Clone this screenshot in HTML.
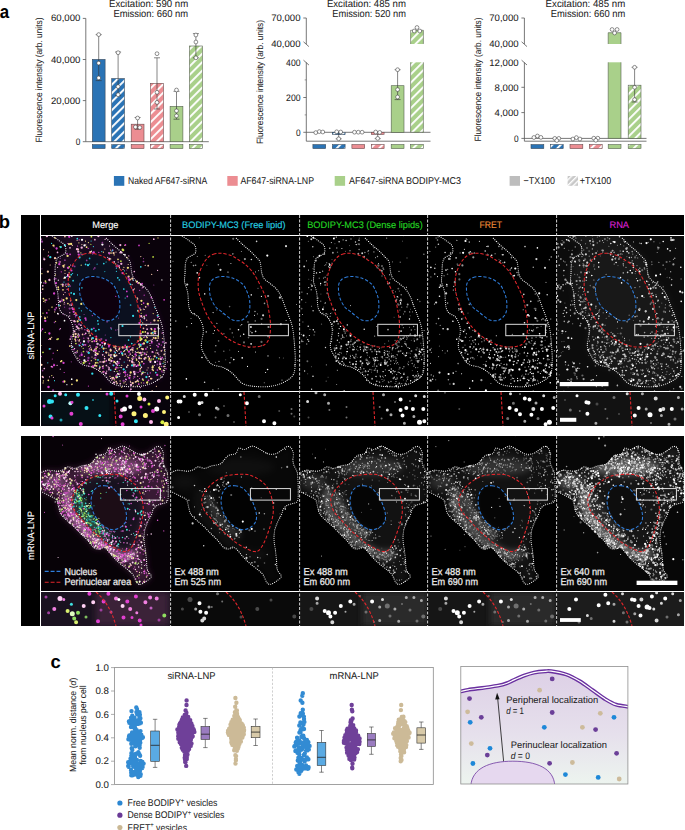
<!DOCTYPE html>
<html><head><meta charset="utf-8"><style>
html,body{margin:0;padding:0;background:#fff;}
body{width:685px;height:830px;overflow:hidden;}
svg{display:block;font-family:"Liberation Sans", sans-serif;text-rendering:geometricPrecision;}
</style></head><body>
<svg width="685" height="830" viewBox="0 0 685 830">
<defs>
<pattern id="hb" patternUnits="userSpaceOnUse" width="6" height="6" patternTransform="rotate(45)"><rect width="6" height="6" fill="#2a73b5"/><rect x="0" width="1.9" height="6" fill="#fff"/></pattern>
<pattern id="hp" patternUnits="userSpaceOnUse" width="6" height="6" patternTransform="rotate(45)"><rect width="6" height="6" fill="#ec8d92"/><rect x="0" width="1.9" height="6" fill="#fff"/></pattern>
<pattern id="hg" patternUnits="userSpaceOnUse" width="6" height="6" patternTransform="rotate(45)"><rect width="6" height="6" fill="#a9d08a"/><rect x="0" width="1.9" height="6" fill="#fff"/></pattern>
<pattern id="hk" patternUnits="userSpaceOnUse" width="4" height="4" patternTransform="rotate(45)"><rect width="4" height="4" fill="#c8c8c8"/><rect x="0" width="1.4" height="4" fill="#fff"/></pattern>
<filter id="bl1" x="-10%" y="-10%" width="120%" height="120%"><feGaussianBlur stdDeviation="0.35"/></filter>
<filter id="bl2" x="-10%" y="-10%" width="120%" height="120%"><feGaussianBlur stdDeviation="0.8"/></filter>
<filter id="bl5" x="-10%" y="-10%" width="120%" height="120%"><feGaussianBlur stdDeviation="0.55"/></filter>
<filter id="bl3" x="-10%" y="-10%" width="120%" height="120%"><feGaussianBlur stdDeviation="3"/></filter>
<linearGradient id="cellg" x1="0" y1="0" x2="0" y2="1"><stop offset="0" stop-color="#ddd0e6"/><stop offset="0.55" stop-color="#e6e0ec"/><stop offset="1" stop-color="#edf5ef"/></linearGradient>
</defs>
<text x="-0.30" y="18.00" font-size="18.4" fill="#000" font-weight="bold" textLength="9.40" lengthAdjust="spacingAndGlyphs">a</text>
<text x="109.00" y="6.70" font-size="10.12" fill="#222" stroke="#222" stroke-width="0.05" textLength="79.20" lengthAdjust="spacingAndGlyphs">Excitation: 590 nm</text>
<text x="113.40" y="17.30" font-size="10.12" fill="#222" stroke="#222" stroke-width="0.05" textLength="74.80" lengthAdjust="spacingAndGlyphs">Emission: 660 nm</text>
<text x="42.40" y="80.00" font-size="9.13" fill="#222" stroke="#222" stroke-width="0.05" text-anchor="middle" textLength="124.80" lengthAdjust="spacingAndGlyphs" transform="rotate(-90 42.40 80.00)">Fluorescence intensity (arb. units)</text>
<path d="M85.8 18.4V141.7H208.8" stroke="#555" stroke-width="0.8" fill="none"/>
<path d="M82.8 141.70H85.8" stroke="#555" stroke-width="0.8"/>
<text x="75.70" y="144.70" font-size="9.46" fill="#222" stroke="#222" stroke-width="0.05" textLength="4.60" lengthAdjust="spacingAndGlyphs">0</text>
<path d="M82.8 100.60H85.8" stroke="#555" stroke-width="0.8"/>
<text x="51.00" y="103.60" font-size="9.46" fill="#222" stroke="#222" stroke-width="0.05" textLength="29.30" lengthAdjust="spacingAndGlyphs">20,000</text>
<path d="M82.8 59.50H85.8" stroke="#555" stroke-width="0.8"/>
<text x="51.00" y="62.50" font-size="9.46" fill="#222" stroke="#222" stroke-width="0.05" textLength="29.30" lengthAdjust="spacingAndGlyphs">40,000</text>
<path d="M82.8 18.40H85.8" stroke="#555" stroke-width="0.8"/>
<text x="51.00" y="21.40" font-size="9.46" fill="#222" stroke="#222" stroke-width="0.05" textLength="29.30" lengthAdjust="spacingAndGlyphs">60,000</text>
<rect x="92.30" y="59.40" width="12.80" height="82.30" fill="#2a73b5" stroke="#3a4a5a" stroke-width="0.6"/>
<rect x="92.30" y="144.60" width="12.80" height="4.00" fill="#2a73b5" stroke="#3a4a5a" stroke-width="0.6"/>
<rect x="111.70" y="78.60" width="12.80" height="63.10" fill="url(#hb)" stroke="#3a4a5a" stroke-width="0.6"/>
<rect x="111.70" y="144.60" width="12.80" height="4.00" fill="url(#hb)" stroke="#3a4a5a" stroke-width="0.6"/>
<rect x="131.20" y="124.20" width="12.80" height="17.50" fill="#ec8d92" stroke="#6a4a4c" stroke-width="0.6"/>
<rect x="131.20" y="144.60" width="12.80" height="4.00" fill="#ec8d92" stroke="#6a4a4c" stroke-width="0.6"/>
<rect x="150.60" y="83.30" width="12.80" height="58.40" fill="url(#hp)" stroke="#6a4a4c" stroke-width="0.6"/>
<rect x="150.60" y="144.60" width="12.80" height="4.00" fill="url(#hp)" stroke="#6a4a4c" stroke-width="0.6"/>
<rect x="170.10" y="106.40" width="12.80" height="35.30" fill="#a9d08a" stroke="#55604e" stroke-width="0.6"/>
<rect x="170.10" y="144.60" width="12.80" height="4.00" fill="#a9d08a" stroke="#55604e" stroke-width="0.6"/>
<rect x="189.50" y="46.00" width="12.80" height="95.70" fill="url(#hg)" stroke="#55604e" stroke-width="0.6"/>
<rect x="189.50" y="144.60" width="12.80" height="4.00" fill="url(#hg)" stroke="#55604e" stroke-width="0.6"/>
<path d="M98.70 34.60V80.60M95.70 34.60h6M95.70 80.60h6" stroke="#333" stroke-width="0.6" fill="none"/>
<circle cx="98.70" cy="34.60" r="1.9" fill="#fff" stroke="#444" stroke-width="0.6"/>
<circle cx="98.70" cy="63.10" r="1.9" fill="#fff" stroke="#444" stroke-width="0.6"/>
<circle cx="98.70" cy="77.90" r="1.9" fill="#fff" stroke="#444" stroke-width="0.6"/>
<path d="M118.10 52.00V95.70M115.10 52.00h6M115.10 95.70h6" stroke="#333" stroke-width="0.6" fill="none"/>
<circle cx="118.10" cy="52.70" r="1.9" fill="#fff" stroke="#444" stroke-width="0.6"/>
<circle cx="118.10" cy="86.60" r="1.9" fill="#fff" stroke="#444" stroke-width="0.6"/>
<circle cx="118.10" cy="94.70" r="1.9" fill="#fff" stroke="#444" stroke-width="0.6"/>
<path d="M137.60 117.50V129.30M134.60 117.50h6M134.60 129.30h6" stroke="#333" stroke-width="0.6" fill="none"/>
<circle cx="137.60" cy="118.00" r="1.9" fill="#fff" stroke="#444" stroke-width="0.6"/>
<circle cx="135.40" cy="127.00" r="1.9" fill="#fff" stroke="#444" stroke-width="0.6"/>
<circle cx="139.80" cy="127.50" r="1.9" fill="#fff" stroke="#444" stroke-width="0.6"/>
<path d="M157.00 57.80V109.00M154.00 57.80h6M154.00 109.00h6" stroke="#333" stroke-width="0.6" fill="none"/>
<circle cx="157.00" cy="53.70" r="1.9" fill="#fff" stroke="#444" stroke-width="0.6"/>
<circle cx="157.00" cy="92.30" r="1.9" fill="#fff" stroke="#444" stroke-width="0.6"/>
<circle cx="157.00" cy="102.40" r="1.9" fill="#fff" stroke="#444" stroke-width="0.6"/>
<path d="M176.50 91.30V119.20M173.50 91.30h6M173.50 119.20h6" stroke="#333" stroke-width="0.6" fill="none"/>
<circle cx="176.50" cy="90.00" r="1.9" fill="#fff" stroke="#444" stroke-width="0.6"/>
<circle cx="176.50" cy="110.80" r="1.9" fill="#fff" stroke="#444" stroke-width="0.6"/>
<circle cx="176.50" cy="115.80" r="1.9" fill="#fff" stroke="#444" stroke-width="0.6"/>
<path d="M195.90 33.60V57.80M192.90 33.60h6M192.90 57.80h6" stroke="#333" stroke-width="0.6" fill="none"/>
<circle cx="195.90" cy="35.00" r="1.9" fill="#fff" stroke="#444" stroke-width="0.6"/>
<circle cx="195.90" cy="42.00" r="1.9" fill="#fff" stroke="#444" stroke-width="0.6"/>
<circle cx="195.90" cy="57.80" r="1.9" fill="#fff" stroke="#444" stroke-width="0.6"/>
<text x="326.90" y="6.70" font-size="10.12" fill="#222" stroke="#222" stroke-width="0.05" textLength="79.00" lengthAdjust="spacingAndGlyphs">Excitation: 485 nm</text>
<text x="332.30" y="17.30" font-size="10.12" fill="#222" stroke="#222" stroke-width="0.05" textLength="73.60" lengthAdjust="spacingAndGlyphs">Emission: 520 nm</text>
<text x="263.30" y="82.00" font-size="9.13" fill="#222" stroke="#222" stroke-width="0.05" text-anchor="middle" textLength="124.00" lengthAdjust="spacingAndGlyphs" transform="rotate(-90 263.30 82.00)">Fluorescence intensity (arb. units)</text>
<path d="M306.3 18V44M303.5 41.8L308.90000000000003 46.6M306.3 62.4V141.2M303.5 60.2L308.90000000000003 65" stroke="#555" stroke-width="0.8" fill="none"/>
<path d="M303.3 18H306.3" stroke="#555" stroke-width="0.8"/>
<text x="271.20" y="21.30" font-size="9.46" fill="#222" stroke="#222" stroke-width="0.05" textLength="29.30" lengthAdjust="spacingAndGlyphs">70,000</text>
<text x="271.20" y="47.30" font-size="9.46" fill="#222" stroke="#222" stroke-width="0.05" textLength="29.30" lengthAdjust="spacingAndGlyphs">40,000</text>
<text x="286.10" y="65.50" font-size="9.46" fill="#222" stroke="#222" stroke-width="0.05" textLength="14.40" lengthAdjust="spacingAndGlyphs">400</text>
<path d="M303.3 97.50H306.3" stroke="#555" stroke-width="0.8"/>
<text x="286.10" y="100.80" font-size="9.46" fill="#222" stroke="#222" stroke-width="0.05" textLength="14.40" lengthAdjust="spacingAndGlyphs">200</text>
<path d="M303.3 132.30H306.3" stroke="#555" stroke-width="0.8"/>
<text x="295.90" y="135.60" font-size="9.46" fill="#222" stroke="#222" stroke-width="0.05" textLength="4.60" lengthAdjust="spacingAndGlyphs">0</text>
<path d="M304.7 79.90H306.3" stroke="#555" stroke-width="0.6"/>
<path d="M304.7 114.90H306.3" stroke="#555" stroke-width="0.6"/>
<path d="M306.3 132.3H430.5M306.3 141.2H430.5" stroke="#555" stroke-width="0.8" fill="none"/>
<rect x="312.90" y="144.60" width="12.80" height="4.00" fill="#2a73b5" stroke="#3a4a5a" stroke-width="0.6"/>
<rect x="332.30" y="144.60" width="12.80" height="4.00" fill="url(#hb)" stroke="#3a4a5a" stroke-width="0.6"/>
<rect x="351.90" y="144.60" width="12.80" height="4.00" fill="#ec8d92" stroke="#6a4a4c" stroke-width="0.6"/>
<rect x="371.30" y="144.60" width="12.80" height="4.00" fill="url(#hp)" stroke="#6a4a4c" stroke-width="0.6"/>
<rect x="391.20" y="144.60" width="12.80" height="4.00" fill="#a9d08a" stroke="#55604e" stroke-width="0.6"/>
<rect x="410.60" y="144.60" width="12.80" height="4.00" fill="url(#hg)" stroke="#55604e" stroke-width="0.6"/>
<rect x="410.60" y="30.30" width="12.80" height="13.70" fill="url(#hg)"/>
<path d="M410.60 44.00V30.30H423.40V44.00" fill="none" stroke="#55604e" stroke-width="0.6"/>
<rect x="391.20" y="85.70" width="12.80" height="46.60" fill="#a9d08a" stroke="#55604e" stroke-width="0.6"/>
<rect x="410.60" y="62.30" width="12.80" height="70.00" fill="url(#hg)"/>
<path d="M410.60 62.30V132.30H423.40V62.30" fill="none" stroke="#55604e" stroke-width="0.6"/>
<rect x="332.30" y="132.30" width="12.80" height="2.30" fill="url(#hb)" stroke="#3a4a5a" stroke-width="0.6"/>
<rect x="371.30" y="132.30" width="12.80" height="2.10" fill="url(#hp)" stroke="#6a4a4c" stroke-width="0.6"/>
<path d="M397.60 69.70V99.60M394.60 69.70h6M394.60 99.60h6" stroke="#333" stroke-width="0.6" fill="none"/>
<path d="M338.70 132.30V138.80M335.70 132.30h6M335.70 138.80h6" stroke="#333" stroke-width="0.6" fill="none"/>
<path d="M377.70 132.30V138.60M374.70 132.30h6M374.70 138.60h6" stroke="#333" stroke-width="0.6" fill="none"/>
<circle cx="315.80" cy="132.60" r="1.9" fill="#fff" stroke="#444" stroke-width="0.6"/>
<circle cx="319.30" cy="131.60" r="1.9" fill="#fff" stroke="#444" stroke-width="0.6"/>
<circle cx="322.80" cy="132.00" r="1.9" fill="#fff" stroke="#444" stroke-width="0.6"/>
<circle cx="336.70" cy="131.80" r="1.9" fill="#fff" stroke="#444" stroke-width="0.6"/>
<circle cx="340.70" cy="132.00" r="1.9" fill="#fff" stroke="#444" stroke-width="0.6"/>
<circle cx="338.70" cy="138.80" r="1.9" fill="#fff" stroke="#444" stroke-width="0.6"/>
<circle cx="354.50" cy="132.20" r="1.9" fill="#fff" stroke="#444" stroke-width="0.6"/>
<circle cx="358.30" cy="132.20" r="1.9" fill="#fff" stroke="#444" stroke-width="0.6"/>
<circle cx="362.10" cy="132.20" r="1.9" fill="#fff" stroke="#444" stroke-width="0.6"/>
<circle cx="375.70" cy="132.00" r="1.9" fill="#fff" stroke="#444" stroke-width="0.6"/>
<circle cx="379.70" cy="132.40" r="1.9" fill="#fff" stroke="#444" stroke-width="0.6"/>
<circle cx="377.70" cy="138.40" r="1.9" fill="#fff" stroke="#444" stroke-width="0.6"/>
<circle cx="397.60" cy="69.70" r="1.9" fill="#fff" stroke="#444" stroke-width="0.6"/>
<circle cx="397.60" cy="89.60" r="1.9" fill="#fff" stroke="#444" stroke-width="0.6"/>
<circle cx="397.60" cy="97.00" r="1.9" fill="#fff" stroke="#444" stroke-width="0.6"/>
<circle cx="417.00" cy="27.50" r="1.9" fill="#fff" stroke="#444" stroke-width="0.6"/>
<circle cx="414.20" cy="31.00" r="1.9" fill="#fff" stroke="#444" stroke-width="0.6"/>
<circle cx="419.80" cy="31.00" r="1.9" fill="#fff" stroke="#444" stroke-width="0.6"/>
<text x="545.60" y="6.70" font-size="10.12" fill="#222" stroke="#222" stroke-width="0.05" textLength="79.60" lengthAdjust="spacingAndGlyphs">Excitation: 485 nm</text>
<text x="550.80" y="17.30" font-size="10.12" fill="#222" stroke="#222" stroke-width="0.05" textLength="74.40" lengthAdjust="spacingAndGlyphs">Emission: 660 nm</text>
<text x="480.50" y="79.50" font-size="9.13" fill="#222" stroke="#222" stroke-width="0.05" text-anchor="middle" textLength="124.00" lengthAdjust="spacingAndGlyphs" transform="rotate(-90 480.50 79.50)">Fluorescence intensity (arb. units)</text>
<path d="M524.4 18V44M521.6 41.8L527.0 46.6M524.4 62.4V141.2M521.6 60.2L527.0 65" stroke="#555" stroke-width="0.8" fill="none"/>
<path d="M521.4 18H524.4" stroke="#555" stroke-width="0.8"/>
<text x="489.30" y="21.30" font-size="9.46" fill="#222" stroke="#222" stroke-width="0.05" textLength="29.30" lengthAdjust="spacingAndGlyphs">70,000</text>
<text x="489.30" y="47.30" font-size="9.46" fill="#222" stroke="#222" stroke-width="0.05" textLength="29.30" lengthAdjust="spacingAndGlyphs">40,000</text>
<text x="489.30" y="65.90" font-size="9.46" fill="#222" stroke="#222" stroke-width="0.05" textLength="29.30" lengthAdjust="spacingAndGlyphs">12,000</text>
<path d="M521.4 87.30H524.4" stroke="#555" stroke-width="0.8"/>
<text x="494.60" y="90.60" font-size="9.46" fill="#222" stroke="#222" stroke-width="0.05" textLength="24.00" lengthAdjust="spacingAndGlyphs">8,000</text>
<path d="M521.4 112.60H524.4" stroke="#555" stroke-width="0.8"/>
<text x="494.60" y="115.90" font-size="9.46" fill="#222" stroke="#222" stroke-width="0.05" textLength="24.00" lengthAdjust="spacingAndGlyphs">4,000</text>
<path d="M521.4 138.40H524.4" stroke="#555" stroke-width="0.8"/>
<text x="514.00" y="141.70" font-size="9.46" fill="#222" stroke="#222" stroke-width="0.05" textLength="4.60" lengthAdjust="spacingAndGlyphs">0</text>
<path d="M524.4 138.4H646.5M524.4 141.2H646.5" stroke="#555" stroke-width="0.8" fill="none"/>
<rect x="531.00" y="144.60" width="12.80" height="4.00" fill="#2a73b5" stroke="#3a4a5a" stroke-width="0.6"/>
<rect x="550.40" y="144.60" width="12.80" height="4.00" fill="url(#hb)" stroke="#3a4a5a" stroke-width="0.6"/>
<rect x="570.00" y="144.60" width="12.80" height="4.00" fill="#ec8d92" stroke="#6a4a4c" stroke-width="0.6"/>
<rect x="589.40" y="144.60" width="12.80" height="4.00" fill="url(#hp)" stroke="#6a4a4c" stroke-width="0.6"/>
<rect x="608.20" y="144.60" width="12.80" height="4.00" fill="#a9d08a" stroke="#55604e" stroke-width="0.6"/>
<rect x="628.20" y="144.60" width="12.80" height="4.00" fill="url(#hg)" stroke="#55604e" stroke-width="0.6"/>
<rect x="608.20" y="32.70" width="12.80" height="11.30" fill="#a9d08a"/>
<path d="M608.20 44.00V32.70H621.00V44.00" fill="none" stroke="#55604e" stroke-width="0.6"/>
<rect x="608.20" y="62.30" width="12.80" height="76.10" fill="#a9d08a"/>
<path d="M608.20 62.30V138.40H621.00V62.30" fill="none" stroke="#55604e" stroke-width="0.6"/>
<rect x="628.20" y="85.20" width="12.80" height="53.20" fill="url(#hg)" stroke="#55604e" stroke-width="0.6"/>
<path d="M634.60 67.30V102.00M631.60 67.30h6M631.60 102.00h6" stroke="#333" stroke-width="0.6" fill="none"/>
<circle cx="533.90" cy="137.50" r="1.9" fill="#fff" stroke="#444" stroke-width="0.6"/>
<circle cx="537.40" cy="136.00" r="1.9" fill="#fff" stroke="#444" stroke-width="0.6"/>
<circle cx="540.90" cy="137.40" r="1.9" fill="#fff" stroke="#444" stroke-width="0.6"/>
<circle cx="554.80" cy="138.40" r="1.9" fill="#fff" stroke="#444" stroke-width="0.6"/>
<circle cx="558.80" cy="138.40" r="1.9" fill="#fff" stroke="#444" stroke-width="0.6"/>
<circle cx="556.80" cy="140.50" r="1.9" fill="#fff" stroke="#444" stroke-width="0.6"/>
<circle cx="572.90" cy="139.00" r="1.9" fill="#fff" stroke="#444" stroke-width="0.6"/>
<circle cx="576.40" cy="137.60" r="1.9" fill="#fff" stroke="#444" stroke-width="0.6"/>
<circle cx="579.90" cy="139.00" r="1.9" fill="#fff" stroke="#444" stroke-width="0.6"/>
<circle cx="593.80" cy="138.20" r="1.9" fill="#fff" stroke="#444" stroke-width="0.6"/>
<circle cx="597.80" cy="138.20" r="1.9" fill="#fff" stroke="#444" stroke-width="0.6"/>
<circle cx="595.80" cy="140.30" r="1.9" fill="#fff" stroke="#444" stroke-width="0.6"/>
<circle cx="612.10" cy="29.50" r="1.9" fill="#fff" stroke="#444" stroke-width="0.6"/>
<circle cx="617.10" cy="29.50" r="1.9" fill="#fff" stroke="#444" stroke-width="0.6"/>
<circle cx="614.60" cy="33.00" r="1.9" fill="#fff" stroke="#444" stroke-width="0.6"/>
<circle cx="634.60" cy="67.30" r="1.9" fill="#fff" stroke="#444" stroke-width="0.6"/>
<circle cx="634.60" cy="87.30" r="1.9" fill="#fff" stroke="#444" stroke-width="0.6"/>
<circle cx="634.60" cy="99.60" r="1.9" fill="#fff" stroke="#444" stroke-width="0.6"/>
<rect x="113.9" y="176" width="10.4" height="9.8" fill="#2a73b5"/>
<text x="128.00" y="183.90" font-size="9.9" fill="#222" stroke="#222" stroke-width="0.05" textLength="79.20" lengthAdjust="spacingAndGlyphs">Naked AF647-siRNA</text>
<rect x="227.3" y="176" width="10.4" height="9.8" fill="#ec8d92"/>
<text x="240.40" y="183.90" font-size="9.9" fill="#222" stroke="#222" stroke-width="0.05" textLength="73.60" lengthAdjust="spacingAndGlyphs">AF647-siRNA-LNP</text>
<rect x="334.7" y="176" width="10.4" height="9.8" fill="#a9d08a"/>
<text x="349.00" y="183.90" font-size="9.9" fill="#222" stroke="#222" stroke-width="0.05" textLength="112.00" lengthAdjust="spacingAndGlyphs">AF647-siRNA BODIPY-MC3</text>
<rect x="509.6" y="176" width="10.4" height="9.8" fill="#bdbdbd"/>
<text x="523.60" y="183.90" font-size="9.9" fill="#222" stroke="#222" stroke-width="0.05" textLength="31.40" lengthAdjust="spacingAndGlyphs">−TX100</text>
<rect x="567.6" y="176" width="10.4" height="9.8" fill="url(#hk)"/>
<text x="579.80" y="183.90" font-size="9.9" fill="#222" stroke="#222" stroke-width="0.05" textLength="31.50" lengthAdjust="spacingAndGlyphs">+TX100</text>
<text x="-1.30" y="227.80" font-size="18.4" fill="#000" font-weight="bold">b</text>
<rect x="21" y="215" width="663" height="211" fill="#000"/>
<rect x="21" y="436" width="663" height="190" fill="#000"/>
<defs>
<path id="s1o" d="M10.6 0.0C12.1 1.0 16.9 4.0 19.3 5.8C21.7 7.6 23.9 8.7 25.0 10.6C26.1 12.5 26.1 15.8 25.6 17.4C25.1 19.0 23.6 19.4 22.2 20.3C20.8 21.2 18.5 21.7 17.4 23.1C16.3 24.6 15.8 26.4 15.4 29.0C15.0 31.6 15.2 35.7 15.0 38.6C14.8 41.5 14.3 44.2 14.5 46.3C14.7 48.4 15.3 49.2 15.9 51.1C16.4 53.0 17.4 55.5 17.8 57.9C18.2 60.3 18.1 63.0 18.3 65.6C18.6 68.2 18.7 71.2 19.3 73.3C19.9 75.4 20.7 76.6 22.2 78.1C23.7 79.5 26.8 80.0 28.5 82.0C30.2 84.0 31.7 87.3 32.5 90.0C33.3 92.7 33.4 94.4 33.2 97.9C33.0 101.4 31.0 107.4 31.3 111.2C31.6 115.0 33.4 117.6 35.1 120.6C36.8 123.6 38.7 127.2 41.7 129.2C44.7 131.2 49.6 130.9 53.1 132.5C56.6 134.1 59.4 135.9 62.6 138.5C65.8 141.1 68.6 146.1 72.1 148.2C75.6 150.3 78.8 150.8 83.5 151.3C88.2 151.8 95.5 152.0 100.6 151.3C105.7 150.6 110.1 149.1 113.9 147.2C117.7 145.2 121.4 143.1 123.3 139.6C125.2 136.1 125.0 131.7 125.2 126.3C125.4 120.9 124.8 113.1 124.3 107.4C123.8 101.7 123.4 96.6 122.4 92.2C121.5 87.8 120.0 84.6 118.6 80.8C117.2 77.0 115.4 72.6 114.2 69.4C113.0 66.2 112.6 64.3 111.3 61.7C110.0 59.1 108.4 56.2 106.5 54.0C104.6 51.8 101.8 50.0 99.7 48.2C97.6 46.4 95.3 45.3 93.9 43.4C92.5 41.5 92.1 39.3 91.5 36.6C90.9 33.9 91.1 29.6 90.1 27.0C89.1 24.4 87.1 23.1 85.3 21.2C83.5 19.3 81.6 17.3 79.5 15.4C77.4 13.5 75.0 11.7 72.7 9.6C70.5 7.5 67.1 4.0 66.0 2.9"/>
<path id="s1c" d="M10.6 -6.0C1.7 -5.0 9.1 -2.0 10.6 0.0C12.1 2.0 16.9 4.0 19.3 5.8C21.7 7.6 23.9 8.7 25.0 10.6C26.1 12.5 26.1 15.8 25.6 17.4C25.1 19.0 23.6 19.4 22.2 20.3C20.8 21.2 18.5 21.7 17.4 23.1C16.3 24.6 15.8 26.4 15.4 29.0C15.0 31.6 15.2 35.7 15.0 38.6C14.8 41.5 14.3 44.2 14.5 46.3C14.7 48.4 15.3 49.2 15.9 51.1C16.4 53.0 17.4 55.5 17.8 57.9C18.2 60.3 18.1 63.0 18.3 65.6C18.6 68.2 18.7 71.2 19.3 73.3C19.9 75.4 20.7 76.6 22.2 78.1C23.7 79.5 26.8 80.0 28.5 82.0C30.2 84.0 31.7 87.3 32.5 90.0C33.3 92.7 33.4 94.4 33.2 97.9C33.0 101.4 31.0 107.4 31.3 111.2C31.6 115.0 33.4 117.6 35.1 120.6C36.8 123.6 38.7 127.2 41.7 129.2C44.7 131.2 49.6 130.9 53.1 132.5C56.6 134.1 59.4 135.9 62.6 138.5C65.8 141.1 68.6 146.1 72.1 148.2C75.6 150.3 78.8 150.8 83.5 151.3C88.2 151.8 95.5 152.0 100.6 151.3C105.7 150.6 110.1 149.1 113.9 147.2C117.7 145.2 121.4 143.1 123.3 139.6C125.2 136.1 125.0 131.7 125.2 126.3C125.4 120.9 124.8 113.1 124.3 107.4C123.8 101.7 123.4 96.6 122.4 92.2C121.5 87.8 120.0 84.6 118.6 80.8C117.2 77.0 115.4 72.6 114.2 69.4C113.0 66.2 112.6 64.3 111.3 61.7C110.0 59.1 108.4 56.2 106.5 54.0C104.6 51.8 101.8 50.0 99.7 48.2C97.6 46.4 95.3 45.3 93.9 43.4C92.5 41.5 92.1 39.3 91.5 36.6C90.9 33.9 91.1 29.6 90.1 27.0C89.1 24.4 87.1 23.1 85.3 21.2C83.5 19.3 81.6 17.3 79.5 15.4C77.4 13.5 75.0 11.7 72.7 9.6C70.5 7.5 67.5 5.5 66.0 2.9C64.5 0.3 73.2 -4.5 64.0 -6.0C54.8 -7.5 19.5 -7.0 10.6 -6.0Z"/>
<path id="s1r" d="M43.4 19.3C45.6 18.6 48.0 18.1 51.1 18.3C54.2 18.5 58.9 19.7 61.7 20.7C64.5 21.7 65.8 23.1 68.0 24.5C70.2 25.9 72.4 27.0 74.6 28.9C76.8 30.8 79.3 33.1 81.4 35.7C83.5 38.3 85.3 41.0 87.2 44.4C89.1 47.8 91.4 52.4 93.0 55.9C94.6 59.4 95.8 62.1 96.8 65.6C97.8 69.1 98.4 73.3 99.0 77.0C99.6 80.7 100.3 84.0 100.4 88.0C100.5 92.0 100.5 97.6 99.8 101.0C99.1 104.4 97.8 106.8 96.0 108.5C94.2 110.2 92.4 110.9 89.2 111.4C86.0 111.9 81.4 112.4 77.0 111.6C72.6 110.8 66.6 108.4 62.6 106.4C58.6 104.4 56.3 102.5 53.1 99.8C49.9 97.1 46.4 93.8 43.6 90.3C40.8 86.8 38.5 83.0 36.5 79.0C34.5 75.0 32.6 69.8 31.3 66.0C30.0 62.2 29.1 59.3 28.6 56.0C28.1 52.7 28.1 49.1 28.2 46.0C28.3 42.9 28.6 40.4 29.5 37.5C30.4 34.6 32.1 31.0 33.5 28.5C34.9 26.0 36.4 24.0 38.0 22.5C39.6 21.0 41.2 20.0 43.4 19.3Z"/>
<path id="s1b" d="M46.3 42.4C48.3 41.7 51.1 41.3 54.0 41.5C56.9 41.7 60.5 42.1 63.6 43.4C66.7 44.7 70.4 46.8 72.7 49.2C75.0 51.6 76.3 54.9 77.5 57.9C78.7 60.9 79.6 64.1 79.8 67.5C80.0 70.9 80.0 75.4 78.7 78.3C77.4 81.2 74.8 83.8 72.1 84.9C69.4 86.0 66.1 86.3 62.6 84.9C59.1 83.5 54.1 78.7 51.2 76.4C48.3 74.2 47.1 73.9 45.3 71.4C43.5 69.0 41.5 65.1 40.5 61.7C39.5 58.3 39.3 53.8 39.5 51.1C39.7 48.4 40.7 47.0 41.8 45.5C42.9 44.0 44.3 43.1 46.3 42.4Z"/>
<path id="s2o" d="M1.9 37.2C2.9 36.9 5.1 35.4 7.7 35.2C10.3 35.0 14.8 36.3 17.4 36.2C20.0 36.1 21.3 35.5 23.1 34.8C24.9 34.1 26.1 32.1 28.0 31.9C29.9 31.6 32.5 33.5 34.7 33.3C37.0 33.1 38.9 31.6 41.5 30.9C44.1 30.2 48.0 30.0 50.1 29.0C52.2 28.0 52.7 26.5 54.0 25.1C55.3 23.7 56.6 21.7 57.9 20.8C59.2 19.9 60.6 19.9 62.0 19.5C63.4 19.1 64.8 19.5 66.0 18.4C67.2 17.3 67.5 13.8 68.9 13.1C70.3 12.4 72.3 14.8 74.6 14.5C76.8 14.2 79.8 11.1 82.4 11.1C85.0 11.1 87.5 13.2 90.1 14.5C92.7 15.8 95.2 18.1 97.8 18.8C100.4 19.5 103.2 19.4 105.5 18.8C107.8 18.2 109.4 16.7 111.3 15.5C113.2 14.3 115.5 12.1 117.1 11.6C118.7 11.1 119.9 11.5 120.9 12.6C121.9 13.7 123.0 16.3 123.3 18.4C123.6 20.5 122.8 23.2 122.9 25.1C123.0 27.0 123.2 28.1 123.8 29.9C124.4 31.7 126.0 33.8 126.7 35.7C127.4 37.6 127.5 38.3 127.7 41.5C128.0 44.7 128.2 50.9 128.2 55.0C128.2 59.1 128.4 63.8 127.5 66.0C126.6 68.2 124.6 67.8 122.9 68.5C121.2 69.2 118.7 69.4 117.1 70.4C115.5 71.4 114.2 72.7 113.2 74.3C112.2 75.9 112.3 77.9 111.3 80.1C110.3 82.3 108.5 84.9 107.4 87.6C106.3 90.3 105.0 93.2 104.5 96.3C104.0 99.3 103.9 102.7 104.1 105.9C104.3 109.1 105.1 112.4 105.5 115.6C105.9 118.8 106.2 122.0 106.5 125.2C106.8 128.4 106.6 132.2 107.4 134.9C108.2 137.6 111.3 139.3 111.3 141.1C111.3 142.9 109.2 144.1 107.4 145.5C105.6 146.9 102.5 149.0 100.7 149.3C98.9 149.6 98.1 149.0 96.8 147.4C95.5 145.8 94.5 141.8 93.0 139.7C91.5 137.6 90.3 136.8 88.1 134.9C85.8 133.0 82.1 130.3 79.5 128.1C76.9 125.8 75.1 123.9 72.7 121.4C70.3 118.9 67.3 114.2 65.0 113.0C62.7 111.8 60.8 114.0 59.0 114.0C57.2 114.0 56.0 114.2 54.0 112.7C52.0 111.2 49.5 107.4 47.3 105.0C45.0 102.6 42.9 100.6 40.5 98.2C38.1 95.8 35.4 92.9 32.8 90.5C30.2 88.1 27.2 85.9 25.1 83.8C23.0 81.7 21.4 80.3 20.3 78.1C19.2 75.9 19.0 72.7 18.3 70.4C17.6 68.2 17.8 66.2 16.4 64.6C14.9 63.0 12.0 62.1 9.6 60.8C7.2 59.5 3.2 57.5 1.9 56.9"/>
<path id="s2c" d="M-4.0 37.5C-3.0 34.3 -0.1 37.6 1.9 37.2C3.8 36.8 5.1 35.4 7.7 35.2C10.3 35.0 14.8 36.3 17.4 36.2C20.0 36.1 21.3 35.5 23.1 34.8C24.9 34.1 26.1 32.1 28.0 31.9C29.9 31.6 32.5 33.5 34.7 33.3C37.0 33.1 38.9 31.6 41.5 30.9C44.1 30.2 48.0 30.0 50.1 29.0C52.2 28.0 52.7 26.5 54.0 25.1C55.3 23.7 56.6 21.7 57.9 20.8C59.2 19.9 60.6 19.9 62.0 19.5C63.4 19.1 64.8 19.5 66.0 18.4C67.2 17.3 67.5 13.8 68.9 13.1C70.3 12.4 72.3 14.8 74.6 14.5C76.8 14.2 79.8 11.1 82.4 11.1C85.0 11.1 87.5 13.2 90.1 14.5C92.7 15.8 95.2 18.1 97.8 18.8C100.4 19.5 103.2 19.4 105.5 18.8C107.8 18.2 109.4 16.7 111.3 15.5C113.2 14.3 115.5 12.1 117.1 11.6C118.7 11.1 119.9 11.5 120.9 12.6C121.9 13.7 123.0 16.3 123.3 18.4C123.6 20.5 122.8 23.2 122.9 25.1C123.0 27.0 123.2 28.1 123.8 29.9C124.4 31.7 126.0 33.8 126.7 35.7C127.4 37.6 127.5 38.3 127.7 41.5C128.0 44.7 128.2 50.9 128.2 55.0C128.2 59.1 128.4 63.8 127.5 66.0C126.6 68.2 124.6 67.8 122.9 68.5C121.2 69.2 118.7 69.4 117.1 70.4C115.5 71.4 114.2 72.7 113.2 74.3C112.2 75.9 112.3 77.9 111.3 80.1C110.3 82.3 108.5 84.9 107.4 87.6C106.3 90.3 105.0 93.2 104.5 96.3C104.0 99.3 103.9 102.7 104.1 105.9C104.3 109.1 105.1 112.4 105.5 115.6C105.9 118.8 106.2 122.0 106.5 125.2C106.8 128.4 106.6 132.2 107.4 134.9C108.2 137.6 111.3 139.3 111.3 141.1C111.3 142.9 109.2 144.1 107.4 145.5C105.6 146.9 102.5 149.0 100.7 149.3C98.9 149.6 98.1 149.0 96.8 147.4C95.5 145.8 94.5 141.8 93.0 139.7C91.5 137.6 90.3 136.8 88.1 134.9C85.8 133.0 82.1 130.3 79.5 128.1C76.9 125.8 75.1 123.9 72.7 121.4C70.3 118.9 67.3 114.2 65.0 113.0C62.7 111.8 60.8 114.0 59.0 114.0C57.2 114.0 56.0 114.2 54.0 112.7C52.0 111.2 49.5 107.4 47.3 105.0C45.0 102.6 42.9 100.6 40.5 98.2C38.1 95.8 35.4 92.9 32.8 90.5C30.2 88.1 27.2 85.9 25.1 83.8C23.0 81.7 21.4 80.3 20.3 78.1C19.2 75.9 19.0 72.7 18.3 70.4C17.6 68.2 17.8 66.2 16.4 64.6C14.9 63.0 12.0 62.1 9.6 60.8C7.2 59.5 4.2 57.6 1.9 56.9C-0.4 56.2 -3.0 59.7 -4.0 56.5C-5.0 53.3 -5.0 40.7 -4.0 37.5Z"/>
<path id="s2r" d="M65.0 39.6C68.9 39.3 73.8 39.0 77.5 39.6C81.2 40.2 84.5 42.0 87.2 43.4C89.9 44.8 92.0 46.4 93.9 48.3C95.8 50.2 97.5 52.6 98.8 55.0C100.1 57.4 100.9 60.1 101.6 62.7C102.3 65.3 102.8 67.7 103.1 70.4C103.3 73.1 103.5 75.7 103.1 78.9C102.7 82.1 101.6 86.3 100.7 89.5C99.8 92.7 98.9 95.1 97.8 98.2C96.7 101.3 95.4 105.1 93.9 107.9C92.5 110.7 90.7 113.7 89.1 115.1C87.5 116.5 86.7 116.9 84.3 116.5C81.9 116.1 77.8 114.3 74.6 112.7C71.4 111.1 67.5 108.7 65.0 106.9C62.5 105.1 61.6 103.7 59.8 102.1C58.0 100.5 56.2 99.4 54.0 97.3C51.8 95.2 48.5 91.9 46.3 89.5C44.0 87.1 42.3 84.8 40.5 82.8C38.7 80.8 36.9 79.6 35.5 77.5C34.1 75.4 32.9 72.2 32.3 70.0C31.7 67.8 31.6 65.8 31.8 64.0C32.0 62.1 32.7 60.9 33.8 58.9C34.9 56.9 36.7 54.2 38.6 52.1C40.5 50.0 42.7 48.1 45.3 46.3C47.9 44.5 50.7 42.6 54.0 41.5C57.3 40.4 61.1 39.9 65.0 39.6Z"/>
<path id="s2b" d="M65.0 50.7C67.5 51.0 70.3 51.4 72.7 53.1C75.1 54.8 77.7 58.2 79.5 60.8C81.3 63.4 82.2 65.5 83.3 68.5C84.4 71.5 85.9 75.5 86.3 78.5C86.7 81.5 86.7 84.3 85.7 86.6C84.7 88.9 82.6 91.0 80.4 92.4C78.2 93.8 75.3 94.9 72.7 94.8C70.1 94.7 67.4 93.5 65.0 92.0C62.6 90.5 60.3 88.2 58.5 86.0C56.7 83.8 55.1 81.3 54.0 79.0C52.9 76.7 52.3 74.8 51.8 72.4C51.3 70.0 50.9 67.2 51.1 64.6C51.3 62.0 51.9 59.1 53.0 56.9C54.1 54.7 55.9 52.6 57.9 51.6C59.9 50.6 62.5 50.5 65.0 50.7Z"/>
<clipPath id="cc1"><use href="#s1c"/></clipPath><clipPath id="cc2"><use href="#s2c"/></clipPath>
</defs>
<clipPath id="cp0_236"><rect x="41" y="236" width="129" height="155"/></clipPath>
<g clip-path="url(#cp0_236)">
<rect x="41" y="236" width="129" height="155" fill="#0a020b"/>
<g filter="url(#bl3)"><use href="#s1c" transform="translate(40 235)" fill="#40104a" fill-opacity="0.35"/></g>
<g filter="url(#bl3)"><use href="#s1r" transform="translate(40 235)" fill="#04181c" fill-opacity="0.6"/></g>
<g filter="url(#bl2)"><use href="#s1b" transform="translate(40 235)" fill="#07020a" fill-opacity="1.0"/></g>
<g stroke-linecap="round" fill="none" filter="url(#bl1)"><path d="M52.2 307.1h0m71.9 44.1h0m23 0.8h0m-13.5 4.6h0m-6.7-7h0m-61.9-79h0m32.4 76.6h0m-18.5-104.4h0m-35.8 140.1h0m8.7-7.3h0m25.8-40.4h0m59.7 17.2h0m-93.9 28.5h0m74.9-6.5h0m-27-13.7h0m-10.4-107.8h0m34.3 109.5h0m45.1 13.4h0m-36.6-3.4h0m-38.2-131.3h0m45.9 108.6h0m-7.2 22.9h0m-82.3-98.9h0m38 54.7h0m-11.9-39.2h0m46.2-34.3h0m9.4 96.7h0m-11.2 6.6h0m7-90.8h0m17.9 118.4h0m-27.3-9.5h0m-9.1 12.8h0m14.8-125.2h0m22.7 88.2h0m2.6-6h0m-23.3 30.4h0m-33.3-20.2h0m5.5-15.7h0m-32.5 9.8h0m34.2-11.1h0m11.7 26.6h0m23.3-9.9h0m15.5-6.7h0m-3 7h0m-28.6-106.2h0m45.5 102.8h0m-112.2-51.5h0m50.3 56.9h0m48.6-35.4h0m1.1 14.6h0m-19.9-70.2h0m6.5 114.3h0m-50.8-41.9h0m73.6-5.1h0m-33.1 46.3h0m-33.9-19.4h0m-36.5-81h0m2.2 26.7h0m12.2-3.2h0m77.6 0.3h0m-93.6-48.3h0m116.5 94.5h0m-98.3-64.2h0m86.9 27.3h0m-29.2 69.3h0m-55.3-114.8h0m-13.2 6.8h0m33.5 58.3h0m-48.8 45.4h0m63.2-126.4h0m47.2 96.2h0m-62.3-8.4h0m-19.2-67.7h0m52.6 114.9h0m-19.6-25.2h0m47.8-21.3h0m-43.9 7.6h0m15.8 17h0m19.5 17.5h0m-63.9-31.9h0m47.4-105.6h0m33.2-7.4h0m-110.7 79.1h0m41.1-74.4h0m22.3 16.3h0m30.7 115.8h0m-85.8-53.4h0m44.3 50.1h0m19.7 2.8h0m-28-7.4h0m56.8-25.8h0m-66.7 5.6h0m58.4-10.4h0m-91.2-26.2h0m89.5 71.7h0m-74.5-103.4h0m76.7 92.8h0m-99.7-25.7h0" stroke="#f6e27a" stroke-width="1.2"/><path d="M95.5 352.3h0m-33.9 8.6h0m13.7-47.9h0m33.4 42h0m-60.4 25.3h0m25.4-44.1h0m-10.9-50.2h0m-17.7 14.1h0m0.3-19h0m74.1 67.4h0m7.4-91h0m-27 109.7h0m-41.4-77.9h0m37.6 59h0m55.5-18.8h0m-108.2-30.9h0m96.5 47.6h0m-79.1 15.3h0m84.5-29.6h0m-3.3 29.8h0m-9.8-13.2h0m-36.6 14.4h0m-54.7-46.4h0m100.2 42h0m-73.2-55h0m-9.7-16.3h0m99.9 33.4h0m-21.3 60.7h0m-79.7-42h0m47.6 22.1h0m40.8-21h0m13.5 27.1h0m-22.4-7.6h0m-66.8-13.9h0m70.9-36.2h0m-44.3 31.5h0m26.2 13.6h0m16.9 8h0m-83.1-100.1h0m83.2 81.7h0m-24.1 24.7h0m33.8-11h0m-38.3-105.2h0m-35.9 86.2h0m43.9 10.4h0m30.1 10.3h0m-35-13h0m-51.1-57.1h0m84.1 47.7h0m-14.9 20.8h0m-14.2-99h0m-7.1 98.1h0m-24.3-110.2h0m35.9 99.9h0m16.9 5.7h0m-67.5 31.5h0m-16.9-146.5h0m98.6 100h0m-49 5.8h0m46.2 35h0m-59.5-29.3h0m-13.1-12.3h0m50.2 20.5h0m24.8 12.8h0m-42.4-14.9h0m-14.2 10.4h0" stroke="#f6e27a" stroke-width="1.7"/><path d="M133.8 364.9h0m-80.3-119.3h0m-8.5 72.7h0m26.1-74.3h0m59.6 128.5h0m-20-22h0m-41.7-106.4h0m-5.6 21.8h0m50.7 95.9h0m22.7-80.1h0m23.3 87.4h0m-45.8-14h0m-46.7-99.2h0m83.9 77.5h0m4.1 4.8h0m-7.8-34.3h0m4.8 63.5h0m-85.9-69h0m61.9-21.8h0m1.3 3h0m-13.4 97.7h0m-39.6 3.2h0m26.7-31.9h0m51-17.3h0m-57 22.6h0m29.1-6.8h0m14.8-8h0m-0.1-38.3h0m-78-0.6h0m14.3 21.1h0m45-71.6h0m21.2 93.8h0m-79.5 38h0m76-41.4h0m6.7 42.6h0m-19.2-114.9h0" stroke="#f6e27a" stroke-width="2.3"/><path d="M98.1 363h0m-33.1-89.5h0m-15.8 25.3h0m91.6-42.2h0m-14.5 127.7h0m15.7-22.9h0m-17 15h0m0.2 5.3h0m7.5-29.6h0m14.3 17.9h0m-102.3-53h0m68.2 62.6h0m39.4-40.3h0m-13.7 22.1h0m9.5 6.4h0m-96.4-30.5h0m76.5-72.8h0m22.8 114h0m8.2-9.9h0m-41.2-0.8h0m18.2-9.3h0m-50.4-113.7h0m51.9 131.6h0m18.1-44.9h0m-4.1-3h0m-103.2-76.5h0m56 104.3h0m11.5-104.2h0m35.7 22.3h0m-82 30.5h0m35.1-55.9h0m29.6 39.9h0m-52.5-44.3h0m39.6 123h0m11.9 18.6h0m-16-35h0m18.9 4.4h0m-52.2-10.9h0m58.6 7.5h0m-14.7 5.2h0m-67.5-51.7h0m80.9 42.7h0m-52 0.2h0m25.3 3h0m32-31.4h0m-103.1-70.6h0m101.6 15.7h0m17 67.9h0m-39.2-63.8h0m-31 87.6h0m-28.5-62.4h0m36.4 67.3h0m-27.5-116.6h0m59.7 39.4h0m-54.4 73.5h0m59.4-60.7h0m-86.9-32.5h0m48.9 86.7h0m9.7 1.3h0m-28.9-7.6h0m82.5-6.9h0m-6 47.8h0m3-41.9h0m-82.3-103.9h0m-22.4 71.4h0m89.6-2.4h0m-79.6-44.7h0" stroke="#f6c8a8" stroke-width="1.2"/><path d="M79.1 340.8h0m53.8 9.3h0m19.9 16.2h0m-11.3-11h0m-29.5 22.6h0m-38.6-43.5h0m2.2 6.4h0m-10.7-104.2h0m67.7 122.6h0m-17-10.5h0m1.5 34.6h0m-25-41.8h0m72.1 12.9h0m-81.6-20h0m-22.6-72.6h0m57.5 103.4h0m20-66.4h0m8.9 55.7h0m-6 14.1h0m-50.3-33.2h0m26.5 20h0m27.5-39.1h0m19.9 31.2h0m-78.8 14.2h0m78.3 8.7h0m-11.3 20.8h0m-7-33.6h0m-9.7 24.3h0m-71.8-114.9h0m33 86.5h0m-8.6-1.5h0m73.3-1.2h0m-13.2-85.1h0m10 72.3h0m-6.6 40.6h0m-108.9-89.5h0m85.1 76.2h0m4.6-15.9h0m-15.2 27.8h0m35.2-7.8h0m-22.8-8.8h0m16.8-35.4h0m-56.6 24.5h0m-47.3 26.9h0m95.6-35.5h0m5.4-12.8h0m2.2-21.5h0m-29.5 74.9h0m47.8-15.3h0m-33.7-12.4h0m-0.3 21.4h0" stroke="#f6c8a8" stroke-width="1.7"/><path d="M55 258.2h0m77.3 20.5h0m0.1 83.6h0m-90.9 2.5h0m112.9-44.4h0m-76.5-71h0m12.4 2.8h0m32.4 95.4h0m-9.1-94.5h0m-4.4 106.2h0m3.9 18.6h0m-16.8-38.7h0m-46.1-0.3h0m104.4 17.4h0m-21.9 26.9h0m-57.1-49.2h0m-27.7-62.3h0m58.4 80.9h0m36.5-3.4h0m-27.3-2.6h0m-20.5 18.9h0" stroke="#f6c8a8" stroke-width="2.3"/><path d="M65.1 292.5h0m4.7 20.2h0m21.8 25.5h0m58.3 5.3h0m-41.7 1.1h0m42.8-4.4h0m-55.7 13h0m62.3-82.8h0m-40.6-4.4h0m-56.7 103.2h0m-9.6-20.4h0m106.2-3.5h0m-99.3-77.9h0m-4.2 109.9h0m36.5-31.9h0m60.2 0.1h0m-22.3 30.6h0m-18.3-130.1h0m-30.4 84h0m61.4-10.1h0m-83.8-15.4h0m17.5 9.9h0m58.9-33.9h0m-23.1 82.7h0m8.9 10.9h0m-61.8-8.7h0m58.1-12.3h0m25.1 34.5h0m-20.1-20.1h0m-2-105.4h0m-48.5 53.8h0m97.8 46h0m-66.7-0.1h0m3.6-16.9h0m26.4 37.5h0m15.6-45.7h0m4.8 22.1h0m-40.7 19.6h0m-2.4-11.6h0m33.5 0.6h0m15.9 12.3h0m-50.8-8.5h0m-61.5-69.2h0m88.8 60.8h0m8.2-45.2h0m17.5 48.7h0m-0.9-11.6h0m1.4 2.2h0m-14.7-21.5h0m-9.1 17.1h0m18 12.8h0m-25.9-88.4h0m-12.8 99.1h0m33.3 0.7h0m-77.1-56.3h0m-1.3-55.4h0m-21.1 111.8h0m56.8-16.4h0m-24.3-31.6h0m37.4-60.9h0m-61 46.1h0m2.1 14.6h0m47.2-71.2h0m21.1-1.5h0m-38.1 91.3h0m-26.3-44.9h0m88.7 30.7h0m-109.2-75h0m67.7 122.1h0m-33.4-46.6h0m26.9-94.1h0m38.2 69.7h0" stroke="#f2b0dc" stroke-width="1.2"/><path d="M164.2 347.1h0m-33.3 42.1h0m21.4-37.3h0m-82.3-104.1h0m30.1 97.1h0m9 23h0m42-39.4h0m-20.6 21.4h0m-49.6-24.7h0m72.9-86h0m-82.6 65.9h0m39.3 44.3h0m-5.9 9.2h0m-5.1 10.1h0m-27.1-22.1h0m-20.9 19.9h0m75.4-17.6h0m8.1 15.9h0m-56-45.7h0m79.2 8.7h0m-0.4 25.3h0m-69.5-14.8h0m44.9-48.4h0m4.5 90.5h0m5.3-93.3h0m-85.5-34.7h0m37.4-12.7h0m62.4 100.8h0m-82.4-19h0m91 21.3h0m-14.1-1.5h0m-76.6 11.2h0m49.9 1.6h0m-10.9-92.2h0m9.2 85.6h0m-3.4 11.5h0m-25.1-9.7h0m37.9-1.4h0m-23.8-95h0m-6.3 101.9h0m-30.5-46.8h0m46.8-42.1h0m-16.4 100.6h0m-32.4-27.4h0m72.4 40h0m-56.9-45.8h0m-42.9-47.5h0m77.3-33.2h0m14.2 18.9h0m14 85.1h0m-39.3 13h0m-64.7-1.1h0m76 15.2h0m-13.9-18.2h0m40.7-36.3h0m-104 48.1h0" stroke="#f2b0dc" stroke-width="1.7"/><path d="M160.2 364.1h0m-19.3-79.4h0m-26.9 97.9h0m-37.2-55.9h0m0.2-77.5h0m26.5 112.8h0m-54.1-82h0m105.7 81.8h0m-33.8-98h0m-0.1-11.5h0m12.8 119.6h0m26.9-12.8h0m-20.2-25.4h0m-1.4 24.5h0m-64.9-26.9h0m3.8-3h0m76.9 5h0m-49.1 40h0m35.2-57.1h0m-66.9 5h0m-27.4-85h0m73.4 8.9h0m-11.2 114.9h0m-30.8-108.3h0m72.1 110.1h0m-18.3-0.4h0m-87.8-102.1h0m37.4-11.6h0m49.3 137.3h0m-19.6-24h0m-17.6-10.2h0m22.7 13h0m31.3-30.4h0m-7.1 19.4h0m-42.3-116.7h0m-22.7 100.9h0m58.9 37.1h0m-24.1-18.6h0m-1.1-96.5h0m-46.7 25.7h0m81.8 74.1h0m-84.5-57.2h0" stroke="#f2b0dc" stroke-width="2.3"/><path d="M127.6 374.4h0m-39.2 11.7h0m-27.1-114.3h0m100.9 100.2h0m-109-18.8h0m13.8-63.9h0m10.6-43.2h0m73.2 76.7h0m-67 15.4h0m1-3.8h0m3.8 31.5h0m64.8-13.8h0m-65.2-103.7h0m40.9 107.1h0m10.4 23h0m-27.1-13.4h0m-32.7-5.8h0m-11.9-115.8h0m-19.3 96h0m31.3 16.4h0m-27.5 3.1h0m53.9 2.4h0m-17.9-19.3h0m45.6 22h0m-54.9-19.7h0m65.2-49.2h0m-80 77.3h0m-10-125.7h0m83.9 125.6h0m-53.2-42.7h0m81.3 39.1h0m-12-30.5h0m-79-13.7h0m43.2 24.4h0m31.9 23.8h0m-72.5-33h0m-12.5-54.6h0m10.1 31.6h0m66 36.2h0m-60.8-10.1h0m67.2 31.4h0m2.5-17.9h0m-8.2-68.4h0m6 17.7h0m-28.8 65h0m-22.1-30.2h0m-56.7 37h0m121.1-6.5h0m-113-115.6h0m113.1 111h0m-99.9-67.4h0m99.5 46.1h0m-80.1 16.7h0m49 28.3h0m14.2-71.1h0m-4.7-28.7h0m-22.2 74.5h0m-18.7-112.4h0m-6.5 113.8h0m-34.1-68.2h0m-1.7-12h0" stroke="#d640cc" stroke-width="1.2"/><path d="M108.9 346.7h0m15.6 25.1h0m-41-26.6h0m53.2 20.9h0m-51.2-21.3h0m-39-44.8h0m16.7 81.7h0m78.9-98.1h0m2.7 70.3h0m-26.6-87.8h0m-75.7 63h0m4.3-16.2h0m78.9 62.1h0m-6.8-11.9h0m6.5-118.2h0m13.3 139.2h0m23.5-26.5h0m-47.8 21.1h0m-11.4-10.6h0m40.8-4.5h0m-91.4 3.3h0m26.7-31.1h0m63.4 37.9h0m-46.1-18.4h0m54.9-57.7h0m-17.4 68.7h0m-16.3-4.6h0m39.8 8.3h0m-87.3-115.7h0m-30.1 36.6h0m103.6 12.2h0m14.1 13.9h0m0.4 29.7h0m-112.5-63.7h0m43.9 80.5h0m-1.5-3.1h0m28.7 14.7h0m9.5 4.5h0m-85.3-48.9h0m119 31.3h0m-86-12.5h0m-25.4 37.4h0m60.9-133.3h0m19 24.1h0m10.6-32.3h0m7.2 69.9h0m-6.3 55.7h0m-83.6-63.2h0m86.1 36.1h0m6.1 36.4h0m-2.6-31.4h0m18.2-49.1h0m-67.9 47.1h0m55.6-4.2h0m-39.1-92.7h0m-19.6 2.7h0m27.9 99.2h0" stroke="#d640cc" stroke-width="1.7"/><path d="M69.2 236.8h0m70.2 107.6h0m-35.8 27.4h0m51.3-42.7h0m2.3 45.8h0m-27.8 3.1h0m-20.2-32.6h0m28.8 19.9h0m-2.5-10.9h0m-19.1 13.2h0m-28.9-37h0m41.7-50.6h0m-61.1-5h0m70.1 8.1h0m-9.3 68.6h0m-65.4 11.2h0m-14.1-29.4h0m4.7 31.7h0m40.3-24.1h0m-0.6-88.8h0m8.4 90.5h0m-9.1 23.7h0m-25-90.3h0m-0.1-8.4h0m8.2 47.4h0m-22.1-21.7h0m19.6 18.3h0m5-57.2h0m-30.2 132.4h0m24.5-77.8h0m-27.7 11.7h0m11.3-72.4h0m-0.6 34.6h0m25.7 71.8h0m14.1-4.2h0m29.4 21.7h0m-65.9-108.2h0" stroke="#d640cc" stroke-width="2.3"/><path d="M141.1 366.8h0m8.4 9.6h0m-24.8-25.8h0m22.5-3.5h0m-2.2 25.4h0m-25.8-19.1h0m-79.2 31.3h0m16.9-95.7h0m79.3 77.4h0m-1.4 7.5h0m-23-19.1h0m-53.5-74.6h0m105 78.8h0m-60.9-13.1h0m23.4 33.3h0m31-29h0m-40.4 0.2h0m-37.6-15.7h0m60.4 12.6h0m-6.9 8.3h0m-56.2-26.1h0m65 25.4h0m-75.1-70.8h0m49.6 78.8h0m19.8-11.1h0m26.5-71.9h0m-42.3 96.4h0m-45-27.8h0m39.7 23h0m-32.6-43.9h0m9.8-76.4h0m52.6 101.6h0m17.8 24.5h0m-95 7.4h0" stroke="#ffffff" stroke-width="1.2"/><path d="M71.8 236h0m83.4 126.2h0m-59.9-7.3h0m29.6-100.2h0m1.8 112.3h0m-9.4-5.4h0m24.8 11.5h0m-53-41.5h0m-21.2-56.5h0m90.9 53.5h0m-101-15h0m86.6 4.4h0m-26.5 55.7h0m-46.2 5.5h0m-7.2-58.5h0m12.2 31.6h0" stroke="#ffffff" stroke-width="1.7"/><path d="M105 343.5h0m-64.3-60.9h0m74 73.6h0m-30.7-14.8h0m18.4-96.8h0m-37.5 33.1h0m19.5 82.8h0m0.1-115.1h0m3.8 85.3h0m9.2 13.3h0m-15.5-104.2h0" stroke="#ffffff" stroke-width="2.3"/><path d="M143 371.5h0m-9.5-91.5h0m-21.6-28.9h0m-35.2 64.2h0m26.8 36.1h0m-39.5-69.3h0m61.6 88.7h0m-23.8-119.2h0m16.1 125.1h0m-5.3-126.5h0m-19.2-3.6h0m61.3 61h0m-35.1 39.9h0m28 25.6h0m-74.9-26h0m-24.9 15.7h0m43.3-121.8h0m50 80.2h0m-16.9 40.9h0m-72.6-118.7h0m15 33.2h0m33 89.5h0m20.1-0.6h0m19.5-10h0m-13.5-5.9h0m-71.2 31.1h0m108.5-17.2h0m-38.6-92.7h0" stroke="#30d8e8" stroke-width="1.2"/><path d="M77.3 238.7h0m75.4 94h0m-103.2 16.2h0m80.9-64.6h0m-32.4 75.6h0m17.3-7.4h0m42.2-36.9h0m-75.2-61.1h0m-2.8 91h0m22.5 1.6h0m38.8-80.3h0m-0.6 98.3h0m-26.6 0.3h0m43.1-7.7h0m-46 12.3h0m-51.7-64.7h0m23.7 39.1h0m73.1 28.2h0m-14.5-47.7h0" stroke="#30d8e8" stroke-width="1.7"/><path d="M123.7 369.3h0m-34.9-16.4h0m-38.5-95.7h0m90.3 87.7h0m-18.5 8.5h0m-29.3-15.2h0m-32-91.1h0m86.5 95.1h0m-82.4-96.9h0m27.4 128.4h0m39.8-8.3h0m14.3 11.7h0" stroke="#30d8e8" stroke-width="2.3"/><path d="M141.2 313.3h0m-26.6 66.6h0m28.2-25.5h0m10.1 11.5h0m-61-15.6h0m-32-103.6h0m57.1 124.7h0m-28.3-24.9h0m-42.7-64.3h0m117.9 79.7h0m-70.3 5.9h0m-50.6-54.6h0m40.2 35.2h0m-22.1-64.1h0m-15.9 48.1h0m51 16.7h0m30-75.5h0m13.7 96h0m7.8 12.1h0m-44.8-10h0m-32.5-71.2h0m75.9 57.4h0m-18.8-7.3h0m-36.6-106.3h0m58.2-0.9h0" stroke="#c0e040" stroke-width="1.2"/><path d="M158.2 336.3h0m-15 43.8h0m-22.3-118.9h0m18.4 103.6h0m-55.8-13.3h0m59.6 21h0m10.2-13.5h0m5.5-0.3h0m-5.7-101.8h0m-15.8 91.8h0m-40.3 13.9h0m12.8-2.8h0m-33.9-16.3h0m63.2-60.4h0m11.8 77h0m-59.5-123.4h0m-22.2 30.1h0m-11.1 72.1h0m37.5 20.6h0m-52.6-7.2h0m95.8-7.7h0" stroke="#c0e040" stroke-width="1.7"/><path d="M142.8 332.1h0m2.8 8.4h0m-5.3-2.5h0m-56.6 24.9h0m39.5-112.7h0" stroke="#c0e040" stroke-width="2.3"/><path d="M64.8 304h0m46.4-53.1h0m-0.1 104.7h0m-23.9-17.8h0m15.2 34.5h0m16.7-10.8h0m-77.9-68.9h0m89.1 60.4h0m13.2-94.4h0m-83.3-0.2h0m66.5 11.6h0m19 83.2h0m-7.2-9.6h0m-75.1-29.4h0m43.6 62.8h0m-36.4-75.6h0m91.6 48.8h0m-108.3 13.9h0m-12-95.3h0m22.7 38.4h0m62.9 52.8h0m-34.5-9.6h0m-21.7 11.4h0m62.1 16.7h0m-19.4-27.3h0m-14.2-2.7h0m-28.5-44.9h0m71.3 51.5h0m11.2-70.1h0m-23.5 95.2h0m19.9-7.2h0" stroke="#8a3a90" stroke-width="1.2"/><path d="M135.7 372h0m-38.8-27.9h0m-53-61.3h0m11.9-4.1h0m-1.3 43.6h0m77.6 25.8h0m11.4-86.6h0m-61.9 91.6h0m-39 17.5h0m11.8-91.7h0m89.3 104.1h0m-8.4-26.2h0m-58.8-4.2h0m52.6-5.4h0m-16 13.6h0m-53.4-31.5h0m42.7-86.6h0m-23.2-2.9h0m78.2 124.6h0m-76.2-109.9h0m-40 102h0m76.6-91.3h0m-17.8 75.5h0m62.6-7.9h0m-18.1 4.4h0m-24.5 36.2h0m37.4-12.2h0m-92.5-101h0m22 91.2h0" stroke="#8a3a90" stroke-width="1.7"/><path d="M62 300.8h0m-20-59.1h0m47.7 107.6h0m-36.6 41h0m81.2-13.4h0m-74.7-115h0m35.6 96.1h0m-28.2-104.2h0m58 93.8h0m15.5-12.1h0m-69.3 1.2h0m17.2 4.6h0m74.5 0.8h0m-23.1-33.7h0m-51.3 49.5h0m-33.5-48.2h0m68.6 71.1h0m-82.6-141.5h0m28.7 69.3h0m89.2 35.2h0m-25.5 14.4h0m-54.3-33.9h0" stroke="#8a3a90" stroke-width="2.3"/></g>
<g stroke-linecap="round" fill="none" filter="url(#bl1)"><path d="M87.2 328.3h0m-9.7-53.4h0m33.9 54h0m13.8-30.9h0m-35.6-33.9h0m-10.5 44.1h0m2.3 2.6h0m35-42.6h0m-5.5 69.4h0m5.5-66.3h0m-10.3-9.3h0m27.3 53.5h0m-60.8-41.9h0m57.8 63.2h0" stroke="#30d8e8" stroke-width="1.2"/><path d="M123.8 289h0m-20-25.4h0m23.6 82.9h0m-9.6-68.7h0m-46.6 15.1h0m60.6 50.6h0m-3.2-3.4h0m9.2-29.4h0m-38.9 18.8h0m-13.3-65.1h0m-14.4 10.3h0m1.9 6h0m25.1 43.3h0m-18.5-7.1h0m18.1 3.9h0" stroke="#30d8e8" stroke-width="1.7"/><path d="M122.5 326h0m-34.5-60.8h0m3.7 64.1h0m-17.7-35.4h0m59.1 22h0m-53.6-58.5h0m0.6 62.6h0" stroke="#30d8e8" stroke-width="2.2"/><path d="M133.7 345h0m-45-14.3h0m46.3 13.3h0m-30.2-72.4h0m-7.7-7.4h0" stroke="#20a8c0" stroke-width="1.2"/><path d="M119.4 279.9h0m11.2 25.1h0m-48.7-17.2h0m7.7-29.4h0" stroke="#20a8c0" stroke-width="1.7"/><path d="M95.7 330.8h0m-27.1-44.9h0" stroke="#20a8c0" stroke-width="2.2"/><path d="M93.8 269.1h0m22 27.2h0m0 33.7h0m-23.5-14.4h0m0.4-61.6h0" stroke="#d640cc" stroke-width="1.2"/><path d="M127.3 296.4h0m-30.9 40h0m-23.6-70.6h0m13.1 54.1h0m40.9-28.5h0m-1.6 53.9h0m-57-61.1h0m25.7 44.1h0m12.1 11.9h0" stroke="#d640cc" stroke-width="1.7"/><path d="M85.4 318.3h0m-14-47.8h0m68 52.6h0m-16.9-50h0" stroke="#d640cc" stroke-width="2.2"/><path d="M81.2 265.2h0" stroke="#f6e27a" stroke-width="1.2"/><path d="M138.3 310.8h0m-68.5-33.9h0m-1 7.6h0" stroke="#f6e27a" stroke-width="1.7"/><path d="M81.3 303.9h0m-5-3.8h0" stroke="#f6e27a" stroke-width="2.2"/><path d="M84.1 314.5h0m21.2 20.5h0m13.2-16.9h0m-0.5 11.6h0" stroke="#8a3a90" stroke-width="1.2"/><path d="M110.9 327.9h0m-3.8-6.2h0m-32.4-55.3h0m12-6h0m8.1 7.5h0m-24.6 18.2h0" stroke="#8a3a90" stroke-width="1.7"/><path d="M101.3 339.1h0m15.2-72.5h0" stroke="#8a3a90" stroke-width="2.2"/></g>
<use href="#s1o" transform="translate(40 235)" fill="none" stroke="#f4f4f4" stroke-width="1.15" stroke-linecap="round" stroke-dasharray="0.01 2.1"/>
<use href="#s1r" transform="translate(40 235)" fill="none" stroke="#e3262b" stroke-width="1.05" stroke-dasharray="3.2 1.9"/>
<use href="#s1b" transform="translate(40 235)" fill="none" stroke="#2f7ddb" stroke-width="1.05" stroke-dasharray="3.2 1.9"/>
<rect x="118.8" y="324.3" width="39.6" height="11.4" fill="none" stroke="#e6e6e6" stroke-width="0.95"/>
</g>
<clipPath id="cp1_236"><rect x="171" y="236" width="128" height="155"/></clipPath>
<g clip-path="url(#cp1_236)">
<g stroke-linecap="round" fill="none" filter="url(#bl1)"><path d="M213.1 312.6h0m-18.8 0.9h0m36.8 44.3h0m-16.6-27.2h0m53.5 25.3h0m-20.5 10.5h0m-30.6-43.2h0m23.5 12.8h0m1.4-11.4h0m23.8 47.9h0m-4.2-76.1h0m-48.5 93.5h0m15.1-117.8h0m-36.4 51.4h0m62.9-8.3h0" stroke="#ffffff" stroke-width="1.1"/><path d="M267.6 369.5h0m-33.8-9.9h0m-31.8-2.1h0m-2.5-79.7h0m-13.1 101.1h0m55.8-21h0m1.5-23.7h0m7.4 9.7h0m-53.9-71h0m41.3 56.9h0" stroke="#ffffff" stroke-width="1.6"/><path d="M267.3 255.6h0" stroke="#ffffff" stroke-width="2.2"/><path d="M255.5 352h0m-42.3-18.5h0m84.6 26.7h0m-48.9-12.8h0m-18-83.9h0m-12.6 125.2h0m14.4-134.8h0m5.8 97.6h0m16.7-30.6h0m26.8 59.2h0m-20.3-56.2h0m24.4-3.4h0m-94.9-58.3h0m76.2 41.8h0m-48.4 57.4h0" stroke="#cfcfcf" stroke-width="1.1"/><path d="M204.6 382.2h0m46.8-122.7h0m0.6 73.3h0m-47.3-38.9h0m50.9 37.5h0m-4.3-36.5h0m5.3-53.5h0" stroke="#cfcfcf" stroke-width="1.6"/><path d="M250.9 327h0m-63.7-42.5h0m75.9 30.8h0m16.8-17.7h0m6.1-51.4h0m-65.5 23.6h0" stroke="#cfcfcf" stroke-width="2.2"/><path d="M250.7 331.3h0m45.8-26.8h0m-32.2 78.3h0m-22.9-131.3h0m16.6 36.8h0m-2.5-16.4h0m-50.3-16.6h0m53.4 15.3h0m-52.7 87h0m73.5 0.2h0m-106.4-96.6h0m24.3-4.7h0m-6.3 62h0m66.4-4.6h0" stroke="#999999" stroke-width="1.1"/><path d="M195.6 265.3h0m99.3 99.6h0m-65-2.2h0m-23.6-30.8h0m41.7-9.9h0m16.5-18.6h0m-88.7 17.7h0m42.6-56.3h0m-24.9 0.8h0m-6.8 61.1h0m68.3-15.2h0m-39.2 34.3h0" stroke="#999999" stroke-width="1.6"/><path d="M268.5 327h0m12.4-2.8h0m-36-65.1h0m23.2 36.9h0" stroke="#999999" stroke-width="2.2"/><path d="M215.6 362.4h0m24.8-36.8h0m-10.7 24.4h0m-22.8-84.8h0m26.6 71.8h0m-7.8 22.8h0m57.7-1.8h0m-49.8-104.3h0m-16.8 56.2h0m-17.5-72.2h0m23.7 76h0" stroke="#666666" stroke-width="1.1"/><path d="M218.6 340.9h0m29.9-3.3h0m-18.4-8.5h0m-15 22.7h0m12.6 17.8h0m33.8-23.8h0m-29.2-12.9h0m-8.4 0.9h0m-0.1 17.4h0m5.8-44.6h0" stroke="#666666" stroke-width="1.6"/><path d="M261.5 341.9h0m6.6-5.6h0m-6.5-17.4h0m-17.6 23.5h0m-10.8-103.6h0" stroke="#666666" stroke-width="2.2"/></g>
<use href="#s1o" transform="translate(170 235)" fill="none" stroke="#f4f4f4" stroke-width="1.15" stroke-linecap="round" stroke-dasharray="0.01 2.1"/>
<use href="#s1r" transform="translate(170 235)" fill="none" stroke="#e3262b" stroke-width="1.05" stroke-dasharray="3.2 1.9"/>
<use href="#s1b" transform="translate(170 235)" fill="none" stroke="#2f7ddb" stroke-width="1.05" stroke-dasharray="3.2 1.9"/>
<rect x="248.8" y="324.3" width="39.6" height="11.4" fill="none" stroke="#e6e6e6" stroke-width="0.95"/>
</g>
<clipPath id="cp2_236"><rect x="300" y="236" width="127" height="155"/></clipPath>
<g clip-path="url(#cp2_236)">
<g stroke-linecap="round" fill="none" filter="url(#bl1)"><path d="M373 358.1h0m49.7-3.3h0m-19.3-119.2h0m-15.8 115.7h0m-59.2-84.5h0m-1.1 50.1h0m90.2 62.6h0m-18.5-108.1h0m-38.4 78.2h0m-0.7-2.4h0m8 0.1h0m-11.2-6.5h0m23.4 35.2h0m28.2-11.3h0m-16 9h0m25.8 0.3h0m-15.6-20.5h0m-22 23.3h0m12.7-19.8h0m-63.1-40.7h0m9.8 36.3h0m37.2-84.9h0m-16.8 80h0m-29-105.1h0m-22.7 27.5h0m0.7 65.4h0m82.9 14.3h0m-50.3-101.3h0m-39 93.1h0m105.1 6h0m-14.9 7.9h0m-39.3-119.6h0m-10.7 4h0m63.4 47.4h0m-70.8 65.8h0m31.6-0.3h0m-0.6 27.7h0m49.9-1.3h0m-29.3-17.3h0m-44.9-26.1h0m7.5 11.3h0m-48.1-6.9h0m5 3.8h0m93.9 34h0m-25.9-32h0m-49.4-43.1h0m63.7 48.9h0m0.3-77h0m1.9 81.2h0m-34.9 11.6h0m40.4-68.3h0m-5.2 57h0" stroke="#ffffff" stroke-width="1.0"/><path d="M420.8 352.3h0m-86.2-2h0m65.9-47.7h0m-35.4 47.2h0m-52.1 26.4h0m84.3-79.5h0m-33.7 54.3h0m-55.4-24.7h0m79.8-42.5h0m-31.8-39.2h0m26.9 127h0m-29.1-22h0m47.8 27.6h0m-59.7-15.7h0m-1.6-35.1h0m23.7 2.9h0m12.6 36.8h0m-30-14.5h0m37.5 1.1h0m-67.8-79.8h0m102.8 81h0m-98.7-70.4h0m14.8 26.4h0m39.9 47.8h0m-62-28h0m53 30.4h0m-58.5-20.5h0m48.4 21.9h0m-17.7-3.3h0m68.2-5.2h0m-6-49.1h0m8.8 15.1h0m-71.4 35.3h0m1-112.5h0m8.3 109.8h0m65.7 23.9h0m-24-5.1h0m-41.8-45.5h0m7.8 17.3h0m3.9-102h0m-43 20.5h0m87.1 77.5h0m-83.2-65.8h0m59.2 79h0m31.5 29.4h0" stroke="#ffffff" stroke-width="1.4"/><path d="M343.9 329.2h0m4.6 12.7h0m-44.9-6.4h0m42.4 22.9h0m-38.7-122.4h0m29.6 85.1h0m-17.4-65.3h0m-6.1-18h0m102.6 117.4h0m6-5.7h0m-99.1-40.3h0m92.1 26.3h0m-24.1 36.4h0m9.9-32.6h0m18.8 12.1h0m-44.1 8.8h0m-45.8-95.3h0m23.3 84.7h0m-2.5-13.8h0m30.2 29.2h0m15.5 21h0m-62.3-147.5h0" stroke="#ffffff" stroke-width="1.9"/><path d="M346.1 331.1h0m-25.3-29.9h0m54.8-43.5h0m3 5.8h0m-12 89.2h0m33.6-90.5h0m1.9 62.9h0m-38.2 17.8h0m14-77.8h0m28.4 115.9h0m-52-33.2h0m48.5 20.8h0m-63.2-13.8h0m43.2 21.5h0m-71.7-92h0m90.7 99.4h0m-13.7-28.2h0m-50.4-36h0m-1.5 28h0m11.1 1.2h0m27.4 15h0m18.3-73.3h0m-19.6 68.4h0m-20.7-3.4h0m4.8-14.6h0m-21.3 4.6h0m87.9-14.9h0m-92.1-67.3h0m-29.5 51.3h0m27.9-1h0m20.2 43h0m-25-71.5h0m18.7 79.3h0m-0.4 0.8h0m62.6-19.2h0m-37 11.4h0m49.4-21.7h0m-32.8 22h0m31-9.7h0m-13.2 6.2h0m-53.1-9.3h0m70.2 31.7h0m-26-19.6h0m-69.2-92.1h0m94.6 112.5h0m-94.1-12.4h0m68.1-1.3h0m-12.4-87.6h0m-62.8 2.2h0m78.8 64.2h0m-25.8 4.5h0m40.6-43h0m-66.7 40.5h0m35 18.6h0m16.1 15.8h0m-36-22.1h0m38.2 15.9h0m-15.3 7.6h0m-18.5-9.6h0m-42.6-57.5h0m96.2 36h0m-10.5-13.1h0m-34.5 28.9h0m36.9-13.7h0m-87.5-73.1h0m60.2-8.7h0m19.5 58.3h0m-6.6 46.9h0m0.4 3.2h0m-1-17h0m21.5 10.8h0m-80.3-1.3h0m63.6-71.3h0m-21.5 49.3h0m-46.6-39.1h0m63.2 72.4h0m-45.9-23.3h0m50.4 15.2h0m-16.2-22.9h0m-77.9-89.7h0m69.3 115.5h0m23.8-75.6h0m-49 4.8h0" stroke="#cfcfcf" stroke-width="1.0"/><path d="M389.5 283h0m24.9 58h0m-84.7-73.5h0m45.3 82.2h0m-43.5-8.1h0m27.2 27.8h0m-34.2-87.1h0m94.4 71.8h0m-1.3-54.5h0m1 76.2h0m-68.8-13.5h0m18.5 8.9h0m13.7-105.2h0m13.9 113.2h0m-1.6-1.9h0m24.6-16.6h0m-63.4-118.7h0m-43.9 147.3h0m81.6-18.5h0m-32.8-3.4h0m-6.2-9.7h0m35 1.4h0m-12.4 22.2h0m-47-133h0m30.7 109h0m54.7-3h0m-113.5-54.6h0m65 63.3h0m-34.5-39h0m-19.1-13.2h0m54.7 63.9h0m8.8-20.4h0m13.3-6.7h0m-81.2-60h0m83.8 60.6h0m-46.4-107.7h0m68.9 139.4h0m-27.1-14.4h0m-3.4-10.5h0m-71.7-108.3h0m-4.1 94.5h0m82.1 19.7h0m-21.7 2.5h0m40.4-15h0m-71-15h0m48.3 52.6h0m-1.6-25.3h0m0.2 14.9h0m-5.6-23.7h0m-42.4-11.7h0m-11.9 7.3h0m73.8 35.8h0m-63.5-26h0m8.2-0.1h0m9 7.4h0m-13.8-36h0m-2.9-91.5h0m55 131.9h0m-55.5-20.2h0m-9.7-35h0m78.8 29.8h0m-75.7-80h0m77.2 91.8h0m-28.6 5.1h0m29.8 18.7h0m-19.9-24.9h0m-83.1 16.7h0m117.1-11.5h0" stroke="#cfcfcf" stroke-width="1.4"/><path d="M366.6 347.3h0m18.2 15.2h0m35.1-27.1h0m-83.3 12.7h0m-0.3 13h0m19.6 3.1h0m-9.3-19.5h0m71 16.4h0m-105.6-75.2h0m48.6 75.4h0m-7.6 2.7h0m48-63.7h0m-59.7 46h0m35.4 5.3h0m27.2 22.5h0m1.6-18.5h0m-94.2-116.3h0m22.8 82.4h0m67 9.4h0m-16.1 32.8h0m-22.6-0.6h0m23.5 0.4h0m-81.7-97.3h0m58-13.2h0m5.6 111h0m28-63.5h0" stroke="#cfcfcf" stroke-width="1.9"/><path d="M379.2 381.8h0m11 4.4h0m13.3-72.2h0m9-2.1h0m-68.4 25.7h0m-16.3-23.3h0m32.5 32.5h0m38.5-5.3h0m-90.5-100.1h0m112.6 101.9h0m-20.9-5.2h0m-100.7-99.5h0m115.2 126.2h0m-18.9 6.6h0m-37.2-116.6h0m29.9 126.9h0m8.7-36.2h0m-26-0.1h0m-59.4-39.1h0m83.5 77.2h0m-3.8-25.9h0m22.5 24.2h0m-18.3-90h0m-25.6 70.4h0m1.9 7.7h0m-5-111.1h0m21.9 82.2h0m14.3 11.8h0m-53-18.2h0m45.3 8.7h0m-94-8.8h0m105.7-76.5h0m-68 103h0m54.2-67.9h0m-42.9 62.3h0m64.6-25.8h0m-60.6 28.7h0m-42.6-77.9h0m45.9 66h0m-58.4-17.3h0m62.1 35.6h0m-28.3-34.8h0m66.9-19.8h0m-15.1 33.7h0m-2.8 35.7h0m-14.3-19h0m-16.6-21.1h0m-38.1-70.7h0m93.6 70.6h0m3.8-5.4h0m-47.8 38.4h0m19.5-100.3h0m-61.5 13h0m25.8 50.9h0m15.6 30h0m44.4-29.7h0m-1.4 5.6h0m-41.7 7.8h0m14.1 8.2h0m-53.7-50.7h0m1-22.1h0m74.6 6.1h0m-33.9 55.8h0m-8.7 2.4h0m-28.2-52.1h0m70.5 72h0m-33.7 6.1h0m25-10.9h0m19.3-37.1h0m-8.9 46.2h0m-4.2-9.8h0m-14.1-6.7h0m-6-30.5h0m-31.5 1.5h0m28.9-80.2h0m-60.4 8.9h0m79.2 5.2h0m-9.7 119.6h0m9.6-25.8h0m-34.6-5h0m-55-28.7h0m81.5-46.4h0m-47.7 108.9h0m60.1-41h0m-78.2-85.8h0m23 95.4h0" stroke="#999999" stroke-width="1.0"/><path d="M404.2 337h0m-53.2-98h0m47.2 133.3h0m-67.7-105.3h0m13.7 64.1h0m-0.6 32h0m53.5-8.5h0m4.1-59.9h0m12.4 31.8h0m-66.9 18.6h0m50.8 17.5h0m-0.1-14.9h0m-58.9-12h0m48.1-97.6h0m-45.4 100.7h0m23.7-86.3h0m-20.5 138.3h0m75.3-53.9h0m-10.1-25h0m-22 45.7h0m24.1-6.6h0m-50.9 18h0m35.3-10.5h0m16.1 5h0m-10.4-17.1h0m-6 2.2h0m-64.3-9.5h0m5.3-91.1h0m-14.2 23.2h0m99.2 64.3h0m-47.1 26.2h0m14.1 20.9h0m-9.2-0.3h0m36.5-32.6h0m-41.8 20.5h0m24.1 17.6h0m-31.6-37.7h0m48.8 17.5h0m-38.2 2.9h0m-10.6-10.6h0m-23.4 31.3h0m-36.1-97.4h0m103 64h0m-19.3 23.7h0m-22.5-130.8h0m-18.5 0h0m73.9 3.6h0m-7 104h0m-105.7-68.5h0m58.7 79.7h0m37.1-62.6h0m-105.1-14.8h0m40.5 42.9h0m11 11.4h0m22.9 30.1h0m1.1-4.5h0m17-0.2h0m19.5-5.7h0m-16-62.1h0m-23.3 32.1h0m-10.7 32.6h0m43.9 8.2h0m3.5-46.9h0m-57.6 27h0m5.4-107.5h0m14.8 2.4h0m-48.8 25.4h0m78.8 89.4h0m-26.4-110.2h0m-62.8 75.4h0m-13 9.7h0" stroke="#999999" stroke-width="1.4"/><path d="M407.7 304.5h0m-42.1 66.9h0m50.5 4.4h0m-90.5-93.8h0m74.6 34.9h0m-60.4 46.6h0m65.8 20.3h0m-50.2-16.9h0m-22.5-114.2h0m39.2 126h0m44.3-22.4h0m-75.8-7.8h0m23.6-91.7h0m11.6 127.7h0m-27.5-40.2h0m69.7 17.7h0m-75.2-3.5h0m15.5-104.8h0m35.2 124.6h0m-39.2-35.2h0m-30-89h0m91 81.4h0m-33.1 21.4h0m-29.4-12.5h0m-17 11.8h0m88.1 6.7h0m-31-15.3h0m5.7 3.8h0m-16.8-80.6h0m35.5 68.4h0m-11.5 5h0m-35.2 5.2h0m-27.8-12.3h0m31.2 22.9h0m14-30.4h0m-1.6 33.1h0" stroke="#999999" stroke-width="1.9"/><path d="M333.4 325.5h0m-3.8-6h0m57.9 46.5h0m5.2-9.8h0m-31.8-11.8h0m-52.1-65.1h0m87.6 65.4h0m-88.7 29.1h0m73.5-26h0m-18.1 24.1h0m8.3 0.3h0m12.1 5.3h0m-59.1-112h0m10.5-21.8h0m-14 50.4h0m57.6 55.8h0m-72.7-47.5h0m28.6-65h0m18.5 111.9h0m51.1 23.5h0m-5.7-75.6h0m14 73.4h0m-55.1-13.2h0m27.4-100.3h0m-33.9 107.2h0m56.6-25.4h0m-101-1.7h0m72.1 26.9h0m-9.8-110.3h0m41.9 55.5h0m-2.9 54.5h0m-27.4-0.4h0m-53.5-88.2h0m71.7 89.1h0m-0.8-19.2h0m-51.2 8.9h0m64.9-13.6h0m-76.3-80.4h0m-3-0.4h0m57.1 93.9h0m12.2-52.1h0m-51.8-55.8h0m61.3 115.3h0m-99.3 5.8h0m34.1-115.3h0m-46.3 123.2h0m122.6-28.9h0m-0.2-12.7h0m-4-16.5h0m-1.4 23.6h0m-7.3 12.9h0m-71.2 6.8h0m39.2 0.2h0m23.2 24.1h0m-4.8-22.1h0m15-8.3h0m-74.7-32.1h0m67.7 58.4h0m6.8-64.2h0m-78.4-2.8h0m89 43.7h0m-23.2-1.4h0m-18.8-3.3h0m37.3 8.7h0m-48.7-5.4h0m26.7-38h0m-19.4 48.9h0m22.4 18.8h0m-22.3-33.8h0m8 7.2h0m19.8-117.2h0m-74.5 136.1h0m40.1-28.3h0m51.3 9.7h0m-28.1-4.9h0m2 6.6h0m20.6-21.5h0m2.8 11.1h0m-35.7 6.9h0" stroke="#666666" stroke-width="1.0"/><path d="M309.9 329.4h0m11.6-5.3h0m-7.4 10.9h0m55.7 47.9h0m-14-26.6h0m-24-18h0m63.3 2.2h0m-19.6 28h0m31.6-31h0m-63.9 19.6h0m54.9 26.8h0m-7.9-104.7h0m-58.7 44.6h0m85.8 53.1h0m-1.3-18.3h0m-30.6 11.1h0m-47.9-117.5h0m41.2 12.8h0m-2.9 94.3h0m23.2-13h0m-72.8 34.8h0m51.9-112.8h0m-38.7 74.2h0m-10.6-45.9h0m82.9 63.7h0m-25.7-9.1h0m12.3-4.4h0m-39-108.7h0m16.2 132h0m44.4-68.6h0m-26.4 70h0m5.8-29h0m-77-28.9h0m75.7 32.9h0m-25.2 19.9h0m16.1-9.9h0m12.8-49.3h0m-46.4 50.9h0m-30.4-54.9h0m83.6 58.7h0m-9.6-20.9h0m-72.2-78.2h0m41.2-11.3h0m59.9 133.2h0m-50.7-27.3h0m40.7 10.2h0m-32.6-13.9h0" stroke="#666666" stroke-width="1.4"/><path d="M301.6 308.6h0m49.2 32.6h0m54-29.6h0m9.8 65.3h0m-56.2-132.8h0m8 115.4h0m-7.6-19h0m64.2 30.3h0m-58.9-24.3h0m16.1-76.2h0m-54.8 11.6h0m33.8-37.7h0m39.1 44.4h0m-53.1 44.5h0m-37.8 28.2h0m77.6-1.1h0m15.4-20.8h0m-73.2-46.2h0m-9.4 4.9h0m96.7 58.7h0m-46.2 5.3h0m10.2-96.4h0m20.3 39.1h0m-64.3 43.4h0m66.1 2.8h0m-62.4-27.2h0m57.5 20.1h0m-31 4.1h0m55.7 28.1h0m-48.4-24.5h0m35.4 26h0m-7.6-9.9h0m10.5-33.3h0m-27.1-66.1h0m-27.2 86.1h0" stroke="#666666" stroke-width="1.9"/></g>
<use href="#s1o" transform="translate(299 235)" fill="none" stroke="#f4f4f4" stroke-width="1.15" stroke-linecap="round" stroke-dasharray="0.01 2.1"/>
<use href="#s1r" transform="translate(299 235)" fill="none" stroke="#e3262b" stroke-width="1.05" stroke-dasharray="3.2 1.9"/>
<use href="#s1b" transform="translate(299 235)" fill="none" stroke="#2f7ddb" stroke-width="1.05" stroke-dasharray="3.2 1.9"/>
<rect x="377.8" y="324.3" width="39.6" height="11.4" fill="none" stroke="#e6e6e6" stroke-width="0.95"/>
</g>
<clipPath id="cp3_236"><rect x="428" y="236" width="128" height="155"/></clipPath>
<g clip-path="url(#cp3_236)">
<g stroke-linecap="round" fill="none" filter="url(#bl1)"><path d="M434.4 304h0m97.1 69.6h0m22.9-22.8h0m-39.9 10.4h0m-30.7 7.5h0m51.9-58.4h0m-85.3-53.9h0m19 105.4h0m-6.4-14.5h0m33.3-11.5h0m54.9-78.9h0m-97.9 33.1h0m60.4 88.5h0m15-11.7h0m-17.6-98.6h0m19.4 104h0m-41.1-17.8h0m-58.9 8.9h0m26.4-123.1h0m88.6 128.6h0m-14.5 9.5h0m-59.1-125.3h0m61.8 100h0m-6-14h0m-34.6 35.4h0m56.2-114.6h0m-38.4 123.6h0m-5.5-6.2h0m-26.8-33.2h0m47.2 30.1h0m-12.8-98.2h0m16.1 109.1h0m-49.7-36h0m-46 27h0m78.3-108.2h0m37.3 91.8h0m-36.7-11.8h0m-45.9-14.1h0m49.3 21h0m-28.9-108.2h0m53.6 127h0m-69.3-36.7h0m14.1 27.5h0m-23.6 9.5h0m38.3-21.8h0m55.8 17.4h0m-51.1-1.4h0m7.5-19.3h0m-74.6-72.1h0m105.3 71.4h0m-114.1-45.3h0m52 45.7h0m8.3-6.1h0m-13.4 1.7h0m-12.2 13.5h0m16-116.3h0m67.5 85.6h0m-34.6 30.9h0m-47.9-108.5h0m53.2 129.2h0m20.5-77.4h0m-40.3 63.6h0m37.2 2.5h0m-5.7-37h0m2.5 10.6h0m-9.7 23.7h0m-63.5-55.6h0" stroke="#ffffff" stroke-width="1.1"/><path d="M478.9 334.9h0m59.2 37.1h0m-110.4-41.3h0m95.6 47.8h0m-76.5-93.9h0m20.4 38.6h0m-14 49.9h0m64.9-12.5h0m-0.4 20.2h0m-76.7-94.7h0m84.8 98.9h0m-35-40.8h0m48.8-10.4h0m-18 31.1h0m-90.7-97.5h0m21.2 1.2h0m56.6 87h0m45.4-105.9h0m-101.2 71.5h0m84.7 46.7h0m-38-105.6h0m-38.1 90.2h0m-22-56.3h0m110.8 86.5h0m-71.4-30.9h0m54.6 9.2h0m-44.2-19.6h0m-19.2 5.5h0m26.2 5h0m-4.6-96.6h0m57.2 91.1h0m-109.4-59.2h0m87.6 95.9h0m-51.9-43.3h0m71.7 33h0m-74.3 8.1h0m-2.9 7.3h0m77.2-37.2h0m-18.1 29.4h0m4.3-6.8h0m-19.6-9h0m14.2-11.3h0m-72.2-81.5h0m37.3 92.3h0m-49.7-35.3h0m2.9-58.7h0m63 78.8h0m-52.3-9.7h0m93.8 36.6h0m-52.8-20.2h0m39.7-107.7h0m-73.8 83.6h0m29.5 44h0m16.1-5.7h0m-47.4-50.8h0m80.3 18.9h0m-72.8-10.3h0m79.9 39.5h0m-24.7-44.4h0m-40.5 30.2h0m27.1 16.5h0m3.3-93.8h0m28.9 101.6h0m-48.7-22.5h0" stroke="#ffffff" stroke-width="1.6"/><path d="M550.7 373h0m-16.5-20.2h0m-1.4 13.9h0m13.3-1.4h0m-33.4 4.8h0m34-20.5h0m-70.5-0.3h0m-45.7 31.2h0m18.1-6.5h0m30.3-38.1h0m-15.8-83.1h0m22.8 137.6h0m-20.4-40.2h0m53.9 19.2h0m-4.1-100.9h0m21 86.1h0m-8.3-39.5h0m-66 25.9h0m83.7 30.8h0m-1.9-1.4h0m-43.2-21.9h0m38.6-55.2h0m-38.4 63.8h0m9 3.3h0m37.9-4.5h0m-82.2-114.9h0" stroke="#ffffff" stroke-width="2.2"/><path d="M537.6 360.5h0m-48 6.8h0m34.7-15.1h0m-33.7-96.1h0m40.7 110.9h0m-83.9-16.1h0m-16.2 24h0m122-40.5h0m-42.2 40.7h0m25.7-56.4h0m-48.6-64h0m53.5 65h0m-14.6 36.2h0m1.8 4h0m-19.4-8.2h0m-13.4 8.9h0m32.2 13.5h0m-46.7-24h0m-11 8h0m64.7-64.1h0m-87.5-24.8h0m65.3 83h0m-83.1-100.9h0m96.5 93.3h0m-72.7-58.2h0m9.5 54.5h0m-35.9-27.3h0m75.6-50.9h0m38.8 85.9h0m-34.9 16.3h0m-22.5-24.2h0m19.8 23.7h0m32.5-36.6h0m10.6-4.5h0m-77.5 5.5h0m22.8 40.2h0m19.8-34.8h0m6 21.5h0m4.9-45.9h0m1 43.3h0m-59.4-23.2h0m30.3-76.2h0m26.6 122.3h0m0.9-28.5h0m-65.4-83.5h0m-1.2 107.3h0" stroke="#cfcfcf" stroke-width="1.1"/><path d="M514.4 381.1h0m-84.3-31.2h0m74.5-87.5h0m40.6 115.1h0m-42.7-26.8h0m2.9-3.7h0m19.6-100.4h0m-92.4 132.6h0m73.4-11h0m-33.3-10.4h0m15.3-111.4h0m-21.7 114.5h0m62.8-45h0m2.7 14.6h0m-61.5-78.7h0m73.3 106.8h0m-40.5-103.9h0m44.1 40.1h0m-62-43.8h0m-44.8 34h0m27.4 69.3h0m62.5 15.1h0m20.6 2.4h0m-26.3 6.7h0m-86-59.9h0m50 38.7h0m49.7 1.5h0m10.9 15.4h0m-35.5-98.4h0m19.5 100.4h0m-33.5-10.8h0m33.4 1.3h0m12.7-34.1h0m-111.1-58.6h0m21.4-16.1h0m-21.3 10.4h0m66.8 83.2h0m-2 9.1h0m-54.5-108.1h0m71.8 110.5h0m-26.4-12.5h0m-52.1-106.2h0m56.9 132.8h0m-44.7-124.1h0m58 120h0m21.2-11.9h0m18-11.5h0m-23.5 10.3h0m-27.7 5.5h0m20-14.6h0m-14.2-96.1h0m36.5 96.9h0m-18.5 28.7h0m9-18.1h0m-5.6-67.8h0m-37.1 44.3h0m6.2 37.8h0m37.9-75.1h0m2.9 77h0m-33.2-3.7h0m42.3-23.4h0m-40.8 28.6h0" stroke="#cfcfcf" stroke-width="1.6"/><path d="M551.5 364.9h0m-56.7-15.3h0m40.5-31.5h0m-0.6 25.4h0m7-1.9h0m-35.6 6.8h0m-1.9 22.9h0m-20.8-22h0m-21.6-37.4h0m-12.6-53h0m85.8 109.5h0m-67.4-9.3h0m29.5-0.1h0m-11.2 6.8h0m-58.1-33.6h0m81.6 38.7h0m-11.4-10.8h0m47-92.3h0m-51.6 97.4h0m38.7-16.5h0m1.2 31.3h0m-43.3-21.8h0m-36.3 25.7h0m-6-54.7h0m-11.6-26.7h0m64.4 77.1h0m25.7-8.8h0m-2.8-36.7h0m-63-25.1h0m-20.9 63.6h0m53.8 3.1h0m-47.2-82.3h0m65.7 62.5h0m13.2-8.8h0m-37.8 2.8h0m49.2-90.8h0" stroke="#cfcfcf" stroke-width="2.2"/><path d="M490.9 383.5h0m41.9-29.5h0m-13-0.3h0m14.5-45.4h0m-45.1 44.4h0m48.5 27.5h0m-79.5-42.2h0m-22.5 41.8h0m4.5-54.4h0m55.2 43.6h0m-59.7-121.9h0m101 119.9h0m-19.7 19.3h0m33.2-40.2h0m-76.1 12.8h0m3.9-21.9h0m49.4 42.5h0m-44.1-15h0m-52-12.1h0m98.2 11.9h0m-28.4-0.9h0m-14.9-2h0m-47.6-4.8h0m72.4 23h0m-23.5-120.5h0m12.6 120.3h0m50.9-16.8h0m-17.4-32.7h0m-102.7-53h0m34.1 68.1h0m58.6 32.4h0m6.2-34.6h0m-69.7-89.9h0m52.4 98.3h0m-9.5 6.1h0m-32.1-5.4h0m-35.5-87.6h0m10.7 28.5h0m89.5 67.6h0m-62.7-30h0m8.4 8h0m-53.9-100.9h0m15 113.1h0m-11.2-2.3h0m102 42.4h0m12.8-108.3h0m-10.7 59.4h0m11.4 21.5h0m-118.2-91.6h0m45.3 70.6h0" stroke="#999999" stroke-width="1.1"/><path d="M458.1 363.6h0m43.9-114.6h0m44.9 87.7h0m-48.4 15.4h0m-29.2-110h0m29.6 4.3h0m42.1 117.1h0m4.2-16.4h0m-42 26.6h0m-45.2-108.4h0m71 76.6h0m17-11.7h0m-45.5-69.4h0m46 111.2h0m-10.1-19.8h0m-98.9-112.2h0m58.9 1.5h0m-37.8 63.2h0m74.1 26.4h0m-36 14.3h0m36.7-0.2h0m-67.9-7.9h0m41.2 26.9h0m20.9-1.9h0m-10.6-89.8h0m23.2 64.7h0m-91.8 42.5h0m52.5-2.4h0m17.1-102.3h0m15.1 84.6h0m-20.7 18.6h0m-14.8-29.1h0m-23.8-2.2h0m70.8 24.5h0m-71.8-30.6h0m62.4 27.1h0m-23.8-110.2h0m-28.4 94.2h0m-53.6-11.1h0m113.6-21.9h0m-32.9-48.9h0m-4.7 100.1h0m33.2-18.7h0m-72.3-112.3h0m60.6 99.6h0m-48.3-4.6h0m45.4 42.9h0m-14.8-5h0m-15.9-14.3h0m-24-53.3h0m81.2 39.5h0m-76.2-90.9h0m57.7 85h0m-33.2 19.1h0m34.5-89.9h0m-85.7 35.9h0m31.8 33.8h0m13.8 10.9h0m46.5-12.3h0m-26.3 26.1h0" stroke="#999999" stroke-width="1.6"/><path d="M546.4 325h0m-0.8-4.7h0m-70.5 10.9h0m6.3 49h0m-31.7-121.3h0m65.6 97.9h0m-42-99.5h0m30.1 110.7h0m-10.9-0.1h0m42.5 12.1h0m4.7-17h0m-6.4-8.2h0m-70.9-89.4h0m37.1 111.8h0m23.9-14.4h0m-62.9-22.8h0m8.7-87.2h0m-14.4 29.4h0m72.5 22.9h0m-10.6 46.2h0" stroke="#999999" stroke-width="2.2"/><path d="M548 345.9h0m-120-11.5h0m103 9.1h0m-68-25.5h0m66.5 54.8h0m-73.2-75.1h0m11.7 15.4h0m-39.7-33.8h0m113.2 91.9h0m-0.4-44.8h0m-10.1 44.8h0m14.1-31h0m-72.4 8.2h0m-3-7.8h0m34.9 38.2h0m-20.4-39.1h0m-56.8 46.9h0m105.7-61.4h0m-48.2 13.2h0m-45.5 7.7h0m62.4 1.8h0m26.6 34.8h0m-66.5-52.3h0m76 50.9h0m-15.2-6.3h0m-66.9-82.6h0m43.2-33.2h0m-31.8-19.7h0m13.5 96.3h0m19.6 20h0m-38-8.1h0m87.3 16.7h0m-13.5-16h0m-91 4.7h0m24.5-15.6h0m50.5 41.6h0m-4.5-25.3h0m-25.2 5.2h0m38.5-25.6h0m-51.4 22.2h0m5.9-7.7h0m13.1 19.2h0m-56.8-32.7h0" stroke="#666666" stroke-width="1.1"/><path d="M537.3 363.8h0m-78.6-53.7h0m46.8 47.2h0m3.4-10.3h0m23.9 34.5h0m7.7-36.4h0m-53.1-90.9h0m-16.1 89.9h0m79.4-25h0m-35.9 29.8h0m-17.4 4.2h0m-15.6-11.3h0m28.2 8.2h0m15 17.3h0m-88.9-129.2h0m35.9 119.4h0m-35.7-33.9h0m74.9 52.1h0m-79.8 5.4h0m33.7-28h0m-17.6-78.9h0m19.2 77.2h0m48.5-0.1h0m-65.3 32.7h0m88.6-12.1h0m-100.4-134.9h0m99.7 90.5h0m-56.7 29.4h0m63.9 8.7h0m-41.4 12.4h0m32.5-40.7h0m-92-61.5h0" stroke="#666666" stroke-width="1.6"/><path d="M459.3 274.2h0m82.6 70.9h0m-42.3 12.8h0m37.8-37.1h0m-99.2 69.8h0m21.2-111.2h0m57 70.5h0m31.4 9.5h0m-45.6 8.3h0m-55.4-81.7h0m79.5 57.9h0m-31 30.3h0m-4.4-33.6h0m44.6-31.7h0" stroke="#666666" stroke-width="2.2"/></g>
<use href="#s1o" transform="translate(427 235)" fill="none" stroke="#f4f4f4" stroke-width="1.15" stroke-linecap="round" stroke-dasharray="0.01 2.1"/>
<use href="#s1r" transform="translate(427 235)" fill="none" stroke="#e3262b" stroke-width="1.05" stroke-dasharray="3.2 1.9"/>
<use href="#s1b" transform="translate(427 235)" fill="none" stroke="#2f7ddb" stroke-width="1.05" stroke-dasharray="3.2 1.9"/>
<rect x="505.8" y="324.3" width="39.6" height="11.4" fill="none" stroke="#e6e6e6" stroke-width="0.95"/>
</g>
<clipPath id="cp4_236"><rect x="557" y="236" width="127" height="155"/></clipPath>
<g clip-path="url(#cp4_236)">
<rect x="557" y="236" width="127" height="155" fill="#0c0c0c"/>
<g filter="url(#bl3)"><use href="#s1c" transform="translate(556 235)" fill="#ffffff" fill-opacity="0.05"/></g>
<g stroke-linecap="round" fill="none" filter="url(#bl1)"><path d="M579.1 288.1h0m58.7 69.1h0m-48.5-16.2h0m91.5 21.1h0m-7.5-1.4h0m-6-31.3h0m-12-26.1h0m-50.9 42.3h0m-9.4 11.6h0m-36-72.2h0m62.8 43h0m29.3 38.1h0m4.9-22.8h0m-83.5-60.1h0m97.2 27.9h0m-45.2 27.2h0m6.7 17.2h0m14.6 27.4h0m-43.1-22.9h0m-25.9 16.9h0m-11.1-92.9h0m9.5-22.1h0m-4.7 53.8h0m65.8 48.1h0m-73.7-32.3h0m6.3 17.7h0m84.8 29.3h0m-18.4-11.3h0m-17.8-45.3h0m8.5 36.9h0m28.7-18.1h0m-63.1-23h0m72.1 16.7h0m-5.9 12.1h0m5.3-81.4h0m-92.4 39.8h0m100-33.2h0m-1 110.2h0m-71.9-40.6h0m-20.7 37.5h0m84.7-3.1h0m-104.4-51.7h0m103.7-1.1h0m-95.4-87.9h0m43.7 128.6h0m-51-107.6h0m7.4 75.6h0m71.2-15.5h0m-56.7-29.1h0m59.4 75.8h0m-67.5-105.3h0m12.8 15.2h0m-14.4 10.1h0m26.8 78.4h0m45.1-3.5h0m13.2 22.9h0m-50-33.9h0m-10.4 6.9h0m-32.1-40.2h0m34.2 0.2h0m23.2-69.4h0m-62.5 135.7h0m107.9-81h0m-62.3 63.1h0m2.8-49.6h0m-18.3-77.3h0m-13.3 1.4h0m14.5 72.2h0m40.4-46.3h0m-30.5-26.5h0m59.5 102.7h0m-47.6 2.9h0" stroke="#ffffff" stroke-width="1.1"/><path d="M671 237.9h0m-88 80.5h0m-18.5 28.7h0m48.7-90.5h0m-37.1 112.5h0m59.3-17.4h0m-57.6 16.6h0m18.5-46h0m30.6 24h0m-27.9-30.2h0m73.7-75.9h0m-97.7 21.2h0m74.1 23.4h0m-26.2 65.9h0m33.4-54h0m-69.9-19.3h0m5.4-1.9h0m57.4 96.3h0m25.1-30.1h0m-40.9-74.2h0m13.3 13.8h0m5.2 86.5h0m-68-107.2h0m14.8 6.4h0m61.7 7.4h0m-93.8-34.6h0m48.4 104.1h0m8.2-92.6h0m-65.8 34.6h0m14.2 52.5h0m21.5 41.4h0m59.2-1.4h0m-53.6-115.8h0m13.8 80.4h0m-16.4-90h0m74.9 92.5h0m4.7 30.3h0m-55.2-98.2h0m47.1-28.7h0m-61.7 113.7h0m28.4 11.3h0m13.1-19.5h0m-28.9 9.6h0m32.7-14.7h0m-6.4 27.1h0m-28.7-113.9h0m5.5 20.4h0m-18.2 74.1h0m-20.9-69.3h0m29.1 73.5h0m3.7-102.4h0m41.4 127.6h0m-83.8-19.7h0m54.2-115.1h0m-58.8-11.4h0m45 1.6h0m12.7 128.7h0m21.7-13.9h0m-82.2 5.4h0m97.7-120.5h0m-73.2-0.6h0m29.1 103.4h0m49 12.1h0m-30.5-75.7h0m39 94.7h0m-14.6-20h0m-16.2 20.5h0m35-108.6h0m-10.7-16.6h0m11.1 50.7h0m-85.1 13.1h0m31.2 34.7h0m-70 1h0m30.3 16.6h0m42.7-96.3h0m-41.1 44.7h0m65.3 76.2h0m-21.3-127.7h0m15.2 25.1h0m14 4.5h0m-42.6 67.7h0m12.3-88.1h0" stroke="#ffffff" stroke-width="1.6"/><path d="M646.6 356.7h0m-88.6 25.1h0m108.7-41.9h0m-53.1 28.6h0m34.9-20.6h0m-57.2-43.3h0m82.4 22.8h0m-34.1-55.9h0m11.2-32.2h0m-19.7 141.9h0m15.4-138.1h0m13.7 134.4h0m-39.3-15.8h0m18.4-51.9h0m-39.7 20.9h0m33.3 34.9h0m7.6-21.8h0m0 15.1h0m-42.5-21.6h0m48.3-72.7h0m-78.9 104.9h0m112.7-77.9h0m-65.5-49.5h0m-28 23.7h0m62.4 51.6h0m1.6-28.8h0m5.4-13h0m-40.2 66.3h0m49-44.8h0m-22.6-1h0m-41.2 65.8h0m32.4 18h0m4.5-24.9h0m-80.8-59h0m88.6 15.3h0m-59-38.4h0" stroke="#ffffff" stroke-width="2.2"/><path d="M624.5 259.3h0m-60.2-11.1h0m69.5 105.3h0m-0.8 20.9h0m2.7-103h0m-59.8-33.4h0m107 99.4h0m-47.9-49.8h0m28.4 89.3h0m-76.4-129h0m12.1 63h0m19.7-51.4h0m50.6 83.4h0m-103.9 40.1h0m16.5-126.4h0m53.1 110.9h0m-10.9-126.1h0m-19.5 110.4h0m40.6 7.3h0m-53-110.2h0m31.1 16.8h0m11.9 83.1h0m28.7 28h0m11.3-23.8h0m-86.2-102h0m40.5 102h0m-21.6-99.8h0m-12.2 84.9h0m61.9-12.9h0m-9.8 11h0m-36.8-4h0m5.2 10.7h0m-24-107.1h0m49.8 124.5h0m-65.2-75.7h0m18.9 23.4h0m30.2-40.7h0m26.4 83.2h0m16.9-44.8h0m-44.7 55.1h0m7.6-100.1h0m4.2 99h0m-9.7 6.4h0m40.5 0.1h0m-35.7-108.9h0m-64.9 112.3h0m11.6-74.5h0m73.6 66.6h0m21.6-102.5h0m-107.1 48.7h0m93.6 72.1h0m8.8-41.2h0m-75-22.6h0m1 38.3h0m67.1 15h0m7.9-91.7h0m-15.3 8.2h0m-21.8 82.4h0m26.3-106.2h0m-83.7-15.3h0m27.4-6.3h0m79.2 135.9h0m-31.4-43.3h0m5.2-18.6h0m-60.2 12h0m57.4-44h0m20.9 106.2h0m-81-149.8h0m55.4 3.3h0m25.6 80h0m-93.5-26.1h0m67.7-14.4h0m-9.4-12.1h0m-40.5 72.7h0m65.7 1.9h0m-97-79.4h0m24.3 54.6h0m23.2-55.5h0m42.6 54.7h0m-92.5-2.3h0m30.4-47.4h0m60.9 115.5h0m-17.1-9.5h0m-42.2 11.6h0m48.4-36.8h0m-81.1-88.8h0m48.2 79.8h0m-17.9-60.8h0m-4.8 52.9h0m-4.2-25.1h0m76.3 32.8h0m-17.4-78.9h0m-59.9 29.9h0m89.6 67.7h0m-23.3 21.2h0m-54.4-19.7h0m0.8 14.8h0m64.5-41.1h0m-24.7-56h0m29.3 63.8h0m-79.3-62.1h0m77.6 59.5h0m-27 11.2h0" stroke="#cfcfcf" stroke-width="1.1"/><path d="M566.6 312.6h0m75.8 70.5h0m-22.6-19.8h0m-20.4-11.4h0m51.5 1.5h0m-22.1-100.4h0m7.6 81.9h0m22.6 49.1h0m-79.8-83.5h0m0.9-19.6h0m44.1 94.3h0m-10.7-22.4h0m-19-93.9h0m8.3 93.4h0m-32.4-68.7h0m-1.5 37.8h0m37.8 21.8h0m-38.7 36.6h0m88.8-66.3h0m-55.7 36.1h0m56.3-14.7h0m-25 29.3h0m39.1-79.1h0m-102.5-1.9h0m58.6-10.8h0m-45.2-18.1h0m40 116.3h0m-18.7-13.1h0m72.4-36.7h0m-105.3-59h0m68.2 62.4h0m-9.6-66.6h0m-48.5 44.1h0m14.1 58h0m44.3 21.3h0m-78.4-122h0m100.7 107.4h0m-46.9-8.3h0m-20.4-6.4h0m40.4 1.2h0m39.5-21.8h0m-61.5-80.5h0m32.7 12h0m-4.2-19.1h0m-82 21.8h0m94.3 98.6h0m-92.4-77h0m2.8-16.3h0m5.4-29.6h0m72.8 121.9h0m24.3 1.4h0m-55.8-109.5h0m42.5 40.7h0m-79.9-58.6h0m61.9 79.8h0m15.8 44.3h0m-55.7-35.4h0m21.2-6.9h0m-38.2-0.1h0m77.4-33.4h0m2.5 15.2h0m-78.5-35h0m-1-9.2h0m15.2 60.5h0m61.2 21.6h0m-42.8 14h0m-32.1-26.5h0m43.7 65.9h0m-4.8-51.3h0m54.8 30.7h0m-54.4-24.4h0m14.1-81.3h0m-60-7.1h0m40.7 99.6h0m5.2-99.5h0m25.6 101.4h0m-3.9 24h0m36.2-16.3h0m-54.2-13h0m-20.9 31.4h0m36.2-24.6h0m-0.2-26.7h0m16.2 34.2h0m6.2-32.2h0m12.3 39.7h0m5-15h0m-22.3-27.2h0m9.3 44.3h0m-22.3-26.2h0m-50-98.2h0m46.6 132.3h0m-37.3-57.4h0m-17.9-20.4h0m38.2 50.3h0m-11.1-106.4h0m-45.3 55.2h0m66.6 51h0m-38.6-18.9h0m41.2 15.8h0m-36.4-36.9h0m2.2 28.3h0m-9.6 33.4h0m72.9-32.8h0m-53.4 11.7h0m0.1-115.7h0m61.5 71.7h0m-109.2-30.4h0m54.3 100.6h0m-10.9-25.6h0m13-123h0m58.8 105.3h0m-2.9 9.6h0m-22.5-32.2h0" stroke="#cfcfcf" stroke-width="1.6"/><path d="M636.9 370.7h0m-51.2-63h0m30.5 60.7h0m-47.4-21.2h0m84.2-38.3h0m-91.1-64.3h0m8.5 39.5h0m34.2 78.6h0m-36.6-16.2h0m75.8-24.9h0m24.6 0.5h0m-74.7 4.5h0m-7.8-72.3h0m39.4 102.1h0m-36.5-31.8h0m-28.4-22.8h0m19.7 3h0m66.3 76h0m18.7-46.9h0m-96.8 4h0m34.2-13.2h0m4.3 12h0m30.7 46.7h0m25.9-29.7h0m-75.1-3.9h0m26.1-14h0m10 18.7h0m2-9.4h0m-64-13.9h0m42.9 28.8h0m1.4 4.3h0m73.5 22.5h0m-2-12.8h0m-69.7-8.3h0m9.3-14.9h0m-43.9 12.5h0m19.5-118.2h0m-6.2 17.6h0m25.1-3.1h0m50.3 120.5h0m-14.3-61.1h0m22.9-78.9h0m-44.8 8.6h0m54.2 112.4h0m-7.5-121.3h0m-3 117.3h0m12.3-64.6h0m-115.1-9.9h0m9.2 88.1h0" stroke="#cfcfcf" stroke-width="2.2"/><path d="M653.7 304.3h0m-70.1-49.4h0m49.9-13h0m29 130.6h0m-76.6-136h0m71.2 106.5h0m-48 15.7h0m-13.9-105.6h0m82.6 109.5h0m-107 18.8h0m77.5 3h0m5.8-35.3h0m11.6 8.4h0m-56.8-111.2h0m61.4 103.7h0m-49.4-96.5h0m-46.2 20.8h0m24.9 86.5h0m5.5-24.2h0m-43-96h0m23.7 69.6h0m-25-67h0m84 25.9h0m12.7-22h0m-36.6 120.3h0m26.5-18.1h0m-16.1 15.3h0m43.2-7.6h0m-90.5-76h0m17.2 74h0m68.1 19.5h0m-21.7-87.7h0m-3.6 10.6h0m-28.4 61.3h0m-25.3-31.9h0m46-71.3h0m-64.1-5.3h0m-9 40.5h0m108.9 68.6h0m-82.7-87.2h0m76.7 102.1h0m-84.5-126.7h0m70.8 114h0m-26.1-5.3h0m-41-43.5h0m47.5-58.6h0m41.7 118.9h0m-76.1-24.2h0m-32.8 16h0m13.7-84.5h0m67-17.5h0m-57.4 39.6h0m9.8 52.7h0m-37.9 36.8h0m57.8-137.6h0m54.8 92.7h0m-100.9 15.1h0m93.2 6.5h0m-88.3-93.8h0m40-29.5h0m26.1 128.1h0m-33.2-59.3h0m-39.2-33.3h0m13.8-21.4h0m-12.2 64.3h0m75.8 57h0m-10.5-31.6h0m-41.1-3.3h0m9.3-27.5h0m-31 55h0m7.9-110h0m21.8 79h0m32.1-76.7h0m-79.3 23.4h0m41.1 23.6h0m4-60.4h0m-36.2 28.3h0m7.5 92.4h0m19.1-18.1h0m36.1 3h0m-45.5-90.8h0m-25.4 89.9h0m3.7-23.4h0m7.5 46.8h0m18.2-108.9h0m79.9 74.4h0m-7.4 0.9h0m-25.4 26.4h0m21.1-9.3h0m-68.9-48.1h0m70.8 18.7h0m-51.8-60h0m-2.5-31.9h0m-33.9 106.1h0m77.9-74.2h0m6 86.1h0m-44.1-14.6h0m22.6 18.1h0m-49.7-83h0m69.3 57.4h0m16.8 27.5h0m7.1-117.5h0m-59.7 87.6h0m23.5-92.9h0m-79.7 113.4h0m107.9-23.3h0m-4.7-14.8h0m-11.1-56.5h0m6 39.6h0m-72.9-0.1h0m72.3-48.9h0m2.9 93.2h0m-88.3-44.8h0m81.2 44.7h0m-73.4 22.9h0m-11-22.4h0m96.9-41.4h0m-22.3 76.6h0m-43.4-71.7h0m-7.6 36.7h0m-27.2-84.4h0m16 36.2h0m9.4-54.4h0m62 124.9h0m-49.2-55.8h0m1.6 25h0m51.6-1.5h0m-59.1-99.3h0m-1.8 85.7h0m42.9 32h0m-42.9-63.2h0m62.3 40h0m0.3 36.6h0m-72.3-63.4h0m70.9 59.9h0m14 8.9h0m-95-80h0m7.1 1.1h0m9.3 20.8h0m12.6 47.8h0m54.1-44.6h0m-31.3 48.2h0m-5.4-19.6h0m48 10.4h0m-84.5-113.8h0m87.4 147.4h0m-71.6-35.8h0m70.6-25.5h0" stroke="#999999" stroke-width="1.1"/><path d="M629.1 380.1h0m-27-129.9h0m25 71.6h0m-3 36.9h0m33.9-40.8h0m-0.3-36.2h0m-78.1-4.2h0m26.3 71.5h0m-8.7-20.8h0m71.3 9.6h0m-16.5-5.7h0m1.5-29.4h0m-53 55.4h0m50.7-64.4h0m-90.7 62h0m7.4-33.3h0m5-17.8h0m73.1 6.7h0m-34.7 51.9h0m54-51.1h0m-107.5-68.2h0m38.1 62.4h0m18.4 38.6h0m-20.9 5.7h0m29.9-77.7h0m28.9 20.5h0m17.9 86.2h0m-9.2-15.7h0m18.9-9.6h0m-5.8-114.4h0m-52.5 120.3h0m10 18.7h0m30.3-38.7h0m-14.1 30.6h0m-3.5-33.7h0m37.8 14.1h0m-58.7-87.3h0m2.1 85.5h0m-2.9 22.7h0m32.5 7.2h0m-86.6-14.1h0m-4.1-54.7h0m2.9 73.1h0m95.1-52.7h0m-91.9-20.8h0m74.2 22.5h0m-61.7-30.9h0m20.7 50.6h0m53.6-33.7h0m17.2-4.1h0m-3.7 45.5h0m-58.5 1.3h0m-38.3-64.9h0m66.2-16.4h0m-28.5 64.3h0m23 14.9h0m7.4 15h0m-42.9-42.7h0m-8.7-71.3h0m49.4 8h0m-59 55.4h0m76.4-40.7h0m-53.4 51.4h0m-24.3-73.3h0m41.2 85.1h0m29.7-42.1h0m-0.1-7.3h0m2.7 70.7h0m18.7-87.9h0m-16.1 46.8h0m-89 21.2h0m47.5-95.1h0m-49.8 69h0m91.2 24.2h0m12.7-12.1h0m-76.6-72.3h0m-20.3 120.2h0m-2.5-35.7h0m59.3 15.8h0m-30.7-11.8h0m44.8 4.5h0m-31.7-1.8h0m66-9.1h0m1-19.9h0m-68-84.6h0m25.6 145.8h0m4.8-63.7h0m-27.6-70.1h0m14.8-2.9h0m-14.3 86h0m59.8 20.4h0m-41.8-91.6h0m1.4-11.1h0m45.4 90.1h0m-40.4-44h0m20.8 25.3h0m-33.2-80.7h0m-25.1-1.2h0m67.1 86.4h0m4.7 29.4h0m-22.7-33.4h0m-4.4-55.4h0m30.3-9.9h0m-20.2 114.7h0m-1-64.3h0" stroke="#999999" stroke-width="1.6"/><path d="M558.6 247.4h0m1.7 41.1h0m69.5 72.1h0m54.1-9.9h0m-81-100.1h0m34.5 123.8h0m-54.9-62.6h0m39.8 63h0m33.5-86.8h0m-63.3 57.2h0m60.8-57.6h0m-66.8-21.5h0m79.4 82.3h0m-94-94.1h0m85.3 99.6h0m2.3-29.2h0m14.1 14.8h0m-55.7 9.8h0m40.6-101.5h0m3.7 71.8h0m-69.1-78h0m-7.5 57.2h0m61.8 45.7h0m10.3 30.8h0m-63.8-87.8h0m-10.3-22.1h0m18.2 67h0m71.1 19h0m-89.3 27.7h0m57.8-24.1h0m14.1 2.8h0m1.4 2.2h0m-98.9-72.9h0m0.2 13.1h0m64 43.2h0m26.8-49.9h0m-83.6-13.8h0m52.6-24.5h0m-37.4 42.3h0m52.1 55.7h0m9.8 17.1h0m12.6-13.3h0m-52.9-15h0m14 10h0m38.8-7.2h0m8.6 9.5h0m-25.3-3h0m14.6-5.4h0m-12.7 34.6h0m22.8-45.1h0m-55.8 22.4h0m-19.6-36.8h0m58 41.8h0m-53-14.7h0m-18.7-52.5h0m106.9 57.9h0m-41.9 26.4h0m-51-87.9h0m12.4 65h0m67.5-8.7h0m-87.2-34.9h0m59-4.6h0m-64.9 4.6h0m18.7 3.7h0m45.8 37.2h0m-43.3 7.2h0m35.3 7.6h0m-54.6-88.1h0m96.8-16.6h0" stroke="#999999" stroke-width="2.2"/><path d="M637.6 381.5h0m-18.4-29.4h0m56.3 6h0m-51.7-112.2h0m24.6 31.7h0m3.6 83.3h0m7.9-117.9h0m-49 119.8h0m45.3 10.9h0m12.8-6.2h0m-105-26.3h0m110-28.8h0m-19.4-3.5h0m-81.5-42.4h0m33.2 83.7h0m57.2-15.4h0m-32.6 38.1h0m-12.9-107.3h0m-8.9 72.4h0m-9.2-83.3h0m30.1 106.4h0m-36.4-32h0m0.2-62.5h0m23.5 61.7h0m49 9.4h0m-39.4-81.1h0m-23 101.9h0m31.3-84.9h0m11.2 89.6h0m-13.1-93.4h0m47.9 71h0m-8.9 12.9h0m-103.5-103.4h0m78.6 111.3h0m9.1-37.1h0m-53.9 5.3h0m61.2-2.9h0m-79.6-45.3h0m35.5 64.4h0m-23.2-21.2h0m83.3 29.8h0m-61.9-21.1h0m-29.2 22h0m72.7-8.9h0m5.7-69.3h0m-3.8 13.4h0m-13.9 56.7h0m-70.8-55.9h0m41.5 83.6h0m-60.9-0.3h0m5.7-71.8h0m83.8 71.6h0m-86.8-33h0m6.2 45.4h0m49.2-0.9h0m-7.4-16.2h0m-2.6-129.3h0m38 106.4h0m10 28.6h0m-54.9-119.6h0m58 62.6h0m6.9-49.7h0m-18.8 99.8h0m-41.5 20.6h0m-12.6-61.6h0m36 51.9h0m10.6-29.5h0m-16.5-13.2h0m-13.4 5.9h0m57.6-5.2h0m-26.1 32.3h0m-10.6-2.3h0m5.7-5.9h0m33.6-7.9h0m-106.4-2.3h0m70.5-31h0m28.4-17.4h0m3.5 54.7h0m-41.4-96.5h0m34.4 80.3h0m-51.2-101.4h0m25.6 138.5h0m-74.2-48.4h0m44.1 24.9h0m22.9-8.7h0m-64.2 6.3h0m27.5-39.4h0m40.8 26.6h0m-72-18.3h0m88.2 40.3h0m-48.3-111h0m39.4 104.6h0m36-42.9h0" stroke="#666666" stroke-width="1.1"/><path d="M591.2 319.2h0m-7.5-69.2h0m34.2 111.1h0m-13.5-15h0m-19.3-65.9h0m78.2 6.6h0m-31.3-24.6h0m42.7 79.1h0m-79 13.4h0m-6-6h0m89.4 10.3h0m-20.9 3.8h0m-18.5-76.1h0m-49.2-27.3h0m53.7 91.7h0m-65.1-73.8h0m89 49.4h0m1.7-65.2h0m-67.6 66.7h0m18 36.1h0m39.2-57.4h0m-79.7 56.6h0m72.4-17.3h0m25.1-7.9h0m-46.6 14.8h0m-10.4-98.7h0m-36.4 45.6h0m68.9 73.3h0m-6.7-25.4h0m-64.6-107.6h0m76.7 8.6h0m11.7 142.1h0m-70.4-53h0m52.5-73.5h0m29.2 14.5h0m-87.1-14h0m27.7 83.7h0m-5.6-4.7h0m-31.1-45.7h0m44.2 17h0m-65.3 75.9h0m44-48.5h0m48-47.9h0m-28.2-14.8h0m44.5 40.8h0m-60 32.7h0m-12.3-23.5h0m13.3 9.8h0m-15.9-96.9h0m5.1 94.4h0m-27.4 37.7h0m83.9-26.2h0m-5.5 32.6h0m-13.8-0.4h0m11.3-18h0m-45.8-37.7h0m19.5 15.3h0m30.4 25h0m-73.4-56.6h0m42.2 58h0m9.4 5.8h0m-58.5-5.8h0m47.4-112.7h0m-26.7 111.6h0m20.4-108h0m32.5 111.3h0m-28-118.2h0m34.2 131.5h0m7.7-18.5h0m-33.5-12.4h0m8.9-93.6h0m16.3-16.3h0m-61.1 95.1h0m72.5-28.9h0m1.6 63.9h0m-68.3-9.1h0m59-11.5h0m18.6 0.4h0m-78.5-8.4h0m74.7 25.5h0m-108.7-93.2h0m45.3 40.7h0m-19.7-60h0m13.6 98.4h0m-12.6-69h0m25 68.6h0m-25.7-23.3h0m18-93.1h0" stroke="#666666" stroke-width="1.6"/><path d="M570.5 257.2h0m70.1 68.5h0m-5.5-68.3h0m11 97.2h0m9.2-20.7h0m-56.9-8.1h0m57.2 60.1h0m18.7-63.9h0m-71.2 8.6h0m-22.1-58.3h0m40.5 91h0m-28-76.3h0m15.7 83.2h0m36.5-12.5h0m5.9-55.1h0m-10.9 45.4h0m25.9-86h0m-12.2 123.6h0m-42.7-29.5h0m64.9-28.9h0m-23.2 44.9h0m-0.2-23.6h0m-43.6 8.7h0m32.6-87h0m-12.1 79.2h0m51.4 39.2h0m-35.1-41.4h0m-41.5-108.1h0m-19.8 20.3h0m-21.4-17h0m7.6 136.8h0m49.4-45.7h0m-41.5-73.3h0m105.7 83.8h0m-62.4 4h0m-37-19.8h0m-3.1 47.3h0m93.2-12.5h0m-2.9-16.4h0m-8.8-35h0m-44.9-52.8h0m-11.5 80.8h0" stroke="#666666" stroke-width="2.2"/></g>
<use href="#s1o" transform="translate(556 235)" fill="none" stroke="#f4f4f4" stroke-width="1.15" stroke-linecap="round" stroke-dasharray="0.01 2.1"/>
<use href="#s1r" transform="translate(556 235)" fill="none" stroke="#e3262b" stroke-width="1.05" stroke-dasharray="3.2 1.9"/>
<use href="#s1b" transform="translate(556 235)" fill="none" stroke="#2f7ddb" stroke-width="1.05" stroke-dasharray="3.2 1.9"/>
<rect x="634.8" y="324.3" width="39.6" height="11.4" fill="none" stroke="#e6e6e6" stroke-width="0.95"/>
</g>
<rect x="559.7" y="382" width="48.8" height="4.2" fill="#fff"/>
<clipPath id="cp0_436"><rect x="41" y="436" width="129" height="155"/></clipPath>
<g clip-path="url(#cp0_436)">
<rect x="41" y="436" width="129" height="155" fill="#070207"/>
<g filter="url(#bl3)"><use href="#s2c" transform="translate(40 435)" fill="#6a3060" fill-opacity="0.5"/></g>
<g transform="translate(40 435)" clip-path="url(#cc2)"><g filter="url(#bl3)" fill="none" stroke="#f0a0e0" stroke-linecap="round"><use href="#s2c" fill="#f0a0e0" fill-opacity="0" stroke="none"/><path d="M29 57L28 64L29 71L32 79L37 86L43 93L51 101L57 106L63 111L73 117L84 120.5L92 119" stroke-width="8" stroke-opacity="0.65"/><ellipse cx="70" cy="32" rx="34" ry="9" fill="#f0a0e0" fill-opacity="0.35" stroke="none"/><ellipse cx="15" cy="47" rx="12" ry="7" fill="#f0a0e0" fill-opacity="0.3" stroke="none"/></g></g>
<g filter="url(#bl3)"><use href="#s2r" transform="translate(40 435)" fill="#120a16" fill-opacity="0.8"/></g>
<g transform="translate(40 435)" clip-path="url(#cc2)"><g filter="url(#bl3)" fill="none" stroke="#50c878" stroke-linecap="round"><use href="#s2c" fill="#50c878" fill-opacity="0" stroke="none"/><path d="M38 62L42 72L47 81L52.5 88L59.5 94.5L67 99.5" stroke-width="6" stroke-opacity="0.45"/></g></g>
<g filter="url(#bl2)"><use href="#s2b" transform="translate(40 435)" fill="#1a0c18" fill-opacity="1.0"/></g>
<g stroke-linecap="round" fill="none" filter="url(#bl1)"><path d="M122.8 561.6h0m-43.9-35.5h0m26-70.4h0m31.9 94.2h0m-17.9-100.4h0m27.4 123.4h0m-44.5-105.6h0m-7.7 80.3h0m61.7-93.4h0m-1 51.5h0m-88.7-6.4h0m91.5-19.5h0m-35.8 78.1h0m-10-94.9h0m-14.9 7.3h0m-25.8-1.8h0m-7.4 36.6h0m-6.2-31.1h0m67.8 86.6h0m-62.5-71.3h0m75.6 69h0m2-88.9h0m-76.7 25.2h0m38.2 47.3h0m-24.3-72.6h0m9.6 63.7h0m54.9-74.6h0m-58.9 76h0m15.7 11.9h0m35.5-1.9h0m-38.7-78h0m16.2-12.7h0m-16.3 87.7h0m6.1 4.2h0m43.1-21.4h0m-31.5 27.1h0m2.8-88.5h0m-43 56.8h0m59.4-54.6h0m-55.7 58.3h0m-11.4-48.4h0m-15.1 14.5h0m61.1-17.3h0m-26.6-6.3h0m41.9-4.2h0m-25.2-23h0m24.5 116.6h0m-38.7-88.1h0m-24 9.9h0m71.7-12.7h0m-72.6 11.4h0m48-9.2h0m-24.8-1.3h0m63.7-4.3h0m-20.1 94.4h0m6.6 7.5h0m-27.8-94h0m39.4 66h0m6.6-34.5h0m-29.2-51.3h0m18.7 88.6h0m-43.2-76.6h0m3.4 81h0m62.7-41.2h0m-68.6 35.6h0m1.8 12.6h0m13.6-1.8h0m-39.9-56h0m60.5-32.4h0m-18.8-1.1h0m17.6 16.8h0m11.2 97.1h0m-18.1-115.3h0m-13.7 8.9h0m-34.6 54h0m40.6-54.9h0m-68.2 14.9h0m36.5 56.7h0m-29.9-58.9h0m83.2 82.5h0m-43-18.9h0m-0.9 6.2h0m-24-39.2h0m-5.2 4.5h0m67.1 46.2h0m17.5-97h0m-93 96.2h0m45.8-11.6h0m1.5-77.4h0m43.4 11.1h0m-88.9-3h0m30.8 52.6h0m43.2 15.4h0m-66.5-36.5h0m21.4 26.4h0m-29.4-61.1h0m54.2 76.8h0m-19.7-89.2h0m45.2 123.5h0m-69.9-79.3h0m42.4 49.1h0m-42.2-56.7h0m26.6 46.1h0m-1.8-74.5h0m-27.7 40.3h0m30.7-41.3h0m-28.9 41.1h0m-18.3-31h0m103.5-0.8h0m9.2-17.8h0m-21.5 67h0m-40-62.6h0m-29.3 25.1h0m-24.4-12h0m84.2-22.1h0m-50.6 66.8h0m37.9 33.4h0m-1.6-90.9h0m29.1-1.1h0m-21.9-16.6h0m-11.9 13.2h0m-52.6 15.4h0m98-16.3h0m-75.7 22.5h0m42.8-12.3h0m17 67.1h0m-19.9 26.5h0m7.9-86.5h0m-53.7 45.3h0m44 35h0m9.9 8.3h0m25.9-79.1h0m-93.9-11.5h0m68.5 4.7h0m13.7-16.3h0m-55.7 7.3h0m52.8 102.7h0m17.4-111.5h0m-110.5 22.1h0m11.1-3.5h0m9.1 4.2h0m97.7-1.8h0m-80.9 50.1h0m7.7 7.2h0m1.3 7.1h0m50.7-33.9h0m-45.9 30.1h0m-52.8-55.8h0m30.2-4.7h0m51.4-16.8h0m15.9 28.5h0m-22.2-32.3h0m2.4 98.8h0m4.9-1.4h0m-5.2-106.7h0m-57.6 50.7h0m73.8 58.6h0m-66.4-47.3h0m16.6 22.5h0m29.4 16.3h0m44.6-79.7h0m-10.7 30.7h0" stroke="#fad0ee" stroke-width="1.1"/><path d="M144.8 468.5h0m19.1 6.9h0m-5.2-18.6h0m-25.2 1.7h0m-64.5 46.8h0m19.4-35.2h0m30 90.1h0m-13.7-96.4h0m57.1-6.1h0m-114.4 28.6h0m16.7 3.3h0m32.4 52.9h0m31-83.1h0m-26.6-4.1h0m-31.8 51h0m10.7 21.3h0m64 32.5h0m16.7-96.5h0m-17.3 18.4h0m-20.9-14.1h0m-43.5 50.7h0m-0.8 11.4h0m24.4 15.6h0m28.9-74.2h0m-43 56.6h0m-33.8-48.6h0m53.3 67.7h0m-15-8.4h0m-19.1-18.7h0m45.1 37.9h0m-47.1-67.9h0m36.8-16.4h0m-44.5 1.2h0m4.9 34h0m-13-27.9h0m67.9-30.9h0m-9.7 99.5h0m-52-78.2h0m55.7 86.8h0m-65.4-83h0m22.6-3.7h0m82.3 1h0m-116.2 9.3h0m74.9-12.4h0m20 80.2h0m-44.9-74h0m63.2-10.3h0m-78.8 49.3h0m63.2 30.6h0m-17-69.5h0m38.2-9.4h0m-74.8 66.9h0m-6.2-12.5h0m-34-44.4h0m76.7-12h0m-20.1 78.2h0m-54.5-59.2h0m15.2 15.1h0m4 19.9h0m77.3-6.1h0m-61.9-44.4h0m29.6 81.4h0m31.4-94.1h0m-34.3 14.5h0m-12.5 70.8h0m10.2-73h0m-21.1-0.1h0m24.3 4.3h0m-1.9 0.9h0m44.8 3.3h0m-93.2 13.2h0m105.7-15.2h0m-32.8 84.8h0m-73.2-82.2h0m36.2 62.4h0m-43.3-52.4h0m54.5-15.3h0m19.7-7.4h0m-62.2 47.6h0m71.9 58.2h0m-10.7-116h0m9.4 101.3h0m11.8-86.2h0m-30.7-15.9h0m27.2 7.1h0m-37 87.6h0m-5.6-4h0m62.1-80.3h0m-114.3 21.7h0m103.6 49.4h0m0.1-70.9h0m-74.3 63.8h0m53.1 36.7h0m-1.5-10.3h0m10 13.6h0m-62.2-98.1h0m7.4 63.3h0m-5.9-60.8h0m15.8 64h0m-31.7-30h0m83.3-37.4h0m-78.3 7.6h0m85.2-3.2h0m-83.9 29.3h0m40.8-47.7h0m-56.7 38.4h0m61.2-24.7h0m-7.1 4.4h0m24.2 0.7h0m6.3-3.4h0m-87.3 15.9h0m2.5-9.2h0m58.3-10.2h0m-1.5-14.9h0m20.6 28.7h0m16.1 11.5h0m-20.7-17.4h0m-65.7 28.2h0m72.3 56.3h0m-3.7 0.6h0m-54.3-33.8h0m61.7-59.1h0m-10.2 0.5h0m-25.7-8.2h0m44.4 8h0m-95.5 15h0m76.6-17.6h0m12.6 88.4h0m12.7-79.2h0m-34.4-16.5h0m-5.6-8.4h0" stroke="#fad0ee" stroke-width="1.5"/><path d="M101.4 544.4h0m31.3 18.2h0m-29.9-17.3h0m37.9-19.5h0m4.1-48.5h0m-75.1 45.4h0m6.6-6.7h0m-5.4 4.5h0m-0.7 1.1h0m71.2-43.6h0m-1.8-18.8h0m-68.5 49.6h0m74.7-34.2h0m-94.3 12.4h0m76-17.8h0m-15.9 84.5h0m-47.6-75.7h0m2.4 3.1h0m23.6-15.1h0m-13.2 55h0m77-44.6h0m-72.2 57.7h0m45.8-62h0m-69.6 2.1h0m52.6 74.7h0m27.1 7.2h0m-71.9-78.9h0m28 65.7h0m37.8 13.6h0m-64.4-84.1h0m57.1 89.1h0m12.7-94.9h0m6.1-6.8h0m-74.1 28.4h0m1.5-5.7h0m-1.4-10.9h0m8.6 12.3h0m78-23.2h0m-84.8 45.9h0m30.9-34.6h0m39.8 70.2h0m-44-2.6h0m28.4 21.1h0m-2.8-100h0m-22.7 87.8h0m-31.3-37.9h0m16 24.8h0m0.1-6h0m-29.7-45.7h0m12.8 31.4h0m16.3 14.1h0m36.9-61.5h0m-57.7 4.7h0m1.1 22.2h0m19.4 29.1h0m41.5-52.4h0m-56.6 44.5h0m66.5-58.7h0m10.3 16.6h0" stroke="#fad0ee" stroke-width="2.0"/><path d="M57.5 490.2h0m-0.4-1.2h0m-11.8 1.1h0m55.4 49.3h0m44.5-73.3h0m-40.2-4.9h0m10.5 10.1h0m-24.7 59.6h0m67.1-38.3h0m-9.2 11.7h0m-106.1-20.3h0m98.7-25.1h0m-74.7 42.9h0m55.5-37.9h0m-59.9 42.4h0m101-29.2h0m-99.6-1.5h0m7.5 19.1h0m-5.5-11.4h0m3.7 24.6h0m62.2 44.1h0m-64.4-80.1h0m-8.7 10.5h0m88.5 40.1h0m2.3-62.6h0m-51.8 88.8h0m-25.6-55.4h0m15.9-22.9h0m-31 9h0m72.3 77.7h0m-51.2-26.9h0m-29.7-40.7h0m-6.2-6.8h0m88.8 73.2h0m-69.4-54h0m28.9 34.6h0m47.3-56.1h0m-79.5 13.6h0m0.1-13.5h0m56.8 77.2h0m-20.1-90.7h0m-8.7 66.1h0m46.8 26.2h0m-61.2-56.3h0m86.4-15.6h0m-99.2-13.5h0m9.5 16.3h0m-1.6-9.6h0m43.5-14.7h0m15.5 91h0m-77.4-76.1h0m65-20.7h0m22.5 98.5h0m1-88.2h0m-39.3 69.8h0m20.4 9.3h0m-43.6-37.6h0m-15.9-11.1h0m50.8 51.6h0m55.2-55.1h0m-98.7-19.6h0m56 76.9h0m17.1-18.7h0m-59.7-52.5h0m9.7 50.5h0m12.7 8.8h0m21.7 22.3h0m-37.7-37.9h0m43.9-81.1h0m-52.5 74.1h0m75-41.5h0m-57.7 62.2h0m35.6 11.1h0m21.9-65h0m-18-10.5h0m-51.8 45h0m78-26.6h0m-86.6 31.1h0m72.7-62h0m-45.5 81.7h0m-7.2-0.4h0m-18.5-32.2h0m53.4-58.5h0m-13 103.1h0m-3.8-86.2h0m-48 29.1h0m81.2 69.5h0m-75.7-71.2h0m34.4-40.6h0m-16.3 76.9h0m13.3 8.5h0m-23.1-17.7h0m-7.8-23.7h0m-1.8-18.1h0m96.1 46.8h0m-34.8-75h0m32.9 5.4h0m-46.6 2.6h0m-34.2 17.4h0m-23.5 0.8h0m61.7-28.2h0m14.5 114.9h0m3.1-15.1h0m-33.6-7.4h0m-58.8-34.1h0m27.4-8.6h0m17.8 24.5h0m38.1 28.9h0m19.6 13.4h0m-81.9-97h0m-6.4 11.5h0m5.1 23.8h0m39.7-51.2h0m33.8 87.5h0m21.6-90.8h0m-23.9 7.5h0m-73.4 40.2h0m43.2-34.5h0m-51 10.5h0m17.4 35.5h0m54.5-52.5h0m36.4 24.3h0m-94.8 7.3h0m60.3 68.2h0m-58.6-45.8h0m73.3 67.4h0m11.8-132.8h0m-33.1 12.6h0m-7.1 7.9h0m-14.1-6.2h0m37.1 107.8h0m-54.9-39.6h0m25.3-65.3h0m18 8.3h0m0.9-3.9h0m4.7 94.4h0m-15.6-97.2h0m-13.1-0.5h0m29.3 82.2h0m28-82.3h0m-83.7 56.5h0m43.1-54.7h0m-18.6 78.3h0m-11.5-7.1h0m46.5-56.5h0m-59.7-2.2h0m43.2 75.5h0m-2.7-89.4h0m27.8 111.9h0m-79.6-109.2h0m80-5.6h0m-78.3 38.9h0m72.3-46.9h0m-19.6 1.9h0m-32.7 75.8h0m-15-20.1h0m10.6-45.6h0m61.2 84.9h0m-21.6-102.7h0m-62.3 46.8h0m50.5-41.3h0m-29.2 27.7h0m61.1 61.4h0m-33.1 2.3h0m-37.8-34.4h0m7.2 7.2h0m47.7 45.9h0m-56.3-93.8h0m71.2-1.2h0m-44.8-5.2h0m26 6.1h0m-7.8 77.6h0m-40.5-41.5h0m46.6-37.2h0m-75.6 15.7h0m15 8.6h0m70.5-27.2h0m-19.9-4.1h0m-64.7 23.5h0m41.7 47.7h0m-30.6-60.6h0m70.9-6.3h0m-26.5-7.6h0m55.8-5.6h0m-42 12h0m-8.5 78.1h0m10.2 9.9h0m-33-31.1h0m23.3 19.9h0m41.7-78.5h0m-74.9 47.4h0m69-15.2h0m-3.6 79.5h0m-63.3-98h0m68.6-23.4h0m-57.5 13.4h0m36.8-5.6h0m6.1 92.4h0m-3.5 2.5h0m-18.8-98h0m-61.4 10.2h0m52-7.5h0m-46.9 28.6h0m98.2-10.2h0m-4.1-23h0m-18 16.8h0" stroke="#e458d4" stroke-width="1.1"/><path d="M70.4 513.1h0m78.6-9.1h0m-19-34h0m14.5-12.9h0m-84.8 48.4h0m62.5 48.9h0m25.1-76.5h0m-79.2 37.9h0m-20.1-32.1h0m89.4 75h0m-20.5-7.4h0m-5.5-94.3h0m32.9 116.5h0m-60.6-44.1h0m-24.6-26.1h0m98.5 16.9h0m-63.8-48.1h0m31.5 2.3h0m-22.3-16.7h0m-40.5 31.4h0m23.3 46.2h0m-31.5-54.7h0m90.6 22.7h0m-20.7 55.4h0m-2.1-106.7h0m-65.7 21.3h0m71.7 80.7h0m23.7-87.1h0m-4.7 108.8h0m-81-58.5h0m96.7-56.3h0m-64.2 10.3h0m35 82.4h0m-19.5-99.2h0m-30.2 73.3h0m74.5-55.6h0m-33.1-13.8h0m-43.5 66.4h0m59.8-1.7h0m-70.4-16.1h0m73.3 53.3h0m-77.7-67.2h0m2.5 16.7h0m31.6-41.5h0m28.3 5h0m-28.1 68h0m-42.4-49.4h0m26-23.4h0m-28.1 18.1h0m36.8 57.3h0m46.7 8.9h0m-40.7-86.5h0m-51.8 22.6h0m45.1-18.5h0m-42.6 22.1h0m110-36.8h0m-105.8 30.5h0m77.7 70.5h0m-87.4-83.1h0m80.1 88.3h0m10.7-83.9h0m-39.7 60.8h0m-50.2-62.6h0m79.8-13.3h0m-44.7 57.6h0m-10.7-20.7h0m-19.6-27.9h0m10.7 21.8h0m6.9 10.8h0m67.8 74.6h0m-1.3-101.3h0m14.1 39.2h0m-27.3-52.1h0m-29 3h0m-24.8 51.1h0m21.3-50.7h0m2.1 64.5h0m53-78.7h0m-66.3 75.7h0m51.1 37.8h0m-81-82.1h0m67.5-15.8h0m51.6 13.6h0m-111.8 4.6h0m74.1-18.1h0m-63.5 23.3h0m-8.3-8.4h0m96.9-10.5h0m-92.5 1.7h0m2.5 39h0m11.3 3h0m52.6 37.4h0m22.2-94.7h0m-87.8 27.5h0m-2.2 20.2h0m71.1-44.4h0m22.7 11.4h0m-105 8.1h0m23.4 23h0m-0.9-26.2h0m26.9 66.9h0m11.2-96.7h0m-2.5 97.4h0m-43.8-62.3h0m55-14.1h0m30.9 45h0m-90.7-30.8h0m106.7-7h0m-44.7 79.6h0m31-96.1h0m3.8 38.4h0m-15.1-39.9h0m-67.6 28.3h0m64.8 59.3h0m-1.2 0.7h0m-76.3-62.2h0m60.6 68.3h0m-32.8-19.9h0m33.7 27.4h0m-30.6-30.9h0m26.9 19.4h0m2.2-90.4h0m-20.5 85.2h0m-30.1-55.2h0m14.3 34.6h0m38.1-51.7h0m18.8-14.7h0m-23.8 92.9h0m-73-65.9h0m27 30.2h0m18.9-44.2h0m-7.5 5.8h0m36.2 76.1h0m22.3 7.1h0m-11 5.9h0m-64-56.3h0m94.9-14.7h0m-3.4-38.3h0m-78.6 65.5h0m-36.3-41.3h0m51.1 61.1h0m-27.7-27.7h0" stroke="#e458d4" stroke-width="1.5"/><path d="M114.6 555.5h0m33.8-69.3h0m-60.3 43.5h0m1.5 0.1h0m71.7-39h0m-70-17.7h0m-2 63h0m49.1-65.8h0m-43.1 71.6h0m-37.3-38.9h0m59.4 55.5h0m-15.1-95.5h0m50.1 2.8h0m-31.3 3.8h0m3.9 89.7h0m-15.3-106.7h0m-4.3 91.9h0m-34.5-44.5h0m55.9-30.3h0m-17.7 76.7h0m-11.4 0.5h0m24.3 9.6h0m15.9-89.4h0m-15 88.2h0m-61.4-41.7h0m50.2-63.1h0m-47.1 42.3h0m52.3-32.4h0m9 1.1h0m-63.1 50.2h0m71.1-58.5h0m-47.1 74.7h0m-22.2-42.3h0m80.3-7.3h0m-76.9 35.3h0m42.3 32.9h0m38.2-32.1h0m-3.4-26.9h0m-42.5 57.5h0m26.6-78.5h0m7.3-2h0m-62.6 23.4h0m-5.6 21.6h0m76.1 62.1h0m-79.1-65.8h0m0.5-6.6h0m40.8 44.2h0m-43.2-41.2h0m46.5-36.8h0m-36.8 49.2h0m51.9 39.4h0m-51.2-64.2h0m71-25.8h0" stroke="#e458d4" stroke-width="2.0"/><path d="M118.4 558.9h0m23.3 5.8h0m-0.3-15.8h0m2.6-93.1h0m-5.7 103.4h0m-66.7-55.1h0m1-34.9h0m71.8 96.3h0m0.9-100.5h0m-45.1-3h0m-43 31.9h0m108.1-23.9h0m-91.8 49h0m68.2 49.4h0m-32.2-99.4h0m-57.1 12.9h0m65.8-13.8h0m24.1 77.9h0m-45.7-3.5h0m18-91.1h0m-55.9 55.1h0m4.7 0.7h0m20.3 23.6h0m-34.8-56.7h0m56.5-12h0m-27.7 64.4h0m34.2 21.5h0m-5.4-74.6h0m-13 63.2h0m32.8-65.9h0m3.5 100.7h0m-2.4-14.8h0m-82.8-71.1h0m34.3 37.9h0m53.3-50.4h0m-35.1 0.6h0m45.2-6.2h0m-17.7-1.9h0m17.5 11.4h0m-27.8-5.7h0m-3-19.5h0m-1 98.4h0m40.5-98.7h0m-13.6 112.9h0m29.7-73.3h0m-29.7-9.8h0m-87.1 7.6h0m107-13.6h0m-12.9 84.2h0m-46.2-89.8h0m18.8 86.9h0m-61.6-54.6h0m9.5-22.8h0m4.9-8.6h0m64.4 82.6h0m-76.2-51.6h0m63.5-50.8h0m-49 37.8h0m46.3-23.8h0m23.9 80.7h0m-34.5-80.8h0m51.9-0.2h0m-71.1 2.4h0m63.6 8h0m-5.1 38.2h0m-64 22.6h0m43.9-81.8h0m-80.6 23.1h0m92.1-18.6h0" stroke="#ffffff" stroke-width="1.1"/><path d="M71 512.5h0m39.2-38.8h0m-38.6 23.2h0m42.2 52.5h0m9-86.2h0m21.6 52.4h0m-103.5-25.9h0m104.1-35.3h0m-99.8 29.7h0m50.8-29.8h0m45.5 108h0m-50.3-95.5h0m-31.2 42.9h0m48.1 38.2h0m39.3-89.9h0m-22.8 4h0m-56.2 10.2h0m63.8 81.7h0m-34.8-93h0m1.1 83.1h0m-23.8-68.2h0m69.5-21.5h0m-34.2 91.9h0m49.3-80.3h0m-63.5-2.2h0m49.7 56h0m-46.7 19.6h0m15.5 16.4h0m4.8-82.5h0m-69.5 1.4h0m14.2 41.5h0m62 45.3h0m27.3-56.3h0m-99.8-16.1h0m35.2 51h0m-10.6-23.2h0m-33-31.9h0m22.5 1.2h0m-20.5 2.2h0m18.2-20.5h0m20.8 11.9h0m-22.5 14.5h0m42.5-26.5h0m-8.8-4h0m-17.1 61.5h0m50.7 29.2h0m22.3-101.7h0" stroke="#ffffff" stroke-width="1.5"/><path d="M140.3 547.5h0m-58.6-25.9h0m20.7-48.1h0m21.8-6h0m-66.8 17.7h0m49.1-14.5h0m13.9-12.6h0m20.9-3.3h0m-98 29.8h0m44-16.2h0m52.4 113.2h0m-17.3-112.3h0m14.4-4.3h0m29.3 15.2h0m-2.4-13.9h0m-67.9 79.5h0m53.8-44.2h0m10.7-4h0" stroke="#ffffff" stroke-width="2.0"/><path d="M59.6 475.2h0m8.9 23.1h0m-12.3-11.6h0m31.4 50.3h0m-19.5-26.2h0m-1-31h0m-5.2-7.9h0m22.5 0.6h0m82.8 1.4h0m-5.7 7.1h0m-53.6-13h0m44.9-11.4h0m-19.4 11.4h0m-34.5 72.7h0m-39.6-45.6h0m45.8 50.1h0m18.4-72.1h0m-52.8-4.4h0m86.8-11.2h0m-34.5 0.4h0m-12.6 10.8h0m35.5 8h0m-103 0.6h0m80.9-12.7h0m-49.4 16.1h0m45.4 77.3h0m-1.9-1.6h0m-46-41h0m40.3-53.4h0m-42.8 29.1h0m-5.2 16h0m5.9-21.7h0m39.2 65.3h0m-56.5-57.3h0m16.4 16h0m20.2-44.2h0m-24.1 20h0m19.7 40.6h0m33.1 31h0m-55.8-61.2h0m40.9 48.2h0m-1.7 2h0m-18.8-12.3h0m56.7 48.9h0m-42.2-36.3h0m-18.7-18.6h0m72.4-48.1h0m-14.4 91.8h0m-71.3-74.4h0m73.3-22.1h0m4.5-19h0m5.4 117.9h0m-58.3-30.7h0m19.4 8.1h0m-60.9-76h0m13 26h0m-1.2 2.1h0m80.6 38.6h0m-43.9-74.7h0m23.8 6.8h0m-80.7-0.1h0m28.3 17.3h0m61.5 66.1h0m-22.5-7.7h0m49.7-62.6h0m-105.6 8.1h0m61.9-35.9h0m-26.3 77.6h0m-43.3-47.1h0m66.5-31.2h0m19.4-7.3h0m-9.4 19.2h0m19.1 102.2h0m-45.8-39.4h0m70.9-57.5h0m-93.9 28.9h0" stroke="#f2e2a8" stroke-width="1.1"/><path d="M140 535.8h0m-14.9 29.4h0m-57.4-57.3h0m96.7-23.8h0m-43.8-14.8h0m-33.3 65.4h0m6.1-72.9h0m-37 12.9h0m30.1-5.1h0m-38 16.1h0m12.9 5.3h0m99.2-37.8h0m-75.3 15.1h0m-12.8 55.8h0m46.8-65.2h0m22.4 2.5h0m-77.7 25h0m-22.7 1.9h0m33.4 3.9h0m9.9-21.7h0m49.7-15.5h0m10.8 60.2h0m-47.6-47.9h0m33.4 97.6h0m-65.8-89.9h0m77.8-11h0m-45.7 77h0m26.1-66.5h0m-46.3-5.6h0m-17.1 31.3h0m-1.5-2.5h0m88.8 5.7h0m-19 52.3h0m-34.8-23.1h0m17.3-79h0m34.8 99.3h0m-37-104.6h0m54.5 10.3h0m-96.8 46.9h0m72.4 42.1h0m-32-0.3h0m-50.2-65.1h0m92.7 17.9h0m-56.2 41.4h0m-11.4-21.4h0m9.7-52h0m-17 42h0m-3.4-5.3h0m22 30.2h0m53.7 42.1h0m1.1-123.6h0m-10.3 122.8h0m-88-86.4h0m9.2-18.7h0m84.2 21.7h0m-89.2-3.8h0m32.5-20.9h0m12.3-6.2h0m-34.6 9.4h0m79.2 78.3h0m-64.1-27.7h0m11.8 14.7h0m-31-59.5h0m49.5-12h0m54.1 15.7h0m-93.1 16.7h0m50.9 65.2h0" stroke="#f2e2a8" stroke-width="1.5"/><path d="M143.2 467.8h0m-88.9 16.5h0m52.9 62.5h0m-41-72.8h0m20.7-2.6h0m53.4 64.3h0m22.2-35.1h0m-97.3 7.4h0m-22.5-30.3h0m22.7-9.1h0m6.4 11.9h0m91.6 6.8h0m-89.9 30.6h0m-10-17.4h0m-4.7-8.3h0m81.8-9.2h0m-29.4-18h0m46.3 4.9h0m-44 84.8h0m-62.3-77.3h0m82 80.6h0m-3.4-89h0m-35 73.6h0m49.3 39.1h0m14.8-130.5h0m-76.9 24.4h0m-12 3.3h0m56.3-22.5h0m-77.7 18.5h0m57.9 72.6h0" stroke="#f2e2a8" stroke-width="2.0"/><path d="M96.3 546h0m-28.2-53.8h0m-12.3-8.9h0m86.6-21.9h0m1.6 4.5h0m-47.6-4h0m62 38.5h0m-45.8-44.6h0m7.3 16.7h0m-44.3 42.4h0m71.4 59.2h0m-72.3-84.8h0m-30.5 1.7h0m19.7 20.5h0m2-17.1h0m39.9-37.8h0m-27.9 67h0m42.2-55.2h0m-49.1 52.7h0m54-64.7h0m-46.2 73.7h0m41.4 21h0m-38.7-27.4h0m34.3-59.1h0m-61.1 18.9h0m80.6-2.1h0m-41.5-10.9h0m31.3 4.3h0m36.7-14.5h0m-35.7 8.4h0m-66.7 40.1h0m11.7-18.3h0m76.7 0h0m-69.9 25.7h0m4.9-45.8h0m-26.6 1h0m35.6-6h0m-22.2 32.1h0m-1 19.7h0m62.6 33.8h0m-72.2-53.3h0m26 35.2h0m-22.5-29.2h0m52.5 48.1h0m-32.5-24.2h0m27.1 24.5h0m-11.6-92.1h0m51.1 115h0m3.9-94h0m-90.4-35.9h0m51.8 21.5h0m13 94.6h0m-40.9-29.3h0m53-65.1h0m-23.2 93h0m-66.6-82.5h0m87.4-17h0m6.4 30.3h0m-34.9 58.7h0m28.5-7.3h0m4.2-79.9h0m-19.3 100.2h0m34.4-68h0m-96.2-14h0m6.5-7.7h0m42.1-2.7h0m33.3 63.9h0m-57.9-9.2h0m28 26h0m-30.2-30.8h0m52 23.6h0m1.4-59.2h0m-71 26.8h0m-16.5-23.5h0m50.5 61.3h0m63.5-66.1h0m-70.9 59.6h0m-22.1-50.8h0m78.8 21.6h0m-17.8 45.8h0m-61.7-61.6h0m39.7 51.8h0m-38.3-40.9h0m90.3-41.7h0m-82.7 18.5h0m29.9-20.1h0m19.5 95.9h0m-7.3-97.6h0" stroke="#a04a98" stroke-width="1.1"/><path d="M69.5 490h0m91.4 0.6h0m-38 72.3h0m42-117.3h0m-45.3 110h0m-22.8-89h0m48.9-0.7h0m-24 93h0m3.7-95h0m-34.4 68.8h0m-15.8-4.9h0m64.6 20.1h0m4.1-17.7h0m1.9-76.2h0m6.9 48h0m-19.2-29.1h0m-32.6 75.6h0m31.8-71h0m-75.1 7.7h0m22.4 35.4h0m-18.3-35h0m38.9 55.3h0m56.7-59.2h0m-111.6 7.8h0m32-14.2h0m66.2-13.1h0m-65.3 57.4h0m-14.5-31.9h0m83.6-11.5h0m-65.6-7.2h0m64.3 104h0m-71.6-59.6h0m-9.9-1.8h0m84.6-20.8h0m2.9-27.9h0m2.7-11.7h0m-7.2 23h0m-75.9-6h0m88-14.5h0m-59.4 93.7h0m-25.5-70.5h0m64.2 63.3h0m-4.6 26.8h0m-75.8-75.8h0m95.8-42h0m-107.3 31.2h0m18.4 24.4h0m42.4-42.3h0m-33.6 27.1h0m32.4-27.3h0m38.7 102.5h0m-36.5-13h0m-20.9-20.4h0m25.8-67.4h0m35.8 17.1h0m-69.1-6.1h0m-17.2 13.9h0m41.1-26.3h0m36 97.7h0m-15.8-88.3h0m-39.6 63.4h0m56.1-68.9h0m-0.2 82.8h0m-74.8-31.6h0m20-51.6h0m27.4 81.7h0m-47.4-50.7h0m56.8-34.2h0m-59.8 27h0m66.1 76h0m28.6-75h0m-78 33.7h0m65.2 56.8h0m-32.8-32.2h0m49.3-81h0m-25-11.4h0m-76.5 21.2h0m72.5 68.1h0m-29.1-72.2h0m43.3 48.4h0m-76.7-7.8h0" stroke="#a04a98" stroke-width="1.5"/><path d="M160.6 503.8h0m-51.2-38.1h0m-40.8 26.7h0m38.5-24.9h0m-33.4 44.9h0m-20.6-76.2h0m52.5 28.9h0m-27.1 22.1h0m-21-7.3h0m98.9-9h0m-82 45.1h0m-1.7-30.4h0m9.1 37.9h0m-21.7-39.3h0m14.4 40.4h0m-10.1-26.8h0m83.4-37.1h0m-11.7 100.5h0m-69.9-60.1h0m78.1 49.9h0m-22.7-94.4h0m-34 20.5h0m-23 15.9h0m35.9-21.8h0m51.4 16.7h0m-21.3 65.4h0m-30.7-5.7h0m50.3-34.8h0m-46.4-42.7h0m-48.3 12.7h0m91.9-23.3h0m11.4 16.1h0m-34.9-27.4h0m-66.9 30h0m10.8 28.5h0" stroke="#a04a98" stroke-width="2.0"/><path d="M108.5 458.9h0m-11 88.5h0m-30.3-51.3h0m76.1 43.2h0m-55.3-70.3h0m55.4-6.2h0m-0.2 29.5h0m-54.3-27.4h0m48 87.3h0m-56.2-80.9h0m60.6 96.4h0m-49.4-97.5h0m12.1-8.9h0m-13.4 80.2h0m-22.4-41.7h0" stroke="#c8f080" stroke-width="1.1"/><path d="M103.4 464.8h0m16.7 9.2h0m-4.6 81.7h0m14.6 0.9h0m-40.9-82.2h0m52.8 12.6h0m-19.9 73.1h0m17.1 14.8h0m24.6-84h0m-2.6-19.6h0m-86.9 19.1h0m64.1 72.9h0m-62-46.7h0m78.4-44.6h0m-93.7 39.1h0m64.7-52.2h0m4-0.8h0m9.3 77.8h0m-54.5-5.1h0m-25.7-51.5h0" stroke="#c8f080" stroke-width="1.5"/><path d="M136.9 581.9h0m-31.3-112.9h0m29.7 94.6h0m-44.5-20.6h0m12.4-85.5h0m-46.2 41.8h0m5 9.9h0m34.1 25.2h0m-47.6-60.9h0m87.1 89.6h0m-64.9-79.5h0m26.4-26h0m17.3 98.5h0m2-95.3h0m12.8 105.6h0" stroke="#c8f080" stroke-width="2.0"/></g>
<g stroke-linecap="round" fill="none" filter="url(#bl1)"><path d="M79.2 500.4h0m6.1 21.6h0m2.5-5.5h0m13-18.4h0m-11.7 10.3h0m-13.2-10.7h0m6.8 18.2h0m2.7-4.7h0m-8-21.5h0m12.7-7.5h0m0.5 43.4h0m-2-10.1h0m-1.6 8.6h0m-1.2-20.8h0m8.5 24.1h0m-7.6-8h0m-7.6-8.9h0m5-16.6h0m16 33.6h0m-13.6-43.7h0m-1.8 14.8h0m7 17.2h0m-11.1-16h0m1.7 4.1h0m5.6 14.1h0m-7.6-17h0m-2.6 10.6h0m18.3 8.4h0m-18.9-25h0m-2.6 6.4h0m23.5-24h0m-6.7 14h0" stroke="#40e0d0" stroke-width="1.1"/><path d="M100.3 531.8h0m-7.9-41h0m-6.8 12.8h0m4.7 21.4h0m9.8-47.6h0m-18 17.6h0m4.5 14h0m9.7 19h0m0.3-5.1h0m-6-44.7h0m4.5 44.7h0m6 5.6h0m-4.1-45h0m3.8 42h0m-23.5-29.2h0m13.6 29.1h0" stroke="#40e0d0" stroke-width="1.5"/><path d="M75 502.8h0m0.5-3.3h0m8.8-6h0m0.8-10.6h0m-4.4 14.5h0m2.5-8.2h0m-6.2 1.1h0m8.8 16.2h0m-12.9 0.1h0m6.1-5.1h0m19.4 25.5h0m-8.4-10.5h0" stroke="#40e0d0" stroke-width="2.0"/><path d="M98.2 476.6h0m-11.5 46h0m11.6 7.9h0m-18.2-30.3h0m0.4-1h0m2.2 15.4h0m4.3 5.8h0m6-4.8h0m-14-0.9h0m1-15.4h0m1.4-9.3h0m19.4 3.4h0m-2.5 38.3h0m-7.7-8.5h0m4.8-3.1h0m-9.2-5.4h0m-4.1-15.8h0m6.3 16.1h0m-2.4-15.2h0m-8.9-6.3h0m13.3 22.8h0m7.6 7.4h0m-21.4-21.8h0m12.5 5.5h0m2 8.3h0m-5.4-6h0m8.7 8.9h0m-0.4 11.1h0m-11.6-24.5h0m0.5 11.4h0m-5.1-15.6h0m-0.5 0.5h0m8.9-18.6h0m1.1 27.4h0m-10.6-18.9h0m14.9 33h0m-7.5-8.7h0" stroke="#a0f060" stroke-width="1.1"/><path d="M84.1 513h0m-9.3-10.6h0m-2.4-2.5h0m12.2 8.9h0m-2.9 7.8h0m4.7 0h0m-5-15.9h0m7.7 22.6h0m7.7-47.5h0m-13.2 13.9h0m-5 5.3h0m5.9 23.1h0m-7.8-24.3h0m11.1 28.6h0m10.5 6.1h0m1.1 3.4h0m-20.4-39.2h0m2.3 18.4h0m14.4 19.9h0m-11.9-15.9h0m12.2-38.5h0m-15 32.8h0m3.9 3.8h0" stroke="#a0f060" stroke-width="1.5"/><path d="M90.4 506h0m-10.7 2h0m17.1 11.6h0m-15.3-34.8h0m-1.1 13.1h0" stroke="#a0f060" stroke-width="2.0"/><path d="M81.4 510.2h0m-5-4.1h0m5.5-3.7h0m1.1 13.8h0m-4.4-20h0m12.3 23.7h0m-14.3-19.6h0m22.3 18h0m-10.8-3.8h0m5.2 4.6h0m-7 4.9h0m3-20.5h0m-7.3 9.4h0m4.4-1.3h0m11.5 23.4h0m-1.9-12.5h0m-15.3-13.6h0m9.1 7.1h0m9.9 17.8h0m-13.1-22.8h0m2.1-5.6h0m11.1 18h0" stroke="#e0ffc0" stroke-width="1.1"/><path d="M79.3 514.4h0m5-7.9h0m-6.2-9.9h0m1.3 1.6h0m-3.4-5.5h0m4.4-4.2h0m4.2 30.2h0m15.3 17.9h0m-16.4-43.6h0m-3.9 2.7h0" stroke="#e0ffc0" stroke-width="1.5"/><path d="M87 506.1h0m11.5 18.6h0m-12.2-1.7h0m10.6 0.5h0m-13.6-32.1h0" stroke="#e0ffc0" stroke-width="2.0"/><path d="M86.9 524.9h0m14.1 8.6h0m-27-33.9h0m3.5-1.8h0" stroke="#e458d4" stroke-width="1.1"/><path d="M97.6 521.6h0m-2.6 7.6h0m-13.8-26.4h0m20.8 28.4h0m-3.6-5.7h0m-24.8-22h0m8.7-18.2h0m6.5 9.2h0m-6.8-4.4h0m1.5 18.7h0" stroke="#e458d4" stroke-width="1.5"/><path d="M84.4 482.6h0" stroke="#e458d4" stroke-width="2.0"/><path d="M99.3 526h0m-19.9-15.9h0m6.3-7.4h0m-4.2 1.3h0m-2.3-0.6h0m-1-12.9h0m5.7 27.9h0m11-0.7h0m-0.9-11.9h0m-6.1 17.5h0m-6.9-15.7h0m-8.5-4h0m28.3 25.7h0m-14.4-32h0m-4.5 5.6h0m0.6 11h0" stroke="#20a0a0" stroke-width="1.1"/><path d="M74.5 494h0m18.1 36h0m-13.2-17.5h0m13.3 9h0m-13.1-27h0m12.1 30.4h0m-15.7-22h0m1.5-9.5h0m18.5 39h0m-21.7-26.2h0m4.5-8.7h0m13.2 24.3h0" stroke="#20a0a0" stroke-width="1.5"/><path d="M82.1 506.1h0m5.1 14.6h0m-1.9-13.5h0m3.1 6h0m2.3-6h0m8.8 22.3h0m-20-22.4h0m14.6 14.6h0m-2.4-5h0m-2.3 2.9h0" stroke="#20a0a0" stroke-width="2.0"/></g>
<g stroke-linecap="round" fill="none" filter="url(#bl1)"><path d="M103.7 532.1h0m29.5-39.6h0m4.1-1.8h0m-7.7 13.2h0m-26.8-27.1h0m30.7 56.4h0m-18.5-2h0m6.3 19.4h0m-15.1-58.3h0m0.4 41.4h0m29.5 3.7h0m-21.6-0.6h0m3.6 9.8h0m5.1-64.2h0m-10.5-6.1h0m4.6 60.4h0m13.2 7.6h0m-20.8-0.7h0m2.9-8.3h0m-1.5 7.8h0m14.1-17h0m3-22.4h0m3.1-19.9h0m-19.6 3h0m23.4 22.8h0m-0.1-11.6h0" stroke="#40e0d0" stroke-width="1.1"/><path d="M117.2 545.5h0m-9.2-62.5h0m-0.6 56.8h0m15.1-2.2h0m17.9-25.1h0m-15.2-12.4h0m-5.5 40.9h0m-16.6-7h0m24.6-52.2h0m7.3 53.5h0m-22.6 2.5h0m-8.7-4.7h0m31.7-45.3h0m-31.8 51.9h0" stroke="#40e0d0" stroke-width="1.5"/><path d="M126.9 529.8h0m8.5-39.1h0m-15.1 3.9h0m-2 49.6h0m9.4-35.4h0m-20.5 24.2h0m34.3-18.3h0m-34.3 19.1h0m34.2-22.5h0m-9.6-21.5h0m6.1 23.7h0" stroke="#40e0d0" stroke-width="2.0"/><path d="M114.1 538.3h0m24.9-9h0m-34.5 4.6h0m4.6-55.9h0m19.6 60.3h0m-18.4 4.1h0m-0.6-11.4h0m5.1-53h0m1.1-0.3h0m-4.9 8.7h0m21.5 2.2h0m-24.8 44.2h0m6.8-0.8h0m-7.9 6.1h0m33.8-24.3h0m-32.1 15.5h0m12.9 1.8h0m-15.1 7h0" stroke="#e458d4" stroke-width="1.1"/><path d="M136.3 531.4h0m-22.2 12.5h0m12.6 4.7h0m-9-72.5h0m24.3 24.6h0m-12.4 8.7h0m-3.8 13.2h0m3.9-22.1h0m4.2 17.5h0m-29.3 16.6h0m21.6 15.3h0m-23.8-16.9h0m28.7-29.4h0m-26.3 32.5h0m20.6-55.9h0m-6.3 57.8h0m4.8 4.8h0m-13.9 2.2h0m16.8-54.4h0m-14.1 45.9h0" stroke="#e458d4" stroke-width="1.5"/><path d="M133.4 519.3h0m3.1-21.8h0m-27.7 37.9h0m17.1-8.6h0" stroke="#e458d4" stroke-width="2.0"/><path d="M133.2 544.2h0m-23.3-10.4h0m10.8 8.4h0m14.9-42.8h0m-27-18.3h0m5.5 8h0m-1.7 46.7h0m-9.5-9.6h0m1 0.9h0m33.7-25.7h0m-33 28.7h0" stroke="#f0a0e0" stroke-width="1.1"/><path d="M133.4 496.1h0m-6.3 47h0m13.1-24h0m-34.1-41.4h0m10.7 68.4h0m-6.8-68.5h0m25.4 33h0m-12.7 15.4h0m2.7-48.1h0" stroke="#f0a0e0" stroke-width="1.5"/><path d="M107.6 540.1h0m-1.2-6.2h0m9 4.1h0m-2.6 2.9h0m-3.8-53.2h0m-2.4-7h0m9.5 60.9h0" stroke="#f0a0e0" stroke-width="2.0"/><path d="M137.6 531.7h0m-15.2 17h0m-19-12.5h0m1.4-58.3h0m35 44.3h0m-27.3 16.7h0m-3.6-57h0m30.9 36.2h0m-30.8 20h0m20.8 5.9h0m-27.5-63.4h0m2.1 57.9h0m13.8-55.2h0m-14.3 48.1h0m0.8 1.3h0m19.1-33.8h0m-17.8 34.2h0" stroke="#a04a98" stroke-width="1.1"/><path d="M139.6 499.7h0m-34 40.5h0m23.8-9.7h0m-16 1h0m-2.5 0h0m16.4-48.8h0m-25 44.3h0m30.1-31.6h0m-17.2 47.5h0m15.7-17.7h0m-19.7 6.5h0m-7.2-56.4h0m1.1 58.5h0" stroke="#a04a98" stroke-width="1.5"/><path d="M134 493.8h0m-26.1 40.4h0m17.2 4.3h0m-2.2-7.4h0" stroke="#a04a98" stroke-width="2.0"/><path d="M110 481.7h0m21.3 52.5h0m-23.7 7.1h0m-2.5-5.2h0m-1.1-5.2h0m5.2 8.9h0m-6.5-9.2h0m0.9-2.6h0m-0.6-47.7h0m37.6 18.7h0m-36.3 31.9h0m23.3-45.8h0" stroke="#ffffff" stroke-width="1.1"/><path d="M135.6 511.8h0m1 22.6h0m-9.8 2.4h0m-15.2 7.6h0" stroke="#ffffff" stroke-width="1.5"/><path d="M111.6 542.5h0" stroke="#ffffff" stroke-width="2.0"/></g>
<use href="#s2o" transform="translate(40 435)" fill="none" stroke="#f4f4f4" stroke-width="1.15" stroke-linecap="round" stroke-dasharray="0.01 2.1"/>
<use href="#s2r" transform="translate(40 435)" fill="none" stroke="#e3262b" stroke-width="1.05" stroke-dasharray="3.2 1.9"/>
<use href="#s2b" transform="translate(40 435)" fill="none" stroke="#2f7ddb" stroke-width="1.05" stroke-dasharray="3.2 1.9"/>
<rect x="120.4" y="488.6" width="40.0" height="11.5" fill="none" stroke="#e6e6e6" stroke-width="0.95"/>
</g>
<clipPath id="cp1_436"><rect x="171" y="436" width="128" height="155"/></clipPath>
<g clip-path="url(#cp1_436)">
<g transform="translate(170 435)" clip-path="url(#cc2)"><g filter="url(#bl3)" fill="none" stroke="#fff" stroke-linecap="round"><use href="#s2c" fill="#fff" fill-opacity="0.03" stroke="none"/><path d="M29 57L28 64L29 71L32 79L37 86L43 93L51 101L57 106L63 111L73 117L84 120.5L92 119" stroke-width="8" stroke-opacity="0.04"/><path d="M38 62L42 72L47 81L52.5 88L59.5 94.5L67 99.5" stroke-width="6" stroke-opacity="0.22"/><ellipse cx="70" cy="32" rx="34" ry="9" fill="#fff" fill-opacity="0.03" stroke="none"/><ellipse cx="15" cy="47" rx="12" ry="7" fill="#fff" fill-opacity="0.03" stroke="none"/></g></g>
<g filter="url(#bl2)"><use href="#s2b" transform="translate(170 435)" fill="#000000" fill-opacity="0.8"/></g>
<g stroke-linecap="round" fill="none" filter="url(#bl1)"><path d="M220.4 515.5h0m55.8-26h0m-53.4-4.5h0m18.1-28h0m-46.4 60h0m24.7-19.8h0m-12.3 15.1h0m10-26.4h0m-3.3 12.1h0m13.8 27.8h0m-15.6-9.9h0m40-27.9h0m12.2 41.1h0m-64.1-38.5h0m19.6-3.3h0m-14.9 4.2h0m11.6 32.8h0m25.1-47.3h0m-39.2 14.7h0m52.9 39.4h0m11.9-78h0m-20.6 101.5h0" stroke="#ffffff" stroke-width="1.0"/><path d="M259.2 512.9h0m-41.8-27.8h0m-12.4 13.4h0m18.3-16h0m53-25.5h0m-47.7 74.5h0m45-28.4h0m-68.8-14.3h0m28 37.1h0m52.5-16.9h0m-79-17.7h0m7.6 31.7h0m11.8 6.5h0" stroke="#ffffff" stroke-width="1.5"/><path d="M251.7 528.9h0m-21.5 7.8h0m-30.4-22.2h0m28.4-31.9h0m-14.2 7.3h0m28.8 31.7h0m-31.6-23.6h0m25.1 36h0" stroke="#ffffff" stroke-width="2.1"/><path d="M212.3 503h0m26.8 34.3h0m10.9 19.5h0m-35.9-56.8h0m8.5 30.4h0m-18.2-31h0m81.1-50h0m-61.4 37h0m3.4 48.1h0m-9.6-21.5h0m12.8 34.7h0m-21-51.7h0m29.8 37.3h0m-45.1-26.4h0m24.2-21.2h0m-12.5 21.5h0m-0.5-15.7h0m0.2 10.8h0" stroke="#cfcfcf" stroke-width="1.0"/><path d="M221.7 479h0m36 78.5h0m0.3 8.6h0m-16.8-36.1h0m-46.7-44.6h0m80.9 79.2h0m-49.4-44.5h0m-15.3-15.2h0m-40.5-28h0m48.6 14.1h0m3.4 33.3h0m24.1 22.9h0m5.6 15.6h0m-48.2-17h0" stroke="#cfcfcf" stroke-width="1.5"/><path d="M246.5 557.9h0m-10-22.1h0m-16-10.7h0m-2.7-14.8h0m-25.2 13.1h0m15.1-16.3h0m32.1 22.8h0m-24.4-6.7h0" stroke="#cfcfcf" stroke-width="2.1"/><path d="M222.3 526.8h0m-2.6 5.9h0m-0.1-7.8h0m-2.8-8.9h0m43.4 42h0m-43.7-37.5h0m7.6-42.3h0m-22.6 38.2h0m16.2-8.1h0m-6.5 6.1h0m21.8 14.2h0m-8.9-47.4h0m-1.2 49.4h0m3.4-57.8h0" stroke="#999999" stroke-width="1.0"/><path d="M216.9 513.8h0m1.8 0h0m5.2 1.9h0m10.8 22.8h0m-45.8-38.2h0m39.1 28.4h0m36.4-14.9h0m-53 14.7h0m13.5-7.9h0m-7.6 1.5h0m-3-3.3h0m16.1 15.8h0m-4.2-6.8h0m-1.2 6.1h0m42.2 20.6h0m-60.2-47.6h0m13.8-27.6h0" stroke="#999999" stroke-width="1.5"/><path d="M216.1 507.8h0m-0.2-18.3h0m8.9 32h0m62.4-54.6h0m-58.3 59.3h0m12 5.9h0m-14.3-48h0" stroke="#999999" stroke-width="2.1"/><path d="M200.1 512.4h0m34.6 16.8h0m-30.9-26.4h0m23.6 26.1h0m-23.1-20.3h0m18.3 18.6h0m56.8-10.2h0m-70-17.4h0m17.7-16.2h0m-14.4 15.3h0m-1.5 2.6h0m-0.9-9.4h0m-40.1 29.6h0m43.5-17h0m-12.2 5.2h0m59.7-12h0m-40.7-8.1h0m18.3 40.7h0m-19.4-43.8h0m-12.2 9.7h0m9.8-6.3h0m63 23.9h0" stroke="#666666" stroke-width="1.0"/><path d="M210.1 496.7h0m22.5 50.1h0m-29.3-39h0m14-5h0m-12.3-6.2h0m21.2 51.1h0m-6.3-24.6h0m-3.8-15.9h0m13.1 27.6h0m5.2 4.2h0m30.1 23.9h0m-51.1-44.8h0m-1.8-6.4h0m70-44h0m-58.1 49.2h0m-8.2-9.3h0m0.3 16.2h0m7.6-41.4h0m-4.3 43.5h0" stroke="#666666" stroke-width="1.5"/><path d="M213.6 506.2h0m35.8 24.1h0m5.4 31.7h0m-50.3-59.3h0m26.7-7.7h0m-11.5 34h0m-4.2-9.6h0m-42.8-32.2h0" stroke="#666666" stroke-width="2.1"/></g>
<use href="#s2o" transform="translate(170 435)" fill="none" stroke="#f4f4f4" stroke-width="1.15" stroke-linecap="round" stroke-dasharray="0.01 2.1"/>
<use href="#s2r" transform="translate(170 435)" fill="none" stroke="#e3262b" stroke-width="1.05" stroke-dasharray="3.2 1.9"/>
<use href="#s2b" transform="translate(170 435)" fill="none" stroke="#2f7ddb" stroke-width="1.05" stroke-dasharray="3.2 1.9"/>
<rect x="250.4" y="488.6" width="40.0" height="11.5" fill="none" stroke="#e6e6e6" stroke-width="0.95"/>
</g>
<clipPath id="cp2_436"><rect x="300" y="436" width="127" height="155"/></clipPath>
<g clip-path="url(#cp2_436)">
<g transform="translate(299 435)" clip-path="url(#cc2)"><g filter="url(#bl3)" fill="none" stroke="#fff" stroke-linecap="round"><use href="#s2c" fill="#fff" fill-opacity="0.07" stroke="none"/><path d="M29 57L28 64L29 71L32 79L37 86L43 93L51 101L57 106L63 111L73 117L84 120.5L92 119" stroke-width="8" stroke-opacity="0.3"/><path d="M38 62L42 72L47 81L52.5 88L59.5 94.5L67 99.5" stroke-width="6" stroke-opacity="0.3"/><ellipse cx="70" cy="32" rx="34" ry="9" fill="#fff" fill-opacity="0.14" stroke="none"/><ellipse cx="15" cy="47" rx="12" ry="7" fill="#fff" fill-opacity="0.12" stroke="none"/></g></g>
<g filter="url(#bl2)"><use href="#s2b" transform="translate(299 435)" fill="#000000" fill-opacity="0.7"/></g>
<g stroke-linecap="round" fill="none" filter="url(#bl1)"><path d="M345.9 536.7h0m-7.6-18.1h0m22.5 15.1h0m44.1-49.2h0m-67.5 37.6h0m56.1 27h0m-82-61.9h0m48.5 54.7h0m64-63.8h0m-47.3-14.9h0m-48.4 28h0m-21.5-16.3h0m107.6-23.8h0m-9.6 56.9h0m-70-5.1h0m-27.5-25h0m89.2 91h0m22.2-102.8h0m-26.7 87.1h0m-65.7-40.9h0m62.5 42.7h0m1.6-104.4h0m-53.5 69.7h0m15.7-44.9h0m-7.6 51.9h0m-13.8-21.6h0m59.6 49.5h0m16.5 17.3h0m-61.1-58.5h0m9.7 5h0m37.8 54.6h0m-69.3-61.8h0m12.4 0.3h0m57.5-48.8h0m-3.6 83.9h0m17.9-39.6h0m-34.8 30.4h0m-42.2-58.7h0m2.3 44.8h0m-28.1-44.6h0m54.8-14h0m-17.2 63.1h0m24.5-60.4h0m38.3 52.7h0m-45.3 4.8h0m-53.2-53.6h0m53.4-0.8h0m-5.8-2.7h0m-55.2 21.4h0m12.5-14h0m-1.6 7h0m89.1 72.8h0m-3.6-53.8h0" stroke="#ffffff" stroke-width="0.9"/><path d="M313 477.3h0m80.7 92.8h0m-35.6-45.3h0m-28.8-10h0m-0.5-7.5h0m47.7-40.6h0m-64.8 24.3h0m-4.2-18.1h0m84.9 74.8h0m-2 11.5h0m-23.5-101.3h0m-51.3 21h0m-5.2-0.7h0m90.6 86.4h0m-51.8-94.8h0m2.5 46h0m3.2 29.1h0m19.9 8.1h0m-48.6-51.6h0m98.4-24.3h0m-74.4 60.3h0m42.7 15.5h0m-74.1-42.9h0m33.3 8.8h0m43.4 38.4h0m20.7-105.2h0m-15.5 27.5h0m-87.1 15.6h0m47.6 42.2h0m-45.9-79.4h0m16.4 61.1h0m24.9 22.4h0m16.6-88.1h0m-32.2 52.9h0m78.7-47.6h0m1-4.1h0m-116.7 20.8h0m120.6-3.7h0m-56.9 78.3h0m-14.6-29.9h0m-24.6-19.4h0m58.1-52h0m-42.4 78.6h0m-7.3-27.8h0m41.1-51h0m-39.6 75.4h0m30.2 22.5h0m52-73.5h0m-117.3 19.9h0" stroke="#ffffff" stroke-width="1.3"/><path d="M341 527.7h0m-1.3-33.7h0m65.3 4.7h0m-95.6-21.2h0m72.2-2.3h0m-59.9 26h0m86.6-14.7h0m-19-12.2h0m-23.1-22.2h0m-15.7 65h0m-30.8-27.6h0m45.6 58.2h0m-38.2-48h0m92.6-38.7h0m-99.3 45.5h0m19.8-39.4h0m45.7-1.5h0m-19.1 67.1h0m-3.2-60.4h0m-14.7 32.3h0m-4.5 30.4h0m55.3-55.9h0m-56.7 38.1h0m47.2 50.3h0m-86.8-93h0m6.4-2.5h0m72.4-16.9h0" stroke="#ffffff" stroke-width="1.8"/><path d="M346.3 474h0m47.4 0.7h0m13.6-18.7h0m-64.8 25.6h0m53.7-11.7h0m-57 20.7h0m58.3-23.7h0m-31.7 69.6h0m16.9 18h0m40.8-69.6h0m-76.6 44.7h0m-18.9-35.6h0m90.6-33.6h0m-83.2 49.5h0m52 45.5h0m-21.6-90.2h0m17.7 6.7h0m1.2 85h0m-64-47.5h0m16.2 0.9h0m66.5 41.6h0m-45.2-95.2h0m-5.5 84.5h0m-36.5-49.7h0m40.3 28.9h0m-11.4-12.7h0m3.6 27.9h0m-15-16.4h0m60.2 43.5h0m-5.7-85.8h0m-53.2 13.4h0m6.1 22.3h0m-8.6-27.2h0m15.8 49h0m46.8 20h0m-55.8-61.4h0m40.2 0.3h0m13.6 80.3h0m-12.9-118.7h0m-11.1 18.5h0m-47.6 82.7h0m82.2-80.2h0m-15.5 94.4h0m-59.1-48.7h0m15.4 11.2h0m44-81.5h0m-51.5 29.9h0m35.7 51.3h0m-13.6-3.5h0m-30.6-36.7h0m62.9 3.3h0m-43.5 34.7h0m-27.3-32.6h0m61.9-29.1h0m-27.5 64.4h0m-8.9-38.3h0m-18.7-8.5h0m18.7 4.3h0m-4.3 25.8h0m-8.5-5.8h0m51.2-62.7h0m-12.9 15.4h0m10.5 95.1h0m-43.7-56h0m9.1 24h0m-22.7-56.7h0m40.5 74.8h0m48.9-39.4h0m-44.6-43.5h0m-21.8 51.1h0m31.3 23.7h0m-48.8-42.4h0m31.1 54h0m-8.8-86.4h0m38.6 63h0m-1.7-70.9h0m-42.4 18.6h0m10.4 53h0m27.5-76h0m-56.3 71.1h0m10.6-46.5h0m84.7 15.5h0m-50.4 68.6h0m-12.1-22.5h0m38.4 15.1h0m1.3-82.3h0m-20.2-1.4h0m-47.9 53.4h0m3.8-0.6h0m-16.1-6.7h0m25.7 15.9h0m13.7-0.3h0m18.6 22.1h0m6.2 9.2h0m-50.9-64.3h0m41.4 39.4h0m12.5-58.1h0m-49.6 43.8h0m-13.7-24.7h0m35.8-39.3h0m17.2 100.9h0m-28.7-43.3h0m-21.6-2.4h0m87.8-16.5h0m-65.6 28.6h0m18.2-61.4h0m-35.5 26.1h0m66.7 33.7h0m-32.6 13.4h0m45.7-72h0m-64.5 68.7h0m-19.7-13.7h0m75 39.8h0m-33.3-23.6h0m0.5-77.6h0m-33.2 37.6h0m10.6 18h0m-20.4-7.4h0m58.9-33.3h0m-10.5 77.3h0m-30.7-74.6h0m-38.8 17.9h0m120.8 6.8h0m-57 51.3h0m-23.4-33h0" stroke="#cfcfcf" stroke-width="0.9"/><path d="M380.3 460.9h0m-39.5 64.7h0m-5.4-11.6h0m23.6 25.9h0m5.9 5.2h0m6.6 2.2h0m-36-74.8h0m6.9-3.5h0m52.4 97.3h0m-5 4h0m-38.9-38.8h0m16.8-67.9h0m-2.6 74.1h0m51-41.6h0m-46.7 51.7h0m36.7-57.8h0m-9.7-34.1h0m-61.7 49h0m7.9 1.4h0m2.5 13.9h0m16.5-48.7h0m20.4 83.7h0m-54.1-35.7h0m36.9 13.5h0m-26.7-61.7h0m-17.9 36h0m15.4 14.2h0m-5.2-5.6h0m13.9-44.7h0m16.5-15.9h0m33.8 84.2h0m-43 3.1h0m-30.8-40.4h0m28.2 27.2h0m-0.8 9.8h0m23.6-88.7h0m-21.7 91.7h0m-13.4-31.1h0m18.9 31.1h0m30.9 11.2h0m-52.6-73.7h0m19.8-4h0m44.1-4.2h0m-59.1-4.3h0m37.5 85.6h0m-46.8-33h0m41.2 33.4h0m19.1 7h0m-21.5-96.5h0m-6.2 76.1h0m29.4-72h0m-67.8 45.6h0m59.6 49.7h0m7.1-94.1h0m-63.3 18.6h0m52 69.8h0m17-9.6h0m9.6-23.8h0m-66.8-51.2h0m-16.2 30.3h0m47.9-30.4h0m9.9-26h0m-22.4 22.4h0m-2.9 61.1h0m51.5-9.4h0m-49.7 5.6h0m-15.7-17.2h0m14.2 23.8h0m-3.4 13h0m44.4 2.2h0m-16.4-93.5h0m1.7 3.2h0m-48.7 64.4h0m36 26.1h0m-2.4-2h0m38.5 34.9h0m-61-51.8h0m15.1 10.9h0m15.6 8.3h0m-1.4 7.3h0m-47.6-41.8h0m41.5-48h0m-38.1 22.6h0m3.2 27.4h0m67.1 63.9h0m1-24.8h0m-20.7-1.1h0" stroke="#cfcfcf" stroke-width="1.3"/><path d="M373.4 471.7h0m26.7 78.6h0m-65.9-23.9h0m89.5-24.2h0m-28.9 70.1h0m5.5-104.7h0m-27.1 82.2h0m-60.8-67.1h0m15.8 3.6h0m19.5 14.7h0m37.9 50.9h0m22.8-34h0m-11.3 36.4h0m-13.2-1.8h0m-60.6-56.3h0m66.2-31.4h0m-51.6 2.3h0m33.9-5.5h0m-67.6 15.3h0m52.8 51h0m29.9 33.7h0m-39.8-29.8h0m-21.4-47.5h0m0.9-12.6h0m15.8-0.8h0m51.7-1.7h0m-17 87.6h0m-16.3-83.7h0m-19 38.7h0" stroke="#cfcfcf" stroke-width="1.8"/><path d="M344.2 519.5h0m48 36.5h0m12 14.5h0m-31.9-19.4h0m-39.7-45h0m46.3 50.4h0m-29.5-39.4h0m39.2-53.2h0m-25.8 1.7h0m-27 59.9h0m79.6-59.5h0m-69.8 2.9h0m-44.3 6.6h0m37.7 54.1h0m-21.6-46.3h0m43.6 51.5h0m-22.2-3.4h0m-3.2-12.3h0m-6.3-0.4h0m11.2 3h0m10.4-12.3h0m13.2 25.3h0m-20.8-34.8h0m36.2 62.7h0m-10-109.6h0m22.1 23.6h0m13.9 8.9h0m-42.9 57.6h0m-43.7-40.1h0m70.3-32.8h0m-16.8 70.3h0m-25.1-3.4h0m72.1-51.2h0m-107.2-4.3h0m8.9 4.6h0m62.9 67.8h0m-80.9-76.8h0m48.1 64.7h0m-25.2-63.9h0m54.7 76.3h0m-61-46.6h0m39.7 38.9h0m-59.4-62.1h0m29 14.3h0m78.1-21.7h0m-20.6 79.6h0m-79.6-85.4h0m40.7 7.2h0m6.9 48.3h0m35 22.7h0m-78.5-64.9h0m60.2 56.1h0m27.1 5.4h0m-66.1-77.4h0m-0.1 45.4h0m14.6 5.8h0m-20.3-34.2h0m43-19.5h0m44.5 18.9h0m-66.8-19.7h0m61.4 51.8h0m-91.8-21.7h0m77.9 61.8h0m-76.3-64.5h0m41-20.6h0m-16.9 24.4h0m46 53.9h0m15-92.9h0m-37.5 77.6h0m25.2-14.3h0m22.6-56h0m-70.6 39.2h0m68.1-8.9h0m-71.9 12.2h0m48.4-24.9h0m6.4-5.3h0m-78.2 15.9h0m59.1-31.9h0m25.8-4.8h0m-44.2 74.5h0m40.2 48.9h0m-68.4-74.6h0m37.6 39.7h0m26.5-89.8h0m-78.7 18.7h0m105.8-20.8h0m-6.6-5.3h0m0.6 16.6h0m-64.5 0.2h0m-30.6 34.4h0m14.3-30h0m39.5 86.4h0m-2.2-4h0m-17.4-6.1h0m-27-41.4h0m80.1 12.1h0m-39.6 23.5h0m-26.6-52.4h0m1.6-14.5h0m0.6 23.1h0m36.7 62.6h0m-8.8-89.8h0m25.7 29.6h0m1.6-20.6h0m20.6 9.7h0m-49.7-31.6h0m31.6 105.9h0m-39.6-36h0m28.7 31.2h0m-62.3-79.8h0m-3.8 18.3h0m5.7 20h0m37.9 15.8h0m3.2 9.6h0m37.3-36.9h0m-80-0.6h0m11.6-10.2h0m12.1 39.9h0m-5.2-48.6h0m14.1 39.7h0m56.8-57.6h0m-88 46.7h0m65.8 64.7h0m28.3-100h0m-39.9 86.7h0m-11.2-15.7h0m6.7-89.5h0m-14.2 9.4h0m-2.1 58.8h0m-10.6-4.6h0m-6.3 10.9h0m23.5-61h0m-38.9 15.7h0m26.9 36.6h0m-11.7-50.5h0m-40 4.6h0m79.9-12.8h0m-50.9 21.8h0m64.9-19.2h0m-63 22.4h0m27.4-6.9h0m8.7 1.6h0m-7.4 45.3h0" stroke="#999999" stroke-width="0.9"/><path d="M336 507h0m-1.7-12.4h0m15.8 25.5h0m12.7-41h0m58.8 3.8h0m-53 21h0m-12.9 33.1h0m39.9 11.8h0m-35.2-23.4h0m8.6-59.9h0m-18.6 53.9h0m53.7 44.8h0m-17.9-4.4h0m-67.5-77.1h0m28.6 51h0m77.2-52.2h0m-105.4-0.8h0m39.7 50.7h0m56.9-71.8h0m-69.7 76.2h0m2.8-2h0m29.2 21.9h0m0.9-96.1h0m34.4 26.2h0m-16.5 5.9h0m-50.5 45.2h0m48.9-63.5h0m-56.3 2.4h0m20.2 57.8h0m32.3 19.4h0m-5.6 4.2h0m-33.2-15.3h0m46.2-77.8h0m11.7 47.4h0m11.6-57.1h0m-20.5 94.5h0m-20.7-82.2h0m-64.6 11.8h0m94.7-27.9h0m-64.8 75h0m0.8-9.8h0m31.2-23.1h0m26.8 67.4h0m-6.9-20.1h0m-51-4.8h0m-23.6-73.3h0m13.2 63.5h0m60.3-66.1h0m-68.4 10.2h0m28.7 2h0m-1.8 71.6h0m8-1h0m16.1 18h0m-12.7-88.6h0m-23.7 50.2h0m-17.4-32.9h0m36.1-17.6h0m-46.1 20.3h0m26.7 31.5h0m62 39.2h0m-78-57.1h0m-14.2-33.9h0m78.6 78.4h0m-59.1-31.1h0m74.6-52.1h0m-13.3-13.6h0m-87.5 29.1h0m34.5 40.9h0m-1-0.6h0m54.7 29.6h0m-51.5-36h0m18.4 16.7h0m-1-65h0m45.5 95.2h0m-35-31.6h0m1.1 18.2h0m-38.3-62.2h0m60-11h0m-51.2-6.2h0m62.3-8.6h0m-23.8-11.4h0m-30.4 19.3h0m25.8-1.6h0m-13.1 79h0m-27.1-53.8h0m60.5-26.8h0m-57.8 11.3h0m45.5 78h0m-26.4-13.5h0m-19.4-16.6h0m52.4 24.9h0m-26.7-21h0m-12.1 15.5h0m31.4 7.9h0m-12.8-6.4h0m-45.6-37.5h0m12.2-10.9h0m-4.7-10h0m30.8 42.1h0m-43.8-43.9h0m-7.6-2h0m50.5 55.7h0m-6.9 7.9h0m16.4-16.7h0m-5.4 1.2h0m-24-58.4h0m-7.8 48.3h0m35.8 27.6h0m-18.4-14h0m13.6-1.6h0m-27.5-19.6h0m24.6-51h0m25.7 8.9h0m19.2 35h0m-29 43.1h0m27.4-36h0m-65.3-5.1h0m43.4 50h0m-36.6-44.8h0m-4.4-21.8h0m50.8 79.2h0" stroke="#999999" stroke-width="1.3"/><path d="M401.9 524.4h0m-67.3-20.4h0m-29.5-32.7h0m22.5 17.4h0m26.4-24.3h0m30.1 100.6h0m-46.7-61.3h0m68.3 67.8h0m-14.4-20.2h0m-63.4-63.9h0m63 71h0m3.7-102.9h0m-41 69.4h0m-7.9-11.8h0m14.6-54h0m42.3 42.2h0m-57.8-22.3h0m-2.2 55.7h0m18.9-77.6h0m-18 49.6h0m44.3-28h0m-23.3-12.1h0m6.1 66.2h0m-40.2-38.4h0m-9.5 16h0m64.4-52.4h0m-31.9 66.2h0m-26.9-25h0m68.3 46.8h0m-37.7-20.7h0m-14.5 9.9h0m12.8-14.2h0m4-53.6h0m-3.1-0.8h0m-27.1 50.5h0m7.8-14h0m17.1-31.4h0m-37.2 9.4h0m0.2 15h0m-16.5-22.2h0m61.3 56.1h0m33.8-41.2h0m3.8-22.8h0m-77.4 10h0m26.3 55.1h0" stroke="#999999" stroke-width="1.8"/><path d="M358.3 531.8h0m1.2 2.1h0m63.1-66.3h0m-70.6 61.3h0m25.4 28.2h0m13-7.2h0m-39.3-15.1h0m-8-57.2h0m15.7-9.3h0m-22.6 58.5h0m51 27.6h0m-51-47.1h0m11.9 11.7h0m-8.8-19.8h0m43.6-35.1h0m-35.4 52.7h0m17.5 17h0m-14.5-65.7h0m-9 55.1h0m-27.1-40.7h0m34.5 2.1h0m19.2 63.1h0m-6.2-13.9h0m0.2-63.7h0m-40.7 44.4h0m4.1-9.8h0m8.4 13.5h0m14.5-4.6h0m-13.7 11h0m-20.3-32.1h0m73.6 62.9h0m0.9-87.6h0m-48.9 55.3h0m85.3-47.4h0m-32.9 20.1h0m-16.7 42.8h0m6.1 9.6h0m11.1 22.5h0m-64.1-99.1h0m95.6-6.6h0m-54.3 88h0m20-3.9h0m-25.8-83.6h0m25.2-14.3h0m-49.4 56.8h0m-4.5 9.9h0m-7 4.5h0m86.2-36.8h0m-95.3-2h0m80.4 42h0m-74.2-23.3h0m66.3 43.8h0m5.2 34.4h0m-28-29.8h0m48.5-73.2h0m-91.7 23.2h0m39.1-35.8h0m20.7 55.6h0m-5.7 16h0m-16.3-2.2h0m-15.8-14.4h0m2.1 10.4h0m35.1-62.6h0m-26.8 61.2h0m21.6-63.7h0m-54.6-16h0m27.3 73.4h0m-30.3-38.4h0m58 68.6h0m15 1.7h0m-46.9-17.2h0m36.5 26.6h0m1.8-5.9h0m-35.4-29.3h0m34.6 25.9h0m-60.3-35.4h0m43.6 15.3h0m-39.9-14.2h0m65.8 38.1h0m-49.1-50h0m-9.3 13.7h0m-3.1-38h0m21.7 54.1h0m55.4-35.3h0m13.2-27.8h0m-16.5 25.6h0m-39.9 47.4h0m35.6 13.3h0m-74.2-58.5h0m20.7 24.2h0m54.1 20.1h0m-45.5-20.3h0m-34.8-17.9h0m74.9-45.6h0m11.3 9.3h0m-14.4-8.5h0m-37.5 79.7h0m30.6 25.3h0m3.3-100.7h0m-35.3 55.3h0m-26.8-8h0m-9.5-6.4h0m67.7 51.2h0m-18.9-8.8h0m-39.4-65.8h0m-3.1 24.5h0m0.3 3.2h0m43.8 40.2h0m27.2-3.3h0m-75.9-43.6h0m24.4-1.2h0m42.2 53.8h0m-17.4-50.2h0m-42-17.2h0m19 24.8h0m-8.5-6.2h0m-27-56.7h0m40.7 62.1h0m34.4 40.2h0m-36.5-87.8h0m7.2 72.9h0m0.3 1.7h0m3.7-10h0m-18.2-55h0m1.4 32.7h0m9.5 28.2h0m-10.6-15.5h0m43-71.7h0m-41.7 66.7h0m-2.9 8.4h0m-22.8-31.9h0m48.3-43h0m-33.3 72.9h0m1.4-21.2h0m31.2 28.9h0m41.1-21.3h0m-63.9-1.4h0m10 8.8h0m-54.6-30.5h0m122.6-22.8h0m-54.7 69h0m-18.9 5.2h0m-16.5-24.8h0m29.4-47.3h0m62.8 26.7h0m-99.3 25.7h0m25-53.6h0m10.9 46h0m-23.9 10.4h0m31.2-59h0m34.2 0.4h0m-33.3 81.3h0m8.8 5.4h0m-17.4-19.8h0m-34.7-17.1h0m0.2-13.9h0m57.7 54.5h0m-29.3-87h0m24.1 13.3h0m-24.8 59.8h0m-16.5-44.6h0m-13.1-13.8h0m5-9.4h0m86.2 31.6h0" stroke="#666666" stroke-width="0.9"/><path d="M365.9 546.8h0m25.6-73.1h0m-65.8 44.3h0m75.8 54.4h0m-46.7-42h0m-36-42.9h0m12.7 36.9h0m80-17.8h0m-6.9-42.2h0m-78.8 40.9h0m76.1 17.9h0m-9.1 42.4h0m-24.4-25.2h0m45.6-70.2h0m-78.6 32.1h0m-10.1 13.3h0m22 12.1h0m-20.1-24.4h0m42-45.4h0m-34.9 43.8h0m30.5 27.3h0m-28.2-7.1h0m16.5 15.3h0m-6-37.7h0m-41.1-14.2h0m56.3 60.6h0m49-52h0m3.5-14.8h0m-86 8.8h0m77.8-20.1h0m-61.4 66.1h0m-0.3-42.1h0m-37.2-21.6h0m-4.7 5.6h0m52.5 44.4h0m8.5-55.8h0m8.3 15.6h0m-65.5-8h0m88.7 73.9h0m25.7-90.9h0m-29.3 99.2h0m-13.5-78.8h0m34.4-0.7h0m-21.1 20.7h0m-70.6-6.1h0m63.4-27.8h0m30.4 14.5h0m-3.1 25.9h0m-68.6 25h0m75-59.2h0m-100.5 21.5h0m60.3-40.9h0m-35.4 25.6h0m20.2 57.7h0m-25.7-23.6h0m14.2 35.2h0m35 19.3h0m-29-87.4h0m47.1-14.4h0m-60.4 69.5h0m12.4-2.2h0m-12.6 1.8h0m-7-35.8h0m3.3 33.3h0m7.6-14.3h0m-9.2 5.5h0m16.1 19.6h0m12.9-8.9h0m10.1-56.6h0m14-19.2h0m-50.7 65.3h0m-17.9-15.9h0m0.3 10h0m61.8 39.2h0m24-47h0m-30.6 23.4h0m-30.1-20.1h0m-10-9.8h0m9.5-28.3h0m-16.7 54.7h0m22.9 4.8h0m53.6-37.4h0m-103.7-8.7h0m98.6-25.3h0m-61.3 69.4h0m28.3-54.2h0m28.4 17.3h0m-87 2.8h0m53.7 40.7h0m-42.4-38.3h0m20.1 28.8h0m41.7 30.4h0m17.5 24.4h0m-26.5-105.2h0m-2.5 77.1h0m-22.8-80.8h0m-1.4 62.4h0m50.8 9.2h0m8.8-51.6h0m-17.6 65.2h0m-46.6-62.1h0m16.3-21.6h0m16.1-22.8h0m-29.6 65.1h0m-6 3.5h0m86.9-75.7h0m-126.3 38h0m86.1 32.7h0" stroke="#666666" stroke-width="1.3"/><path d="M340.1 525.8h0m46.9 41.2h0m-47.5-44.3h0m21.5 24.1h0m-42-53.5h0m2-16.3h0m18.6 21.9h0m-18.4 5.8h0m33.2 31.4h0m-43.6-58.8h0m56.2 57.1h0m-43.1-61.8h0m47.3 78.3h0m-11.1-8.5h0m40.8-87.4h0m-3.4 7.9h0m-16.5 2.4h0m-17.4 1.7h0m16 91.3h0m-38.8-48.5h0m2.4-0.5h0m29.3-51.8h0m-18.3 87.4h0m44.5-81.5h0m-19.5 87.8h0m-23.3-89.3h0m64.8-2.9h0m-51.5 72.9h0m-46.6-45.1h0m53.2 66h0m-49.9-39.1h0m-2.8-36.6h0m-1.5 25.8h0m18.1 0.3h0m3.1 7.3h0m-24.8-13.7h0m25.7 18.1h0m-24.8-13.8h0m53.9 47.7h0m2.9-10.8h0m34.6-28.2h0m-51.3-44.8h0m-16.9 69.8h0m0.8-14.7h0m-5.9-36.6h0m-7.6 27.8h0m-2.4-0.1h0m74.5-19.1h0m-87.5-13.6h0" stroke="#666666" stroke-width="1.8"/></g>
<use href="#s2o" transform="translate(299 435)" fill="none" stroke="#f4f4f4" stroke-width="1.15" stroke-linecap="round" stroke-dasharray="0.01 2.1"/>
<use href="#s2r" transform="translate(299 435)" fill="none" stroke="#e3262b" stroke-width="1.05" stroke-dasharray="3.2 1.9"/>
<use href="#s2b" transform="translate(299 435)" fill="none" stroke="#2f7ddb" stroke-width="1.05" stroke-dasharray="3.2 1.9"/>
<rect x="379.4" y="488.6" width="40.0" height="11.5" fill="none" stroke="#e6e6e6" stroke-width="0.95"/>
</g>
<clipPath id="cp3_436"><rect x="428" y="436" width="128" height="155"/></clipPath>
<g clip-path="url(#cp3_436)">
<g transform="translate(427 435)" clip-path="url(#cc2)"><g filter="url(#bl3)" fill="none" stroke="#fff" stroke-linecap="round"><use href="#s2c" fill="#fff" fill-opacity="0.07" stroke="none"/><path d="M29 57L28 64L29 71L32 79L37 86L43 93L51 101L57 106L63 111L73 117L84 120.5L92 119" stroke-width="8" stroke-opacity="0.3"/><path d="M38 62L42 72L47 81L52.5 88L59.5 94.5L67 99.5" stroke-width="6" stroke-opacity="0.3"/><ellipse cx="70" cy="32" rx="34" ry="9" fill="#fff" fill-opacity="0.14" stroke="none"/><ellipse cx="15" cy="47" rx="12" ry="7" fill="#fff" fill-opacity="0.12" stroke="none"/></g></g>
<g filter="url(#bl2)"><use href="#s2b" transform="translate(427 435)" fill="#000000" fill-opacity="0.7"/></g>
<g stroke-linecap="round" fill="none" filter="url(#bl1)"><path d="M443.9 479.9h0m49.8 56h0m2.7-70.7h0m-37.6 3h0m-10-27.6h0m29.7 97.3h0m3.3-15.4h0m-38-48.6h0m27.2 60.4h0m60.3-13.1h0m-43.7-50.2h0m66.1 18.3h0m-76.4-14h0m61.6-2.2h0m-80.5 15h0m27.9 58.7h0m35.9-19h0m-35.8 8.9h0m-6.1-10h0m39.3 29.3h0m-23.6-25.3h0m-45.2-59.6h0m24.6 67.7h0m-23.7-55.2h0m30.5 64.1h0m-28.7-33h0m42.8 16.6h0m-3.8 16.8h0m-23.1-40.4h0m-19.3-31.4h0m72.4 80h0m-70.9-62.7h0m9.5 3.3h0m78.8-14.4h0m-85.7 5.8h0m75.3 19.3h0m-16.3 50.2h0m33.1-111.3h0m-33.7 21.2h0m-13.6 82.2h0m-43.8-60.5h0m46.5 43.1h0m-19.2-5.2h0m-2.9-9.1h0m22.8-50.9h0m2.4 63h0m9.8 34.4h0m-54.1-41.2h0m11.2-20h0m30.7 31.8h0m25.7-73.9h0m-72.4 42.9h0m61.7 50.6h0m-33.8-29.1h0m6.3 0.8h0m22.8-67.4h0m-73.6 20.2h0m24.5 11.7h0m83.4-24.9h0m-94.2 45.5h0m17.5-3.7h0m-10.6 2.4h0m47.6 42.1h0m-46-57.2h0m-8.3 1h0" stroke="#ffffff" stroke-width="0.9"/><path d="M520.4 572.9h0m7.1-78.8h0m-69.3 25h0m17.9-1.9h0m23.8-53.5h0m-29.1 57.3h0m55.3-53.1h0m-41.3 61.4h0m67.4-55.1h0m-105.9 10.8h0m53.7 70.3h0m-63.1-80.1h0m17.2 21.3h0m6-14.3h0m-1.3 27.6h0m25.3 23.2h0m14.9-78.2h0m51.8 27.1h0m-47.2 67h0m-49.5-74.9h0m30.6 74.8h0m-29.7-58.8h0m77 63.5h0m-84.6-54.1h0m0-25h0m70.3 75.7h0m-9.6 6.4h0m-50.9-39.9h0m64.6 32.8h0m2.5-12.9h0m-57.7-9.1h0m11.7-52h0m-24.4 29.6h0m16.9-9.5h0m44.1 33h0m-68.2-34h0m36.7-25.7h0m-4.4 66.8h0m22.1 19.7h0m-37.4-36.3h0m2.3 12.5h0m13.9-67.3h0m72 25.5h0m-21.2 31.5h0" stroke="#ffffff" stroke-width="1.3"/><path d="M455.2 506.5h0m5.7 13.6h0m61.1 46.1h0m-52-100.3h0m1.5 55.5h0m-25.4-31.4h0m45-7.2h0m10.4 65.7h0m-25.8-70.1h0m0.2 40.1h0m-7.8-24.4h0m10.1 22.8h0m48.4 39h0m-67.2-39h0m12-22.3h0m-14.6 3.7h0" stroke="#ffffff" stroke-width="1.8"/><path d="M537.9 452.3h0m-48.7 2.1h0m38.6 116.6h0m-85.8-77.8h0m26.1 39.4h0m43.8 27.5h0m-26.9-39.5h0m-26.3-7.8h0m58.6 37.1h0m-56.1-36.3h0m38-47.8h0m4-10.9h0m-43.9 17.9h0m33 62.4h0m-10-64.3h0m43 84.9h0m27.4-60.7h0m-34.1 65.3h0m-63.8-72.5h0m50.4-16.9h0m16-3.9h0m-56.9 48.1h0m37.2 34.9h0m-31-23.5h0m17.1-57.8h0m-56.6 67.3h0m96.9-67.7h0m-1.3 88.6h0m-48-89.4h0m-21.8 25.6h0m76.5-24.2h0m-81.7 30.6h0m27.6-22.6h0m-39.5 19.6h0m51.1 34h0m-36.5-27.5h0m74.4 17.5h0m-43.6-45.7h0m12.6-15.6h0m-28.3 67.7h0m-10.1-26.5h0m-3 11.4h0m12.6 11h0m75.5-50.2h0m-70.9 45h0m-24.7-49.2h0m-11.9 12.1h0m99.8-11.3h0m4.8 7.4h0m-9.2 0.6h0m-62 38.1h0m-7.9 12.3h0m28.4 9.1h0m-40.6-25.4h0m4.6 4.6h0m62.1-57.3h0m-3.7 108.1h0m-7.8-37.9h0m-48.5-39.9h0m44.4 60.7h0m-7.1-87.2h0m-28.7 37.1h0m49.8-64h0m-40.9 76.9h0m17.9 26.4h0m-36-69.3h0m16.8 5h0m75.9-8.8h0m-75.1 63.6h0m57.3-70.8h0m-54.5 71.5h0m51.6 4.4h0m-55.7 2.5h0m36.4 21h0m-60.5-63.6h0m21.8-2.2h0m9.7 48.1h0m-21.8-35.6h0m71.5 69.3h0m-63.8-44.8h0m36.2 8.7h0m-68-58.7h0m44.7 48.8h0m59.9-62h0m-1.4 38.1h0m-76.9-18.8h0m-24.5-38.7h0m73.3 1.9h0m-4.3 106.6h0m19-10.3h0m-45.2-26.6h0m22.8-54.7h0m37.1-0.5h0m-86.9 25.9h0m25.4 44.8h0m-22.3-38.2h0m8.1 32h0m2.4-2.2h0m22-62.1h0m-37.8 48.2h0m39.3 27.3h0m-54.7-66.9h0m97.1 95.1h0m-52.9-47.2h0m-31.7-11h0m62.4 52.3h0m-29.8-16.3h0m65.9-72.9h0m-116.1 14h0m27.5 22h0m1.6-9.8h0m60.5 51.9h0m21.6-76.1h0m-109.1 2.3h0" stroke="#cfcfcf" stroke-width="0.9"/><path d="M500 506.3h0m-9.9-37.5h0m-49.9 17.4h0m35-14.3h0m12.1 73.5h0m-1.4 0.8h0m-19.3-28.8h0m39.4 44h0m-1.6-101.3h0m-57.1 24.7h0m15.2 1.9h0m-4.9-17.7h0m16.4 4.5h0m28-13.9h0m51 11.3h0m-23.7-10.5h0m-80.5 20.1h0m14.4 12h0m70.5 27.7h0m-2.2-49.3h0m-69.3-0.2h0m70.6 40h0m-2.8 53h0m-86.5-83h0m79.3-10.6h0m-53.2 63.2h0m-31.3-39.1h0m107.1-8.7h0m-29.6-35.5h0m-58.4 32.5h0m27.1 45.2h0m-3.3-67.2h0m-31.5 29.4h0m65.9 64.8h0m-27.5-25h0m9.3-76.6h0m-18.2 70.8h0m11.4-63.6h0m-34.3 15.7h0m35.3 31.4h0m-46-1.7h0m29.3 12.1h0m-3.6-28.5h0m22 59.1h0m-49.6-74.2h0m60.8 84h0m-15.4-24h0m-10.7-17.1h0m-23.8-8.3h0m32.7-36.9h0m36.9 33.7h0m-52.4 19.4h0m3.3-35.2h0m17.2-18.6h0m19.7 83.3h0m-7.7-1.6h0m-15.9-97.9h0m60.9-2.5h0m-27.8 12.1h0m-64 34.4h0m0.9-26.4h0m77.2 36.2h0m-75.9-24.8h0m13.7-17.5h0m36.5-18.4h0m-26.2 86.1h0m-24.8-10.9h0m35.7-54.9h0m-7.2 64.1h0m-18.7-59.1h0m13.7-0.3h0m-6.2 47.3h0m-12.3-43.7h0m32.7 69.6h0m-31.6-20.8h0m19.5 19.8h0m-19-15.9h0m-12.9-40.1h0m9.1 28.2h0m4.7 7.5h0m-12.3-41.3h0m75 5.9h0m-80.2 3.2h0m38.9 30.8h0m31.6 13.9h0" stroke="#cfcfcf" stroke-width="1.3"/><path d="M476.3 515.5h0m-47.2-38.4h0m77.7 77h0m-8.6-1.9h0m-14.4-5.2h0m0.3-79.6h0m28.1 96.1h0m-26.2-98.8h0m-24.4 49.8h0m26.3 19.6h0m23.6 30.5h0m6.7-14.9h0m-4.4 14.3h0m-60.6-62.1h0m15.5-35.3h0m75.1 8.5h0m-81.6 21.5h0m13.6 8.2h0m29.3 48.3h0m-50.4-33.4h0m70 27.5h0m-38.9-16.5h0m-20.3-8.9h0m-14.9-16.1h0m10.7 0.9h0m70.9 57.1h0m-2.6-95.8h0m-76.7 20.4h0m47.2 63.8h0m0.4 4.6h0m-46.8-61.9h0m5.8 18.8h0m8-16.8h0m-11.7-14.7h0m30.6 48.7h0m37.5 19.4h0m2.4 3.9h0m-64.4-46.5h0m12.3 9.2h0m14.7-61.9h0" stroke="#cfcfcf" stroke-width="1.8"/><path d="M451.7 489.8h0m12.3 38.1h0m-13.4-23.8h0m43.6 44.9h0m36-71.7h0m-60.9-6.4h0m-9.3 53.8h0m-13.6-20h0m36.6-34.8h0m10.8 78h0m34.7 0.8h0m-73.8-47h0m10.3 45h0m41.4 12.5h0m-2.1 0.7h0m-2.3-92.8h0m-52.2 33h0m24.6-34h0m-4.2 3.2h0m-16.4 30.6h0m21.1 28.5h0m5.9-11.4h0m-32.6-18h0m0.9-9h0m1-11.5h0m2.7 24.4h0m53.8 53.9h0m-51.1-71h0m23.1-13.6h0m1.6 67.7h0m48.3-84.6h0m-45.4 85.6h0m34.1 16.1h0m-57.8-64.1h0m37.3 38.8h0m49.6-73.7h0m-43.2 7.4h0m-2.2 83.3h0m-18.1-67.2h0m24.3 47h0m-33.2-8.8h0m25.1-53.6h0m-15.2 3.3h0m13.9 64.9h0m-46-22.3h0m68.6 13.3h0m11.1-59.5h0m-49.6 64.8h0m43.4 22.4h0m-29.5-81.2h0m-45.8-1.3h0m16.3 53.8h0m29.5 11.6h0m-30.5-9.2h0m80.4-39.4h0m-86.5 32.9h0m12.5-7.5h0m47 47.9h0m7.6-21.3h0m-51.3-11.9h0m47-7.1h0m-36.1 20.1h0m-8.1-0.4h0m-27.5-52.2h0m45.4-25.2h0m-14.1 68.6h0m13.4 5.5h0m-42.4-49.9h0m50.8-13.2h0m-56.5 10.4h0m31-19.7h0m76.4 37.2h0m-76.3 12.8h0m-9.3-10.8h0m45.7 56.8h0m-40.9-52.7h0m-19.6-20.7h0m93.6-12.1h0m-1.2-19.3h0m-73.9 76.9h0m-17.9-16.2h0m36.2-57.1h0m-9.1 6.5h0m44.7 63.7h0m-22.4 23.6h0m-17.6-24h0m68.4-42.6h0m-72.4 31h0m-23.6-16.8h0m9.6-20.9h0m59.4 75.2h0m-20.3-90.1h0m-13 80.8h0m-21.3-11.7h0m40.6-69.3h0m-62.7 27.9h0m2 1.8h0m-2.6-0.2h0m90.7-33.1h0m-79.5 57.4h0m48.8 40.4h0m-40.3-30.7h0m15.8-59.6h0m50.5-1.4h0m1.6 34.4h0m-51.5 21.7h0m43.6-62.3h0m-0.7 113.1h0m-13.3-23h0m-10.9-54.5h0m-44.8 0.4h0m47.3-37.5h0m-51.2 36.9h0m76.6 21.6h0m-25.8-50.3h0m-32.7 46.6h0m-4.3-46.6h0m-0.9 58.5h0m15-59.2h0m-2.2 77.7h0m-30-48.7h0m28.8 40.9h0m-23.1-21.4h0m68.6 53h0m-53.1-96.6h0m-4.1 46.6h0m-7.6-29.8h0m57.1 84.2h0m-12.3-16.9h0m4.9 2.7h0m-46.5-68.9h0m34.6 46.3h0m-20-23.8h0m19.9-51.4h0m17.5-8.4h0m-22 81.7h0m19.6-55h0m-49.7 46.9h0m-16.2-51.4h0m73.6 85.5h0m-14.9-109h0m-36.2 61.6h0m17.6 13.7h0m-26.1-7.1h0m7.4-24.7h0m66.4 14.3h0m-4.4-34h0m-26.6 75.6h0m-38.8-55.1h0m57.6-36h0m-44.4 62.1h0m15 16.7h0m16 19.5h0m-11.8-93.3h0m-56.8 6.9h0m88.5 56.4h0m-68.1-25.5h0m-3.8-20.7h0m45.8 70.7h0m-8-2.1h0m-16.4-86.4h0m60.7-14.3h0m-84.1 69.7h0" stroke="#999999" stroke-width="0.9"/><path d="M493.3 482h0m-22.9 44h0m81.3-45.9h0m-98.3 23.8h0m2.9 3.5h0m48.4-55.8h0m-17 92.1h0m-30.6-40.6h0m56.7-45.1h0m-40.6 60.4h0m-24-38.9h0m91.8 6.8h0m-59.6-15.1h0m-5.4 70.5h0m39.9 10.9h0m-34.4-25.1h0m27 23.7h0m-19.2-20.2h0m44.7-19.4h0m18.7-10.4h0m-96.1 10.5h0m3.1 11.6h0m28.7 4.1h0m-31.6-48.9h0m-16.3-5.8h0m47.9 57.5h0m-2.5-5.2h0m-15-3.5h0m1.6-55.3h0m65-4.1h0m-73.1 72.5h0m-0.4-31.1h0m3.2 6.5h0m-7.1-28.2h0m-30.1 1.2h0m46.6 29.1h0m-20.6-22.9h0m-13.2-10.8h0m31.4 19.4h0m-15.9 23.2h0m6.4 4.2h0m39.8 26.3h0m-48.4-43.3h0m40.9-39.1h0m-22 40.7h0m64.3-56.3h0m-46.3 91.8h0m-28.1-44.5h0m28.9 28.3h0m-36.4-37.7h0m41.7 64.2h0m-54.4-82.2h0m-5.5 2.8h0m64.3-11.4h0m-8 80.4h0m-25.2-9.6h0m31.9-2.8h0m20 45.2h0m-6.6-15.3h0m-20.9-93.5h0m-44.1 26.1h0m76.6 57.6h0m-69.3-65.7h0m60.1-34.1h0m27.3 26.8h0m-48.3 56.3h0m7.8 13.3h0m10.8 12.8h0m-17.3-91.9h0m7-5.5h0m24.9 15.6h0m-29.8-13.6h0m45.5 4.6h0m-29.8-2h0m-57.4 32.6h0m16.4 38.3h0m65.8-89.3h0m-52.8 16.7h0m43.1-7.9h0m-59.1 41.5h0m59.6 77.1h0m-97.8-107.3h0m70.6-10.5h0m13.9 0.1h0m-9.1 91.4h0m-9.7-2.3h0m-17.8-7.2h0m-37.4-64.7h0m23.4 13.4h0m54.4 59.6h0m-72.3-60.6h0m29-21.3h0" stroke="#999999" stroke-width="1.3"/><path d="M448 490.9h0m77.7 58.2h0m-58.6-54.9h0m68.8 24.3h0m-25.9-52h0m-47.3 47.9h0m1.9-9.3h0m24.1 40.4h0m52.7-94.6h0m-31 113.7h0m-56-64.8h0m-24.8-27.8h0m31.6 48.3h0m15.2-0.9h0m52.9 45.7h0m-49-42.7h0m-24.8-27.5h0m29.5 52.1h0m9.2-85.5h0m-45.8 37.7h0m18.5-29h0m-15.3 5.8h0m78.8-17.5h0m-64 70h0m47.8 27.3h0m10 21.2h0m-42.1-113.5h0m-18.4 14.2h0m-11.8 24.2h0m41.4 27.4h0m43.1 47.3h0m-84.1-65.2h0m22.7 6.8h0m33.7-58.5h0m-40.9 18.2h0m11.9 62.9h0m5-18.2h0m-8 15.9h0m28 22.1h0m-50.8-50.8h0m18-11.8h0m47.6 51h0m-24.1-4.9h0m49.3-74.5h0m-34-5.9h0m-49.1 32.4h0m51.4 36.1h0m28.8-41.7h0m-71.9 27.6h0m6.1-5.2h0m54 65.5h0m-60.7-88.8h0m83.4-6.8h0m-9.5-21.3h0m-73.4 72.9h0m-0.5-34.8h0m29.7-47.1h0" stroke="#999999" stroke-width="1.8"/><path d="M501.1 472.3h0m-36.1 52.4h0m-26.8-37h0m89.8-9h0m-75.2 27.3h0m96.3-18.5h0m-43.4 62.9h0m-18-15.8h0m48.9-74.1h0m-56.8 2.5h0m-24.9 55.2h0m91.2-64.2h0m-56.2 84.8h0m6-69.6h0m0.1-19h0m-4.3 83.9h0m34.6 15.8h0m-6.9 16.4h0m-34.6-99.1h0m26.1 4.3h0m-4.8 84.6h0m-33.7-32.2h0m54.6 32h0m-38.1-16.8h0m-40.7-64.8h0m17.5 23.9h0m-2.3-1.8h0m-9.7-26.4h0m59.8-2.8h0m-34.9 2.9h0m37-8.7h0m-9.8 3.6h0m-36.1 39.5h0m7.9 0.1h0m60.2-19.6h0m-78.4-0.3h0m19.2 30.7h0m-17.5-9h0m3.5-13h0m73.9-18h0m-7.3 56.9h0m-68.2-64h0m19.6 72.8h0m40.9 35h0m-63.6-25.8h0m63.9-89.7h0m-32.9 10.8h0m34.7 85.1h0m-19.8-81.6h0m-22.9 51.6h0m29 40.4h0m0.9-118.5h0m2.7 116.3h0m-39.7-36h0m-10.1-6.2h0m66.8-66.4h0m-38 92.5h0m-23.8-30.9h0m25.8-55.5h0m-15.8 63.9h0m-50.3-38.9h0m48.7-23h0m47.7-8.2h0m-51.3 39h0m-22.8 0.1h0m38.3-34.4h0m-42 12.8h0m-7.4 13h0m67.7-34.1h0m-43.5 68.5h0m17.1-50.9h0m-45.3 18.8h0m42.5-19.3h0m-25.4 40h0m86.6-60.8h0m-70.4 76.6h0m68.4-18h0m-51.7 20.7h0m52.9-24.4h0m-31 60.1h0m-55.7-64.8h0m33.7 27.5h0m-30.2-33.2h0m-3.7 22.8h0m88.9-32.5h0m-8.4-11.1h0m-47.4 75.5h0m14-9.3h0m-4.3-68.4h0m-45.7 30.4h0m46.1 44.7h0m-39.3-26.1h0m32.9 10.8h0m-23.1-30.3h0m62.5 16h0m-69.2-7.4h0m-9.1-4h0m93.5-1.1h0m2.8-48.5h0m-99.6 53.8h0m79.9-20.7h0m5.4-20.3h0m-44.6 76.7h0m-38.8-44.8h0m17.8-30h0m30.5 58h0m-7.8 5.3h0m38.9 30.9h0m-45.6-104.5h0m21.3 92.7h0m-22.5-19.2h0m36.5 25.2h0m-29.9-14.4h0m-23.9-27.6h0m7.6-20.7h0m26.8 59.7h0m-67.1-77.5h0m29.4 38h0m9.4-12.9h0m17.4 41.6h0m4.6-4.8h0m12.8 19h0m22.4-60.8h0m21.4-42.9h0m-98.8 41.2h0m14-22.6h0m15.6 49.6h0m-21-23.4h0m24.1 27.2h0m22.7-73.2h0m29.5 125.5h0m-57.3-46.3h0m8.3-1.1h0m8.2-0.3h0m-6.1-67.6h0m22.4 99.7h0m12.3-11.5h0m16.7-85.3h0m-112.5 8.1h0m68.4-13.8h0m-36.2 8.3h0m65.8 69.7h0m-69.1-42h0m30.1 45.5h0m-48.5-55.9h0m83.6 35.4h0m-19 8.1h0m7 31.8h0m22.5-8.5h0m-94.1-81.1h0m16.2-0.5h0" stroke="#666666" stroke-width="0.9"/><path d="M461.6 520.7h0m70.8-57h0m-15.2 95.6h0m-27.5-12.1h0m-33.1-25.8h0m27.6 22.5h0m45.1 25.6h0m-14.9-70.7h0m-11.7 52.6h0m-3.6-20.1h0m54.8-54h0m-89.4 35.5h0m-8.2-6.5h0m26.2-36.3h0m14 80.8h0m-49.9-72.3h0m43-20.6h0m-9.7 65h0m-3.2-11h0m22.4-13.5h0m-56.1-22.7h0m69-11.7h0m-22.7-8.3h0m-29.1 59.6h0m67 55.5h0m-2.6-115.3h0m-15.5 5.1h0m-58.9 41.7h0m54.3-32.2h0m-72.6 7.6h0m19.2 12.4h0m79.9 87.7h0m0.9-115.8h0m-77 52.3h0m-2.5-9.9h0m-2.1 11.7h0m72.2 30.5h0m-70-31h0m37.5 28.2h0m-14.3-12.5h0m-31.4-55.5h0m84.2 77.3h0m-90.3-67.3h0m53.4-13.2h0m-29.8 32.3h0m22.2 43.7h0m-29.8-77.3h0m85.2 16h0m-44.7-26.6h0m7.9-1.9h0m-43.1 34.8h0m6.7 27h0m34.8 34.2h0m14.3-84.1h0m4.3 76.8h0m7.9 11.2h0m-30.2-18.3h0m-6.8-8.2h0m37.7 1.1h0m-6.1 12.9h0m-71-42.9h0m29.6 25.2h0m-28.6-28.4h0m82.6-7h0m-46.3 47.8h0m-11.6-6.3h0m16.5 10.8h0m36.3-3.4h0m-37.6 4.4h0m43-25.7h0m12.1-64.8h0m-83.6 65.3h0m59.8 20h0m6.4 12.3h0m3.1 3.2h0m-0.4 13.4h0m-74.5-78.6h0m33.7 40.1h0m32.3-73.5h0m-78.7 91.3h0m22.8-43.9h0m-14.3-1.2h0m86.3-36.4h0m-19.7 77.5h0m-71.4-46.4h0m78.5 58.5h0m-20 5.1h0m-43.1-38.8h0m70.9-9.9h0m-107.8-34.5h0m58.1 53.8h0m25.8 21.4h0m-20.4-24.4h0m43.7-17.9h0m12.4-17.7h0m-101.9 6.9h0m58.6-31.7h0m38.2-16.6h0m-77.7 8.8h0m4.6 34.5h0m26 21.3h0m14.4 38.9h0m-38.6-31.1h0m-21.5-43.9h0m-7.3 1.3h0m-10.3 8h0m38.5 30.6h0m58.2-55.7h0m-82.1 41.9h0m1-13.9h0m54.6 61.2h0m-54-61.9h0m68.4 65.7h0m4.1 8h0m-44.4-53.5h0m60-24.3h0m-35.8 66.7h0m47.7-96.7h0m-4.8 8.6h0m-27.9 2h0m-3 0.8h0m-38.6 42.3h0m-3.3-10.6h0" stroke="#666666" stroke-width="1.3"/><path d="M491.8 538.2h0m19.6 15.5h0m-33-41.3h0m-25-43.9h0m75.3 105.1h0m-21.4-108.3h0m19.2-2.2h0m-70.3 53.3h0m44.9-52.2h0m13.2 100.1h0m16-94.2h0m-50.8 49.7h0m44.2 34.4h0m-9.8-54.3h0m33.1-39h0m-49.8 3.2h0m-67.3 9.4h0m101.3-6.7h0m-81.8 37.2h0m19.1-16.3h0m0.7 31.3h0m-14.8-18.4h0m-14.8-21.2h0m86.6-21h0m-2.4 96.7h0m-14.1 0.6h0m-53.3-54.6h0m14.2 3.6h0m59.5-26.8h0m-13-0.3h0m18.5 37.4h0m-42.1-44.7h0m-21 39.9h0m12.8 38.5h0m47.5 7.7h0m-83.7-45.2h0m95.4-49.3h0m-14.2 71h0m-66.7-61.5h0m28.5 73.3h0m3.1-12.2h0m-12.7-69.7h0m67.9-8.8h0m-35.6 112.7h0m-2.1-99.4h0m14.6 15h0m-46.7 41.1h0m-11.8 5.3h0m10.8-54.2h0m21.9 75.7h0" stroke="#666666" stroke-width="1.8"/></g>
<use href="#s2o" transform="translate(427 435)" fill="none" stroke="#f4f4f4" stroke-width="1.15" stroke-linecap="round" stroke-dasharray="0.01 2.1"/>
<use href="#s2r" transform="translate(427 435)" fill="none" stroke="#e3262b" stroke-width="1.05" stroke-dasharray="3.2 1.9"/>
<use href="#s2b" transform="translate(427 435)" fill="none" stroke="#2f7ddb" stroke-width="1.05" stroke-dasharray="3.2 1.9"/>
<rect x="507.4" y="488.6" width="40.0" height="11.5" fill="none" stroke="#e6e6e6" stroke-width="0.95"/>
</g>
<clipPath id="cp4_436"><rect x="557" y="436" width="127" height="155"/></clipPath>
<g clip-path="url(#cp4_436)">
<rect x="557" y="436" width="127" height="155" fill="#070707"/>
<g transform="translate(556 435)" clip-path="url(#cc2)"><g filter="url(#bl3)" fill="none" stroke="#fff" stroke-linecap="round"><use href="#s2c" fill="#fff" fill-opacity="0.08" stroke="none"/><path d="M29 57L28 64L29 71L32 79L37 86L43 93L51 101L57 106L63 111L73 117L84 120.5L92 119" stroke-width="8" stroke-opacity="0.4"/><path d="M38 62L42 72L47 81L52.5 88L59.5 94.5L67 99.5" stroke-width="6" stroke-opacity="0.15"/><ellipse cx="70" cy="32" rx="34" ry="9" fill="#fff" fill-opacity="0.3" stroke="none"/><ellipse cx="15" cy="47" rx="12" ry="7" fill="#fff" fill-opacity="0.25" stroke="none"/></g></g>
<g filter="url(#bl3)"><use href="#s2r" transform="translate(556 435)" fill="#000000" fill-opacity="0.2"/></g>
<g filter="url(#bl2)"><use href="#s2b" transform="translate(556 435)" fill="#000000" fill-opacity="0.4"/></g>
<g stroke-linecap="round" fill="none" filter="url(#bl1)"><path d="M594.1 529h0m52.6 11.8h0m-28.1-73.5h0m45.6-4.5h0m-36.1 74.2h0m-47.5-32.7h0m28.7 25.5h0m-27.3-37.2h0m15.2 29.5h0m71.6-65.1h0m3.2 4.7h0m-24.2 88.4h0m-37.2-7.9h0m72.3 17.5h0m-64.1-95.6h0m-44.5 39.3h0m57.6-40.1h0m30 89.8h0m-29.4-91.9h0m7.4 9.7h0m-61.1 8.9h0m100-12.9h0m-50.1-4.3h0m-28.6 24.9h0m8.8 52.8h0m37.1-81.4h0m-14.7 71h0m27.4-56h0m1.3 94.5h0m-30.4-37.5h0m-8.8 14.3h0m32.6-5h0m-14.3 14.2h0m-35.1-41.4h0m65.1-18.7h0m-32.5 46.8h0m-49.9-22.5h0m38.8-51.4h0m8 1h0m-23.3 68.4h0m-6.2-3h0m22.7-67.5h0m-38.1 56.5h0m90-54h0m-25.8 4.3h0m-6.3 86.8h0m-6.3-3.2h0m13.1-4.6h0m-97.1-60.9h0m37.8 27.7h0m17.4 21.5h0m33-73.4h0m9.2 71.8h0m-47.4-65.4h0m-42.3 5h0m112.6-31.2h0m-85.5 72.4h0m79.4-14.3h0m-78.2 11.4h0m46.2 42.7h0m31-110h0m-38 24.2h0m29.1-0.5h0m-85.9 18.6h0m23 29.6h0m-12.6-21.9h0m64.4 58.9h0m1.6-87.9h0m-58.5 46.5h0m30.7 27.1h0m-13.1-24.7h0m-26.8-10.8h0m59.9 19.7h0m-9.1 27h0m-20.7-24.6h0m5.5-0.9h0m-43.3-58.4h0m71.9 100.1h0m-39.4-54.4h0m-20.6-48.2h0m71.3 68.1h0m-58.7-8.4h0m53.7-63.3h0m-76.4 13.3h0m-16.3-2.6h0m67.6-7.2h0m15.9-8.2h0m-7.3 77.7h0m-44.7-28.1h0m83.6-14h0m-90.4-5h0m75.2-28.3h0m-29.4 8.5h0m-24.4 11.6h0m29.8-15.7h0m10.5 75.3h0m-52.5-65.2h0m-22-0.8h0m65 54.3h0m10.5 32.8h0m-34.8-15.2h0m-30.8-56.3h0m41.8-22.4h0m-9.1 71.1h0m-1.5 1.9h0m24.4-95h0m4.2 81.9h0m35-79.2h0m-87.7 73.1h0m-10-8.8h0m24.2 7.4h0m62.6-64.1h0m-11.5 13.6h0m-66.5 35.4h0m0.6-20.5h0m16.2 40.7h0m51.2-4.3h0m-31.8-54.6h0m0.9-3.9h0m31.7 56.4h0m7.8-7.9h0m16.8-19.8h0m-65 48.8h0m-23.5-56.1h0m77.3-19.4h0m-73.3 49.7h0m-18.1-8.9h0m65.9 22.4h0m-18.4-67.4h0m7.5 76.1h0m-15.8-1h0m52.6-35.4h0m-70.9 33.7h0m58.3-13.2h0m-35.3-48.7h0m-57.8 2.8h0m66.2 55.3h0m2.1-63h0m22.7 103.4h0m-50.2-99.4h0m69.3-11.6h0m-80.6 40.6h0m41 55.4h0m-55.2-49.2h0m61.7-52.4h0m-57.7 28.2h0m-15.7 11.7h0m52 51.6h0m42.3-55.9h0m-25.6-42.3h0m-62.8 35.5h0m72.5-7h0m-50.5 21.7h0m-12.7-18.2h0m46.7 68.5h0m-17.2-7.2h0m38.5-0.7h0m-62.6-15h0m23.8 19.7h0m-3.7-8.3h0m-4.4-61.1h0m74.3 19.9h0m-60.3 35.3h0m29.1-66.1h0m-24.4 0.2h0m0.8-4.3h0m-36.7 7.4h0m-3.4 10.5h0m24.7 54.6h0m19.1-57.4h0m15.6-20.5h0m-56.8 62.4h0m28.8-53.6h0m3.1-1.8h0m-35 29.1h0m42.3 55.6h0m-0.2 4.3h0m-26.5-72.6h0m-25.1 1.7h0m82.8 83h0m-69.2-78.5h0m24 54.9h0m27.4 12.1h0m-37.3-40.1h0m54.1 41.3h0m-43-28.3h0m-54.9-50.6h0m88.2-4.4h0m-3.3-2.8h0m-32.3-8.2h0m-27.5 27.5h0m33.5 52.3h0m-40.9-29.9h0m47.4-37.1h0m14.4 81.9h0m-16.9-97h0m14.1 97.7h0m29.6-59.8h0m-60.1 40.6h0m-6-6.4h0m40.9-63.7h0m-63.1 20.7h0m81.5 12.1h0m0.3 15.6h0m-7.2-41.6h0m-11.1 19.9h0m-14.5 51.9h0m31.9-86.3h0m-9.7 96.1h0m-66.4-85.8h0m1.8 39.1h0m53.6 52.9h0m6.9-3.1h0m-13.1-92h0m19.9 14.9h0m-60.2 14.8h0m13.3-58.3h0m-2.6 28.5h0m58-10.3h0m-12.6 35.9h0m-10.1-25.2h0m-25.4-2h0m6.3 84.8h0m-2.4-1.2h0m58.1-91h0m-79.9 48.2h0m52.6 53.9h0m17.2-90h0m-69.4 52.8h0m-17.4-25.4h0m-10.3-1.8h0m25.5 28h0m36.5-50.8h0m-40.5 49h0m66.9-53h0m-63.3 51.9h0m-7.4 13.7h0m7.7-17.4h0m-12.1-24.9h0m-2.5 6.8h0m21.8 36.9h0m-12.8-64h0m60.8 98.2h0m-8-4.5h0m-36.5-37.7h0m68.5-18.7h0m-34.5-26.8h0m-67.3 0.4h0m92.5 81.6h0m-46.7-19.5h0m9.6-9.2h0m-42.8-56.3h0m69.2 44.9h0" stroke="#ffffff" stroke-width="1.1"/><path d="M588.1 495.6h0m-11.2-7.4h0m13.4 8.5h0m20.6 19.5h0m45.8 16.3h0m-31.4-79.2h0m-67.4 26.8h0m35.7 7.1h0m-17.9 5h0m22.1 5.2h0m8.7 43.1h0m-8.9-31.7h0m-21.1-14.7h0m31.2 41.8h0m37.5-83.9h0m-64.6 44.4h0m-12.8-1.8h0m68.9-35.2h0m17.4 45.6h0m17.4-37.6h0m-62.7-3.8h0m-9.6 73.2h0m-28.7-59.9h0m85.1 5.4h0m-34.6-9h0m-15 47.1h0m33.9-44.9h0m-3.2-7h0m13-6.4h0m32.8 13.9h0m-121 4.6h0m82.7-19.7h0m-56.9 20.2h0m1.4 8h0m6.1 10h0m-37-19.2h0m5 0.3h0m95.8-3.2h0m-51.9-3.3h0m2.6 46.5h0m68.9-29.6h0m-28.2 83.1h0m-2.7-101.4h0m-39.3 69.1h0m-20.4-56h0m42.9-11.8h0m26 73h0m24.1-65.3h0m-85.7-8.6h0m51 72.4h0m-22-95h0m44.5 44h0m-80.3-8.1h0m2.5 19.6h0m65.7-29.8h0m-34.9-4h0m40.4 32.9h0m-51.9 39.5h0m4.6 0.2h0m25.1-82h0m-5.2-14h0m-58.4 24.2h0m62.8-12.6h0m-26.4 86.5h0m-39.4-69.1h0m59.7-24.5h0m34.3 8.7h0m-97.4 30.2h0m9.2 23.7h0m68.6 17.7h0m33.8-54.9h0m-99.8 40h0m39-45h0m-39 24.3h0m84.2 80.1h0m-100-94.1h0m56.7 64.2h0m32.6-85.9h0m24.7 14.1h0m-57.7 71.1h0m-6.7-0.4h0m-27.6-27.1h0m61.6-48.2h0m-7.5 80.3h0m-64.9-65.6h0m36.5-0.9h0m36.2-31.6h0m-3 17.7h0m23.3 34.8h0m3.5-37.6h0m10.3 24.9h0m-105.4-4.1h0m55.8 63.7h0m23.4-23.8h0m-7.9 16.7h0m5.6-22.9h0m-38.4 6.2h0m-1.5-72.1h0m-23.1 44.7h0m67.5-1.8h0m16.9-39.4h0m-90.1 37.1h0m41.6-43.6h0m-37.9 33.5h0m77.4 13.8h0m-35.7-39.5h0m-31.5 72.5h0m16.3-78.3h0m33.4-0.9h0m-92.7 18.3h0m117.2 30.3h0m-74.7 5.5h0m-6.7-21h0m-8.3 27.1h0m73.9 10.2h0m-14 34.6h0m-38.8-93.2h0m26.1-10.2h0m-20.7 84.4h0m46-25.1h0m1.7 43.7h0m1-59.8h0m-82.2-16.8h0m17.1 37.1h0m37.5-51.5h0m-53.2 43.4h0m9.3-33.8h0m-13.3 21.1h0m42.4-35.6h0m14.6-5.6h0m33.6 13.5h0m-68.5 55.6h0m17.5-60.4h0m32 91.7h0m-0.1-107.7h0m7.5 112.1h0m-72.5-75.3h0m15.5 17.6h0m20.6-46.6h0m19.1 97.6h0m-12.9-86.4h0m17.9 94.7h0m-64.7-75h0m82.6-21h0m-79.2 44.9h0m-22.3-32h0m49.2 32.2h0m32.8 52.4h0m15.6-87.4h0m-20.8-17.5h0m-56.2 31.1h0m38.7 38.1h0m42.6 43.5h0m-38.3-77h0m36.2-20.6h0m-9.7-10.8h0m-10.8 3.1h0m-10.5 18h0m-58.5-9.8h0m74.8-12.3h0m-69.1 16.6h0m45.5 65.1h0m37.7-72.9h0m-60.3 49.9h0m61.7 26.3h0m19.4-85.7h0m-38.2 35.6h0m24.7 1h0m-50.1-32h0m28 8.8h0m35.1 10.3h0m-41-22.3h0m-36.8 51.1h0m11.4 10.3h0m-20.2-32.2h0m42.9-35.3h0m32.8 53.7h0m-34.3 42.4h0m-12.3-100.4h0m31.7 77.8h0m-7.9-57.6h0m30.3 5.4h0m-76.3 2.5h0m24.5-12h0m-65 36.3h0m102 43.8h0m-100.9-68.2h0m28.7 21.1h0m-19-18.6h0m87.8 42.6h0m-8.2 22.9h0m-51.2-23.1h0m67.9-59.1h0m-13.4 89.4h0m-43-19.1h0m-23.7-30.2h0m56.6-31.9h0m35-6.9h0m-16.5-15.3h0m-52.6 85.4h0m-33.3-58h0m47.3 2.8h0m21.7 70.4h0m-32.7-12.1h0m-50.3-61.1h0m79.9-23.6h0m-20.6-1.7h0m36.6 86.4h0m-24.9 13.2h0m22.3-21.2h0m-55.8-14.2h0m31.1-58.1h0m-28.4 21.1h0m-33.6-6.9h0m32.8 37.9h0m-30.8-27.9h0m23.6-3.8h0m37.8-21.8h0m-48.5 23.1h0m66.6-23.1h0m-34.2 81.3h0m-31.1-54.5h0m58 16.1h0m-9.2-34.4h0m-72.9 2.3h0" stroke="#ffffff" stroke-width="1.6"/><path d="M641.4 475.9h0m-18.8 23h0m-16 21.3h0m40.5 37h0m-38-32h0m42.9 12.8h0m-42.8 1.8h0m30.2 24.1h0m-43.1-89.3h0m2 55.7h0m61.8 42.3h0m-68.2-94.3h0m19-9.6h0m41-15.4h0m-40.1 5.8h0m-16.1 36.6h0m27.7-28.4h0m45.8-11.4h0m-40.3 11.6h0m2.8-11.2h0m29.5 120.5h0m-40.9-107.6h0m32.5 0.6h0m4.2 86.9h0m-1-72.1h0m-21.1 60.4h0m-5.9-84.5h0m17.2 92.5h0m-5.9 6.4h0m30.2-73.9h0m-49-18h0m-23.4 5.7h0m43.6 79.9h0m-14.3-0.6h0m0.5-83h0m-32.9 62.2h0m26.1-61.5h0m21.5 97h0m-67.9-66.7h0m23.9-24.6h0m19.8 58.8h0m1.6-60.6h0m32.7 75.1h0m-61.1-71.9h0m80.5-11.9h0m-95 13.8h0m96.2 80h0m-116.5-72.3h0m12.5-9.2h0m88.1 55.9h0m-57.9-10.8h0m-9.4-38.5h0m89.5 3.7h0m-57.1-33.7h0m40 34.2h0m-72.2 17.4h0m51.6-40.5h0m3.2 94h0m10.2 5.7h0m-36.1-88.5h0m35.7-8.7h0m18.9 11.5h0m-44.6-16.2h0m15.9 80.7h0m-64.1-28.2h0m57.1-58h0m-44.8 13.3h0m-13.7 4.6h0m3.7 15.3h0m5 2h0m59.9-28.9h0m-12.8-9.1h0m-26.6 27h0m-0.7 61.7h0m49.5 11h0m23.5-61.2h0m-31.6 51.8h0m1.1-72h0m-10.1-5.2h0m-47.6 47.4h0m83.2-31.3h0m-52.7 52.1h0m34.5-48.3h0m19.6-14.4h0m-10.1-12h0m-39.3 6.7h0m45.1 28.8h0m-21.8-11.3h0m-8.9-18.1h0m-44.4 57.3h0m-8.5-3.4h0m64.6 14.4h0m-68.4-38.7h0m69.3 60.2h0m7.6 7.6h0m-78.9-62.3h0m-23.8-19.4h0m91.5 76.2h0m7.5-70.6h0m-77.6-0.5h0" stroke="#ffffff" stroke-width="2.2"/><path d="M664.8 460.2h0m-31.1 5.6h0m-5.6-11.7h0m-42 22.9h0m79.3-13.9h0m-60.2 18.3h0m-32.1 5.7h0m69.5-38.4h0m-36.8 84h0m60.6-55.3h0m-20.6 79.7h0m-45.6-29.2h0m23 21.1h0m28.9-77.7h0m9 13h0m-80.6 0.6h0m72.6 90.8h0m8.3-53.1h0m-5.4 39.8h0m-14.2-3.4h0m-0.5-80.1h0m-6.5-4.4h0m-53 9.6h0m45.1-13.7h0m-40.5 34.2h0m55.7-46.8h0m-35.1 13.8h0m35.6 34.4h0m35.6-53.9h0m-81 79.9h0m60.2-4.7h0m4.1-48.4h0m-53.1-7.8h0m-32.8 14.5h0m108.1 3.7h0m-31.9-17.2h0m-68 23.6h0m41.4 56.6h0m48.6-89.1h0m-90.5 22.7h0m73.3 56h0m27-52.9h0m-53-39.2h0m-60.1 46.2h0m20.3 21.4h0m32.1-39.7h0m24.8-11.9h0m-17.4 76.1h0m-21.3-4.4h0m46.7-57.2h0m-88.7 5.4h0m14.8 32.5h0m5.7-27.6h0m66 79.3h0m-13.9-4.4h0m-48-40h0m-0.8-9.9h0m28.6-40.7h0m7.3 65.7h0m18.9 21.6h0m-38.5-89.7h0m-7.2-5.1h0m17.3 62h0m-5.9 1.4h0m29.7-62.2h0m-46.7 54.7h0m18.9 24.1h0m46.5 32.2h0m-16.3-115.4h0m8 3h0m-78.9 26.8h0m15.3-15.2h0m32.5 58h0m54.2-61.6h0m-100.2 22.4h0m24.3 16.5h0m-22-34h0m32.2 61.9h0m4-79.5h0m1.9-7h0m-31.7 54.4h0m30.6-47.3h0m48.4-8h0m-86.4 31.9h0m38.2 45h0m-31.1-23.2h0m61.1-37.4h0m5.3-8.7h0m-53.6 67.6h0m-5.5-43.8h0m47.9-22h0m7.4 48.3h0m3.3-35h0m0.5-19.4h0m-64 46.5h0m64.7 42.1h0m-37.7-79.2h0m41.6 91.3h0m-84.3-73.7h0m81.4 62.4h0m1.3-63.9h0m-54.7 12.2h0m-5 22.7h0m9.8 15.9h0m-7.3-5.8h0m36 12h0m-48.8-53.5h0m63.6 74.8h0m4-102.5h0m-49.4 75.7h0m55.2-1.1h0m-0.8 0.6h0m-47.5-60.8h0m-24.3 40h0m62.1 50.1h0m-23.4-26.9h0m6-64.7h0m52.5-2.1h0m-48.4 82.7h0m19.1-79.8h0m-5.5 91.3h0m-1.7-28.1h0m9.6 37.2h0m-68.1-57.7h0m9.9-39.4h0m-14 30.3h0m3.6 10.2h0m28.1-47.8h0m14.7 3.5h0m20.4 3.8h0m0.1 96.7h0m-61.6-64h0m28.8-49.6h0m28.3 40.3h0m-19.6 48.8h0m-35.8-52.6h0m49.7 59.3h0m-0.5-102h0m26 19.5h0m-61.3 63.5h0m-2.9-12h0m21-49.3h0m39.3-12.2h0m-63.8 58.2h0m47.2 35.2h0m-53.8-43.2h0m9.6-5.8h0m-16.9 9.6h0m8-25.5h0m24.2-23.6h0m27.8 86h0m-34.4-89.8h0m16.4-8.8h0m-57.7 27.8h0m56.6 52.5h0m4.6-75.6h0m-30.5 45.5h0m49 58.1h0m-24.4-18.3h0m37.9-64.9h0m-5.9 77.9h0m-33.6-86.8h0m5.2 38.1h0m48.3-8.4h0m-50.7-30h0m-19.6 60.9h0m29.1 16.2h0m1.3-78.8h0m-55 34.4h0m7.7 14.8h0m69.3 14h0m-90-38.6h0m77.6-28.8h0m-43 39.8h0m57.3-1.4h0m-56.9 28.6h0m64.9-72.1h0m-85.2 37.4h0m-16.9-16.7h0m107.6-3.2h0m-98 7.9h0m89.8-28.8h0m-0.3 124.3h0m-2.9-23.4h0m-36.3-83.3h0m21.3-16.8h0m9.6 13.5h0m20.4 28.6h0m-14.7-11.2h0m-14.7 76.6h0m-63-65.1h0m83.2-5.5h0m-73.2-1.7h0m46.4 67.9h0m-25-15h0m-8.9-27.3h0m69.1-31.2h0m-54.1-11.4h0m31.7-22.5h0m-6.4 10.8h0m17.2 0.5h0m-12.8 72.5h0m-75.8-51.9h0m40.5-19.3h0m6.9 89h0m-7.3-15.8h0m19.8 20.1h0m-33.3-28.8h0m-9.8-19.2h0m-2.8-16.1h0m22.9 40.3h0m19.5-64.2h0m37.9 32.8h0m-78.2 22h0m-8.2-11.1h0m56.6 38.3h0m37.6-83.8h0m-0.2 9.4h0m-85.5 31.9h0m83.9-10.9h0" stroke="#cfcfcf" stroke-width="1.1"/><path d="M570 479.6h0m90-10.1h0m-77 27.7h0m74.3-13.3h0m-72.6 12h0m33.2-25h0m-13.1 25h0m-23.5 10.3h0m66.7 19.6h0m-59.4-52.1h0m91 1.2h0m-21.4 80.1h0m2.7 3.3h0m-74.8-62.4h0m9.4 31.6h0m41.1-61.3h0m-3.3 81.4h0m-65.1-65.1h0m40.9 57.8h0m35.7 11.1h0m-25.6-86.6h0m24.3 99.6h0m-53.7-77.5h0m19.9-25.4h0m3.8 67.3h0m-41.6-38.4h0m-2-16.6h0m35.7-8.8h0m36.2 90.5h0m-42.7-49.3h0m0-27.1h0m39.1-8.2h0m-31.6 65.7h0m50.6-80h0m-42.8 80.3h0m-21.6-11.3h0m45.1-61.2h0m-62.7 45h0m-3.8-35.8h0m77.3-4.2h0m-71.9 3.7h0m16.2 17.2h0m52.2 65.1h0m-22.4-18.6h0m-40.4-28.1h0m11.8 11.1h0m78.5-63.7h0m-57.3 6.8h0m32.7-11.2h0m-28.9 17.5h0m23.5 99.1h0m27.1-94.9h0m-39.4-9h0m38-8.7h0m-83.7 16.6h0m71.6-17.6h0m-75.3 32.4h0m70.7 73.5h0m-37.7-32.4h0m18.2-58.8h0m45.3 42.8h0m-19.8-43.8h0m-19.4 88h0m-1.8-91h0m-60.5 15.1h0m39.7 55.1h0m32.3 13.7h0m-23.6-77.9h0m-43.1 13.6h0m19.6 31h0m60.1-20.6h0m10.7-29.5h0m-94.5 14h0m85.2-13.7h0m-77.3 16h0m42.6 56.9h0m-18.1 2.3h0m1.9-80.8h0m-7.7 23.2h0m-17.4 7.8h0m70.1 46.7h0m-50-5.1h0m-23.1-29.7h0m4.4 4.2h0m47.2 49.6h0m-69.2-64h0m50.3 50.4h0m10.8-70.3h0m-20.5-6.4h0m23.1 6.9h0m-29.8 10.9h0m4.1 49.2h0m4.7-1.3h0m-0.7-60.5h0m5.1 60.9h0m-6.8 8h0m28.2-78.8h0m7.1 10.2h0m-35 51.5h0m-24.9-41.2h0m-11 9.7h0m111.9-18.4h0m-84.1 49.7h0m25.3 6.8h0m5.3-62.2h0m23.3 60.7h0m-9-63.5h0m-57.1 46.7h0m2 7h0m55.2-14.5h0m-67.2-25.3h0m36.7-11.8h0m-25.7 51.2h0m-2.8-21.1h0m-28.3-23.6h0m79.8 1.1h0m28.3 23.5h0m15.2-30.1h0m-77.9 50.4h0m-5.8-1.5h0m75.1-46.8h0m-58.2-5.1h0m64.4 21.5h0m-12.5-3.4h0m-5.9 3.3h0m-46.9-7.5h0m-24.3 21.3h0m53-38.2h0m-82.2 9.8h0m23 24h0m29.2 39h0m-3.8 3h0m17.8 8.8h0m-36-45.5h0m69 22.5h0m-39.1-57.9h0m-10.7 67.3h0m41.6-61.8h0m1.7-1.8h0m-30.9-0.9h0m13.8 81.7h0m-40.5-60h0m-11.1 2.3h0m89 5.1h0m-75.4 25.7h0m11.4 18h0m25-88.4h0m30.5 17.3h0m-46.3 64.4h0m-33.4-17.1h0m1.9 1h0m7.3 6.2h0m-10.2-22.9h0m75.4 61.4h0m-64.3-90.4h0m-4 20.7h0m57.6 77.2h0m32.7-89.9h0m-7.7 18h0m-25.7 72h0m-2.3-113.1h0m19.1 4.2h0m-64.7 66.4h0m37.6 27.7h0m-26.8-34.4h0m-26.9-49.3h0m60.7 75.2h0m11.1-80h0m-52.7 55.7h0m-30.5-25.5h0m83 36.2h0m-41.4-66.4h0m28.8 3.4h0m12.8 90.9h0m3.9-11.9h0m-22.2-78.4h0m13.9 20.1h0m-51.7-21.5h0m78 16.2h0m-85.9 25.5h0m44.3-54.3h0m0.2 15.8h0m18.6 105.3h0m16.5-72.4h0m-74.1 13.3h0m69-25h0m-56.1 35.3h0m-25-40.7h0m12.8-5.8h0m8.3 19.9h0m-26.6 4.8h0m79.6-7.6h0m-56.2-32.3h0m71.5 28.9h0m11.1-10.7h0m-60.3-32.7h0m29.7 12.9h0m-3.2 7.9h0m25.9-6.1h0m-86.6 18.8h0m25.9-20.2h0m0.9-12h0m30.8 22.3h0m24-4.7h0m-14.8 40h0m27.5-31.4h0m0.1 17.5h0m-78.7 39.5h0" stroke="#cfcfcf" stroke-width="1.6"/><path d="M656 540h0m-10.1 10.1h0m-14-88.8h0m15.2 90.2h0m-56-80.3h0m-34.7 14.8h0m0.9-5.3h0m78.3-10.2h0m-9-14.8h0m-52.2 42.9h0m84.7-0.6h0m1.3 11.8h0m-81-28.2h0m-0.6 22h0m29.5-6.7h0m12.3 17.4h0m-28.1-38.6h0m19-11.6h0m1.7 78.9h0m-18.5-20.8h0m57.1 16h0m-65.1-24.5h0m4.2-24.6h0m68.6 28.3h0m-59.4-26.2h0m-10.6 21.3h0m-15.5-18.4h0m15.3 4.3h0m7 19h0m-20.8-26.2h0m84.7-13h0m-6.8 1.7h0m-9.8 72.6h0m-4.9 5h0m-44.7-58.5h0m80.4-16.6h0m-31.5 1.1h0m-77.7-2.3h0m33.8-42.8h0m-31.8 34h0m17.3 19.1h0m-23.9-16.8h0m99 73.6h0m-77.6-62.1h0m69.2-17.4h0m-25.7 4.8h0m20.8 84.7h0m-89.6-78.7h0m120.4-20.6h0m-102.5 24.7h0m84.4 33.8h0m-56.4-14.4h0m24.5-50.5h0m-24.5 72.7h0m-8.3-19.3h0m-5.6-6.5h0m92.6-31.6h0m-97.3 28.9h0m24 33.5h0m56.1-20h0m-5.7 13.3h0m2.3-63.8h0m-22.3 24.1h0m22.2 80.1h0m-25.6-100.9h0m20 86.4h0m-34-75.6h0m-15.2-5.7h0m4 75.2h0m9.5-71.7h0m26.6 74.9h0m-53.9-60.5h0m50.8 75.3h0m-6.4-11.1h0m-49.3-81.5h0m30 6.8h0m47.1 99h0m-11-11.9h0m-60.4-73h0m57.2 48.5h0m-77-55.1h0m32.2-13.6h0m10.5-9.9h0m3.9 10.7h0m29 102.4h0m-67.3-72.1h0m1.9 0h0m-17.7-20.3h0m47 62h0m-24.6-26.7h0m45.8-49h0m-33.4 40h0m21.5-43.2h0m-26 8.4h0m35.5 59.3h0m-9.7 4.2h0m-47-54.9h0m64.9-10.8h0m-60.3 22.6h0m38.7-24.3h0m4.6 77.4h0" stroke="#cfcfcf" stroke-width="2.2"/><path d="M594 513.6h0m62.3-39.2h0m-6.6 77.4h0m-14.1-84.8h0m-18.5-10.6h0m-45.7 37.5h0m13.8 1.9h0m54.1 68.5h0m-71.1-84.8h0m24.8 47.1h0m66.3 25.9h0m-83.1-45.1h0m82.3 5.4h0m-34.9-42.1h0m31.9 99.6h0m-64.7-94.3h0m73.9 39.8h0m-21.5 41.3h0m-11.8 1h0m-42.7-85.4h0m51.2-15.6h0m7.2 111.9h0m-7.6-100.9h0m-18 5.3h0m22.5 20.6h0m12.7-5.8h0m-8.9 65.6h0m-52.8-23.4h0m83.2-74.4h0m-69.6 83.7h0m-34.9-52.3h0m52.5-24.9h0m-45.2 31.2h0m46.3 52.4h0m-39-50.6h0m66.7-24.5h0m17.9 23h0m-19.4-1.3h0m-30-27.3h0m-1 2.7h0m-15.2 0.5h0m44.8 69h0m-50-19.3h0m-25.4-11.4h0m68.7 0h0m-1.5 54.1h0m-18.7-92.5h0m-62.7 2h0m75.1-13.6h0m-57.6 36.9h0m64.2-44h0m-33.7 95.8h0m12.6-0.2h0m7.3 10.2h0m12.4-55h0m12.7 30.8h0m-45.9 10.5h0m26.3 17.7h0m19.1-4.7h0m-11.4-76.2h0m-18.3 69.8h0m-35.1-77.8h0m73.4 5.6h0m-37.5-15.4h0m-20.6 19h0m66.5 12.1h0m-4.2-31.3h0m-64.6 75.5h0m58.8-61.9h0m-60.3 46.4h0m19-54.2h0m38.1 51.6h0m-2.6-15.2h0m-68.8 20.7h0m84.5-64.1h0m4.8-3.9h0m-40.1 101.7h0m-34-91.9h0m-17.3 55.7h0m73.4-20.5h0m-80.8 4.2h0m73 43.5h0m-30.5-84.1h0m-33.4 31.9h0m0.9-7.7h0m67.5 53.6h0m-42.5-83.1h0m-43 35.4h0m-11.8-13.4h0m25.4 3.7h0m49.9-11.5h0m-28.8 64h0m21.9 14.2h0m-15.5-10.4h0m67.6-77.6h0m-79.3 60.6h0m1 6h0m22.6 0h0m31.2 2.5h0m-68.3-37.4h0m12.8 34.9h0m4.6-51.1h0m5.4-14.8h0m-2 13.1h0m55.2 39.9h0m-15.5 10.7h0m-60-42.8h0m27.4 39.7h0m45.7-66h0m-36-3.8h0m-9.8 91.9h0m53.1-69.1h0m-42.7 68.4h0m-45.7-49.5h0m72.7 44.7h0m10.4-87.1h0m-1.1 20.9h0m-59.9 51.1h0m7.2-4.7h0m-40.1-47h0m38.3 67.4h0m42-87.1h0m-73.3 41.7h0m74.5 65.3h0m-85.4-91.6h0m4.9 24.7h0m73.6 7.9h0m16.5 56h0m-41.9-97h0m-0.3 0h0m27.1 25.9h0m-20.4 57.3h0m-45-38.7h0m50.2 32.7h0m32.9 39.8h0m-2.5-108.5h0m-7.3-17.2h0m-40.2 91.1h0m-36.7-68.1h0m11.8-7.6h0m69.2 90.6h0m-6.6-90.2h0m16 33.6h0m9.4-25.4h0m-42.4-23.2h0" stroke="#999999" stroke-width="1.1"/><path d="M578.7 492.8h0m86.5 3.8h0m-5.6 22.7h0m-42.1 9.5h0m26.8-38.7h0m33.5-20.9h0m-19.1 59.6h0m-39.4 7h0m49.5-72.8h0m-46.9 71.2h0m-3.1 13.4h0m30.4 1.1h0m-74.8-68.3h0m20 45.5h0m17.6 13.1h0m54-26.4h0m-2.8 19.8h0m15.1-75h0m-19.6 68.7h0m-79.1-12.5h0m-10.3-26.9h0m73.5 73.3h0m9.7-14.5h0m8.7 19.4h0m3.6 13h0m-20.8-83.9h0m15.9 28.4h0m-4.3 14.1h0m-18.1-66.4h0m-5 82.3h0m-36.6-52.2h0m44.9-35.4h0m-22.2 6.2h0m1.1-5.2h0m19.9 38.5h0m-18.1-2.1h0m-26.1 27.1h0m-8.8-5.9h0m76.3-28.1h0m-16.2-31.9h0m-5.4 5.2h0m-46.2 48.9h0m23.9 29h0m60.9-57.3h0m-105.5 2.1h0m23.2 13.7h0m51.8-51.6h0m6 8.1h0m-80.9 37.1h0m72.5 59.9h0m-9.1-6h0m-47.4-75.3h0m41.5-14.9h0m36 7.6h0m-62.6 63.9h0m-9.5-4.8h0m65.7-23h0m-54.5-30.7h0m28.4-20h0m-32.4 10.8h0m21.2-12.8h0m-4.6 88.7h0m37.3-62.4h0m-64.1 43.6h0m85.4-59h0m-17.4 118.2h0m-7.1-7.7h0m-66-73.9h0m54.2-21.9h0m-17.7 3.1h0m-65 3.6h0m98 64h0m-62.8-40.3h0m53.5 23h0m-29.5 2.7h0m35.1-75.3h0m-7.2 108.6h0m9.5 3.4h0m-40.2-27.1h0m29 11.9h0m-60.2-75.9h0m82.3 16.6h0m-24.3-35.9h0m-56.7 27.1h0m-0.8-12.3h0m92.9 3.6h0m-20.6 53.6h0m-14.2-60h0m-33.6-3.2h0m24.8-2h0m21.5 116h0m16.3-117.7h0m-39.5 4h0m-52.5 43.6h0m93.2-27.6h0m-30.4-23h0m23-3.3h0m-61.6 69.1h0m4.4-67.2h0m53.7 13.4h0m-8.8 25.3h0m-40.4-33.6h0m-10.6 40.1h0m78.2-33.6h0m-37.1 8h0m16.4 100h0m-68.5-98.9h0m41.5-20.9h0m21.7 13.2h0m6.7 103.7h0m-61.6-62.7h0m52.5-39.2h0m13.9 67.3h0m-30.5-81.2h0m-67 34h0m28.8 55.7h0m41.8-78.1h0m3.6 90.1h0m10.9-42.4h0m-55.8 11.3h0m47.2-65h0m-64.3 35.4h0m42.2-38.8h0m14.2 2.7h0m-12.6 2h0m-17.3 49.3h0m1.7-46.5h0m-8.6 61h0m31.5-74.8h0m-27.3 17.5h0m33.8 72.3h0m7.3-25.6h0m-63.5-31.1h0m-12.2-8.8h0m-3.6-16.6h0m36.9 37.4h0" stroke="#999999" stroke-width="1.6"/><path d="M648.5 464.9h0m-89 11.4h0m65.7 70.7h0m-4.2-91.1h0m20.7 104.7h0m-56-40.8h0m56.4-68h0m-51.1 69.3h0m1.6-21.2h0m50.3-37.9h0m-55.4 54.7h0m40.1 37.1h0m-67.3-62h0m8.7-18.3h0m56.7 73.8h0m-38.4-60.3h0m-19.4-11h0m46.5 50.6h0m10-67.5h0m14.5 11.4h0m-23.6 4.3h0m-26.8 34.9h0m61.4-32.5h0m-17.3 76h0m-67.9-74.9h0m35.8 51.9h0m33-78h0m22 6.8h0m0.4 123.1h0m-6.9-13.2h0m7.9-3.7h0m-17.3-9.2h0m22.9 19.7h0m-90.5-99.3h0m109.4 14.1h0m-48.4 61.4h0m8-74.8h0m-16.4 63.8h0m30.9-12.7h0m-7.9 37.5h0m6.6-10.7h0m-70.2-63.6h0m49.2-28.5h0m-28.1-17.3h0m4.9 23.6h0m54.7-1.2h0m-12.2 64.2h0m-53.9-14h0m-10.6-15.8h0m49.2-30.8h0m22.5 43.2h0m-26.4 21.1h0m-20.4 5.4h0m-38.1-55.2h0m25.2 38.8h0m11.9-63.7h0m68.2 12.8h0m-84.1 9.8h0m40.8 71.3h0m-0.1-79.8h0m-11.7 59.8h0m-3.2-74.1h0m-26.4 57.4h0m83.1-40.9h0m-30.5-18.7h0m8.3 119.6h0m-29-118h0m-35.1 68.5h0m37.8 28.5h0m-23.5-24.1h0m5.9 12.7h0m19.4-3.7h0m38.2-70.9h0m-84.3 46.4h0m-18-31h0m77.2-36.4h0m18.9 53h0m-72-9.7h0m-4.4 1.5h0m5.9 23.9h0m57.5 49.4h0m-51.2-35.3h0m41.3 31.1h0" stroke="#999999" stroke-width="2.2"/><path d="M666.7 511.5h0m-8.5-36.5h0m-82.7 5.4h0m47.6 60.5h0m-54.7-65.2h0m76.2-2.8h0m24 9.2h0m-13.1 49.6h0m-78.2-49.3h0m47.5-9.9h0m-19.5 54.2h0m-10.8 2.7h0m24.5-59.7h0m28 78.4h0m-18.8-90.1h0m6.4 102h0m-14.6-18.4h0m36.6 14.5h0m-29.7-86.1h0m34.9 53.3h0m-32-52h0m-43.4 18h0m16.4 22.9h0m31.1 35h0m15.6-46.6h0m-25.3-36.4h0m24 91.9h0m-71.2-83.4h0m37.5 65.1h0m15.6 10h0m-44.8-55.2h0m57.3-19.6h0m-7.2-4.4h0m-28 37.6h0m45.6-40.2h0m15.1-5.1h0m-63.9 20.9h0m78.4-0.1h0m-45.5 81h0m23.9-96.7h0m-60.3 69.9h0m63.9 39.5h0m10.3-103.3h0m-80.8 58.9h0m13.9-32.9h0m32.6-27.6h0m-37.2 61.2h0m60.3-62.4h0m-52.9 74.3h0m-41.4-54.9h0m19.5-2.1h0m44.2-19.8h0m24.8-1.9h0m-56 59.2h0m50.5 22h0m-68.8-40.8h0m49.9-45.6h0m-0.2 9.3h0m-43.9 41.7h0m54-48.6h0m14.8 28.1h0m-75.3-20h0m-5 0.5h0m75.2 109h0m17.3-86.8h0m-102.9-21.1h0m28.9-1h0m78.1 29.6h0m-41.3-48.3h0m22.3 103.1h0m-13.2-79.2h0m11.6 77h0m-46.4-78.8h0m56.3-13.4h0m-60.1 30.4h0m52.4-11h0m-11.5 79.7h0m-22.7-93.6h0m21 4.3h0m-66.2 24.9h0m2 5.6h0m69.1-29.2h0m-89.5 1.6h0m57.7 69h0m-12.2-8.7h0m-29.8-17.3h0m13.8 7.9h0m37.6-53.9h0m-3.6-5.1h0" stroke="#666666" stroke-width="1.1"/><path d="M591.7 523h0m34.7 25.5h0m23.5-59.1h0m2.4-8.8h0m-17.4 77.2h0m7.1-62.8h0m24.2-43.4h0m-49.4 87.9h0m-11-64h0m17.5 70.1h0m-45.7-33.1h0m26.8-36.1h0m-19.3 42.6h0m87.6-43.2h0m-37.4-7.6h0m-58 37.1h0m-13.1 24.7h0m113.9-67.1h0m-21.3 15.1h0m-40.8 46.1h0m34.1-46.5h0m-60 28.5h0m18.4-38.2h0m-44.5 18.3h0m94.7-25.8h0m-75.3 51.9h0m50.1-22h0m-27.2-15.5h0m45.4-17.5h0m-4.3 3.8h0m5.8 35h0m-67.4 3.3h0m88-30.4h0m-50.2 80.2h0m15.4-94.4h0m-75.9 35.3h0m74.4-29.7h0m-46.1 66.3h0m34 18.3h0m-60.8-61.8h0m33.3 7h0m-33.3-15.2h0m59.6-18.1h0m3 4.6h0m-32.9 55.4h0m48.8 44.2h0m26.7-76.4h0m-56.7 52.5h0m-53.4-63.6h0m34.5 45.7h0m57.6 28h0m-57.9-20.4h0m53.5-48.5h0m-63.6 9.6h0m44 58.1h0m7.1 3.6h0m-56-59.4h0m48.1-40.6h0m-18.8 86.4h0m10.2-3.6h0m-20.9-2.3h0m-40.6-49.1h0m30.2 33.1h0m22.3-40.3h0m-14.3 45.9h0m23.1 18.5h0m9.3-81.9h0m-18.3 89.6h0m0.8-25.5h0m-12.6-26.9h0m50.8-36h0m3.3 6.9h0m-32 77.1h0m-41.3-47h0m53.2-43.9h0m-32.4 72.8h0m79.6-63.6h0m-14.1 76.5h0m-88.5-28.3h0m32.2 12.1h0m-0.5 14.2h0m16.4-69.6h0m-23.2 4.6h0m60.3-14h0m21.5 44.3h0m-13.2 2.6h0" stroke="#666666" stroke-width="1.6"/><path d="M634.9 490.5h0m-51.6 7.5h0m-2.7 24.4h0m25-9.4h0m35.6 49.6h0m-14.8-102.3h0m4.1 89.4h0m-35.1-49.6h0m12.9 45h0m-1-13.1h0m49-34.9h0m-2.2 29h0m-70.5-11.8h0m78.6 8.6h0m-20.7 30.7h0m23.4-78.8h0m-33.9 8.8h0m-39.6 29.9h0m14.1 9.1h0m21.4-71h0m35.1 73.3h0m-81.7-24.1h0m32.8 31.8h0m42.1 17h0m-15.3 7.5h0m-57.3-37.7h0m11.7-30.6h0m17.6-19.3h0m39.5 40h0m-65.2-4.5h0m3.9-0.8h0m73.1-39.5h0m-6.3 78.7h0m-8.7-63.2h0m-57.2 30.2h0m44.9-36.4h0m-21.7-0.4h0m8.4 60.5h0m-27.7-16h0m27.2-59.3h0m15.6-12h0m-30.3 68.5h0m-21.1-14.7h0m-10.7 5.7h0m81.6-40.2h0m13.5-9.8h0m-73.2 75h0m67.2-72.8h0m-96.6 28.4h0m83.9 58h0m1.7 35.2h0m8.6-9.3h0m-77.8-57.4h0m6.1-25.4h0" stroke="#666666" stroke-width="2.2"/></g>
<use href="#s2o" transform="translate(556 435)" fill="none" stroke="#f4f4f4" stroke-width="1.15" stroke-linecap="round" stroke-dasharray="0.01 2.1"/>
<use href="#s2r" transform="translate(556 435)" fill="none" stroke="#e3262b" stroke-width="1.05" stroke-dasharray="3.2 1.9"/>
<use href="#s2b" transform="translate(556 435)" fill="none" stroke="#2f7ddb" stroke-width="1.05" stroke-dasharray="3.2 1.9"/>
<rect x="636.4" y="488.6" width="40.0" height="11.5" fill="none" stroke="#e6e6e6" stroke-width="0.95"/>
</g>
<path d="M44.7 571.4H60.4" stroke="#2f7ddb" stroke-width="1.1" stroke-dasharray="4 1.9"/>
<path d="M44.7 582.3H60.4" stroke="#e3262b" stroke-width="1.1" stroke-dasharray="4 1.9"/>
<text x="64.50" y="574.60" font-size="9.9" fill="#eee" stroke="#eee" stroke-width="0.25" textLength="32.50" lengthAdjust="spacingAndGlyphs">Nucleus</text>
<text x="64.50" y="585.10" font-size="9.9" fill="#eee" stroke="#eee" stroke-width="0.25" textLength="66.70" lengthAdjust="spacingAndGlyphs">Perinuclear area</text>
<text x="174.50" y="574.50" font-size="9.9" fill="#eee" stroke="#eee" stroke-width="0.25" textLength="44.30" lengthAdjust="spacingAndGlyphs">Ex 488 nm</text>
<text x="174.50" y="585.00" font-size="9.9" fill="#eee" stroke="#eee" stroke-width="0.25" textLength="46.50" lengthAdjust="spacingAndGlyphs">Em 525 nm</text>
<text x="303.50" y="574.50" font-size="9.9" fill="#eee" stroke="#eee" stroke-width="0.25" textLength="44.30" lengthAdjust="spacingAndGlyphs">Ex 488 nm</text>
<text x="303.50" y="585.00" font-size="9.9" fill="#eee" stroke="#eee" stroke-width="0.25" textLength="46.50" lengthAdjust="spacingAndGlyphs">Em 600 nm</text>
<text x="431.50" y="574.50" font-size="9.9" fill="#eee" stroke="#eee" stroke-width="0.25" textLength="44.30" lengthAdjust="spacingAndGlyphs">Ex 488 nm</text>
<text x="431.50" y="585.00" font-size="9.9" fill="#eee" stroke="#eee" stroke-width="0.25" textLength="46.50" lengthAdjust="spacingAndGlyphs">Em 690 nm</text>
<text x="560.50" y="574.50" font-size="9.9" fill="#eee" stroke="#eee" stroke-width="0.25" textLength="44.30" lengthAdjust="spacingAndGlyphs">Ex 640 nm</text>
<text x="560.50" y="585.00" font-size="9.9" fill="#eee" stroke="#eee" stroke-width="0.25" textLength="46.50" lengthAdjust="spacingAndGlyphs">Em 690 nm</text>
<rect x="636.6" y="580.7" width="40.8" height="4.3" fill="#fff"/>
<clipPath id="cp0_392"><rect x="41" y="392" width="129" height="34"/></clipPath>
<g clip-path="url(#cp0_392)">
<rect x="41" y="392" width="129" height="34" fill="#08040c"/>
<rect x="41" y="392" width="70" height="34" fill="#0a2a30" fill-opacity="0.3" filter="url(#bl3)"/>
<g stroke-linecap="round" fill="none" filter="url(#bl5)"><path d="M49.5 401.4h0" stroke="#30e4f4" stroke-width="5.0"/><path d="M52.0 401.6h0M78.0 394.8h0M86.5 408.0h0M50.5 416.6h0M111.2 393.8h0M135.9 421.3h0" stroke="#30e4f4" stroke-width="4.0"/><path d="M55.2 395.7h0M65.7 394.8h0M99.8 415.6h0M117.0 401.0h0" stroke="#30e4f4" stroke-width="3.0"/><path d="M60.0 393.8h0M122.0 410.0h0M144.4 399.5h0M159.0 401.0h0M151.0 422.0h0" stroke="#ffb8ec" stroke-width="4.0"/><path d="M70.4 403.3h0" stroke="#c0fcff" stroke-width="4.0"/><path d="M72.0 402.3h0M52.0 418.0h0M107.0 394.0h0M44.0 406.0h0M127.0 396.0h0M141.0 407.0h0" stroke="#e040d0" stroke-width="3.0"/><path d="M71.4 413.7h0M80.8 424.0h0M120.7 416.6h0M153.0 410.9h0M122.6 424.2h0" stroke="#e040d0" stroke-width="4.0"/><path d="M93.0 400.0h0" stroke="#20a0b0" stroke-width="2.0"/><path d="M61.0 420.0h0" stroke="#20a0b0" stroke-width="3.0"/><path d="M124.5 409.0h0M156.7 409.0h0" stroke="#ffffff" stroke-width="5.0"/><path d="M139.7 398.5h0M134.0 413.7h0M145.4 415.6h0M166.2 424.2h0" stroke="#fff27a" stroke-width="5.0"/><path d="M167.2 397.6h0M164.0 412.0h0" stroke="#fff27a" stroke-width="4.0"/><path d="M130.2 407.1h0M139.0 394.0h0" stroke="#ffffff" stroke-width="4.0"/><path d="M162.4 422.3h0" stroke="#d8f040" stroke-width="4.0"/><path d="M149.0 404.0h0" stroke="#d8f040" stroke-width="3.0"/></g>
<path d="M114 392L116 426" stroke="#e3262b" stroke-width="1.1" stroke-dasharray="3 1.8"/>
</g>
<clipPath id="cp0_592"><rect x="41" y="592" width="129" height="34"/></clipPath>
<g clip-path="url(#cp0_592)">
<rect x="41" y="592" width="129" height="34" fill="#1a1220"/>
<rect x="96" y="592" width="73" height="34" fill="#3a2038" filter="url(#bl3)"/>
<g stroke-linecap="round" fill="none" filter="url(#bl5)"><path d="M60.0 598.5h0" stroke="#ffd0f4" stroke-width="5.0"/><path d="M54.3 609.0h0M116.0 598.5h0M130.2 609.0h0M145.4 602.3h0M150.1 597.6h0M156.7 598.5h0" stroke="#f080e0" stroke-width="4.0"/><path d="M71.4 604.2h0" stroke="#40e0e0" stroke-width="3.0"/><path d="M67.6 610.9h0M76.1 622.3h0" stroke="#d8f070" stroke-width="4.0"/><path d="M72.3 613.7h0" stroke="#e0ffc0" stroke-width="5.0"/><path d="M78.0 612.8h0M74.2 618.5h0M164.3 615.6h0" stroke="#90e060" stroke-width="4.0"/><path d="M83.7 606.1h0M93.2 602.3h0M122.6 606.1h0" stroke="#ffd0f4" stroke-width="4.0"/><path d="M89.4 593.8h0M98.0 621.3h0M103.6 601.4h0M108.4 593.8h0M127.3 601.4h0M135.9 596.6h0M123.5 617.5h0M139.7 620.4h0" stroke="#e040d0" stroke-width="4.0"/><path d="M118.8 599.5h0" stroke="#ffffff" stroke-width="3.0"/><path d="M136.8 612.8h0M63.8 599.5h0" stroke="#f080e0" stroke-width="3.0"/><path d="M132.0 617.5h0M141.0 625.0h0" stroke="#e040d0" stroke-width="3.0"/><path d="M48.6 612.8h0M159.0 620.0h0M101.0 610.0h0M46.0 597.0h0" stroke="#a040a0" stroke-width="3.0"/><path d="M111.0 612.0h0" stroke="#b050b0" stroke-width="3.0"/><path d="M151.0 608.0h0" stroke="#c060c0" stroke-width="3.0"/><path d="M86.0 617.0h0" stroke="#80c060" stroke-width="3.0"/></g>
<path d="M96 592Q110 604 116 626" fill="none" stroke="#e3262b" stroke-width="1.1" stroke-dasharray="3 1.8"/>
</g>
<clipPath id="cp1_392"><rect x="171" y="392" width="128" height="34"/></clipPath>
<g clip-path="url(#cp1_392)">
<g stroke-linecap="round" fill="none" filter="url(#bl5)"><path d="M178.6 401.4h0M180.5 401.6h0M194.7 394.8h0M199.5 403.3h0M206.1 394.8h0M246.9 403.3h0M264.0 421.3h0M274.4 423.2h0" stroke="#ffffff" stroke-width="4.0"/><path d="M184.3 396.6h0M202.0 402.5h0M216.5 408.0h0" stroke="#d8d8d8" stroke-width="3.0"/><path d="M218.0 409.0h0" stroke="#a8a8a8" stroke-width="3.0"/><path d="M199.5 414.7h0M228.0 415.6h0M259.2 396.6h0" stroke="#707070" stroke-width="3.0"/><path d="M178.6 417.5h0M240.3 394.8h0" stroke="#ffffff" stroke-width="3.0"/><path d="M215.6 417.5h0M291.5 409.0h0M291.5 413.7h0" stroke="#707070" stroke-width="2.0"/><path d="M224.0 406.0h0M279.2 410.9h0M294.3 416.6h0M189.0 412.0h0M234.0 422.0h0" stroke="#4a4a4a" stroke-width="2.0"/></g>
<path d="M244 392L246 426" stroke="#e3262b" stroke-width="1.1" stroke-dasharray="3 1.8"/>
</g>
<clipPath id="cp1_592"><rect x="171" y="592" width="128" height="34"/></clipPath>
<g clip-path="url(#cp1_592)">
<rect x="171" y="592" width="128" height="34" fill="#0a0a0a"/>
<g stroke-linecap="round" fill="none" filter="url(#bl5)"><path d="M199.5 603.3h0M200.4 611.8h0M206.1 612.8h0" stroke="#ffffff" stroke-width="4.0"/><path d="M204.2 618.5h0M202.3 620.4h0" stroke="#d8d8d8" stroke-width="4.0"/><path d="M195.7 609.0h0M209.0 607.0h0" stroke="#a8a8a8" stroke-width="3.0"/><path d="M190.0 599.5h0" stroke="#4a4a4a" stroke-width="5.0"/><path d="M182.4 609.0h0M241.0 617.0h0M271.0 600.0h0" stroke="#4a4a4a" stroke-width="3.0"/><path d="M211.8 607.0h0M222.2 601.4h0" stroke="#707070" stroke-width="2.0"/><path d="M217.5 593.8h0" stroke="#707070" stroke-width="3.0"/><path d="M257.3 609.0h0M294.3 616.6h0" stroke="#4a4a4a" stroke-width="4.0"/></g>
<path d="M226 592Q240 604 246 626" fill="none" stroke="#e3262b" stroke-width="1.1" stroke-dasharray="3 1.8"/>
</g>
<clipPath id="cp2_392"><rect x="300" y="392" width="127" height="34"/></clipPath>
<g clip-path="url(#cp2_392)">
<g stroke-linecap="round" fill="none" filter="url(#bl5)"><path d="M307.6 401.4h0M415.7 395.7h0M424.3 396.6h0M387.3 409.9h0" stroke="#d8d8d8" stroke-width="3.0"/><path d="M316.0 392.8h0M324.7 394.8h0M328.5 403.3h0M383.5 394.8h0M391.0 414.7h0M413.9 416.6h0M404.4 423.2h0" stroke="#a8a8a8" stroke-width="3.0"/><path d="M329.4 409.9h0M346.5 407.0h0M346.5 417.5h0M379.7 407.0h0M381.6 418.5h0M395.0 402.0h0M410.0 401.0h0" stroke="#707070" stroke-width="2.0"/><path d="M308.5 417.5h0" stroke="#4a4a4a" stroke-width="2.0"/><path d="M400.6 399.5h0M400.6 409.9h0M406.3 408.0h0M412.9 409.0h0M423.3 409.0h0M402.5 415.6h0M424.3 421.3h0" stroke="#ffffff" stroke-width="4.0"/><path d="M419.5 422.3h0" stroke="#ffffff" stroke-width="5.0"/></g>
<path d="M373 392L375 426" stroke="#e3262b" stroke-width="1.1" stroke-dasharray="3 1.8"/>
</g>
<clipPath id="cp2_592"><rect x="300" y="592" width="127" height="34"/></clipPath>
<g clip-path="url(#cp2_592)">
<rect x="300" y="592" width="127" height="34" fill="#161616"/>
<rect x="362" y="592" width="66" height="34" fill="#2c2c2c" filter="url(#bl3)"/>
<g stroke-linecap="round" fill="none" filter="url(#bl5)"><path d="M324.7 610.9h0M335.1 612.8h0M330.4 616.6h0M340.8 606.1h0M350.3 601.4h0M372.1 601.4h0" stroke="#ffffff" stroke-width="4.0"/><path d="M328.5 612.8h0" stroke="#ffffff" stroke-width="5.0"/><path d="M332.3 622.3h0M317.1 598.5h0" stroke="#d8d8d8" stroke-width="4.0"/><path d="M317.1 603.3h0M354.1 604.2h0M379.7 607.0h0M394.9 609.0h0M379.7 620.4h0M398.7 621.3h0M406.3 597.6h0M413.9 597.6h0M421.4 600.4h0" stroke="#a8a8a8" stroke-width="3.0"/><path d="M345.5 611.8h0" stroke="#a8a8a8" stroke-width="2.0"/><path d="M311.4 609.0h0" stroke="#4a4a4a" stroke-width="4.0"/><path d="M382.5 599.5h0" stroke="#d8d8d8" stroke-width="3.0"/><path d="M387.3 606.1h0" stroke="#707070" stroke-width="5.0"/><path d="M423.3 616.6h0" stroke="#707070" stroke-width="4.0"/><path d="M366.0 612.0h0M390.0 616.0h0M410.0 610.0h0M417.0 621.0h0" stroke="#707070" stroke-width="3.0"/><path d="M402.0 604.0h0M374.0 622.0h0M360.0 596.0h0" stroke="#707070" stroke-width="2.0"/></g>
<path d="M355 592Q369 604 375 626" fill="none" stroke="#e3262b" stroke-width="1.1" stroke-dasharray="3 1.8"/>
</g>
<clipPath id="cp3_392"><rect x="428" y="392" width="128" height="34"/></clipPath>
<g clip-path="url(#cp3_392)">
<g stroke-linecap="round" fill="none" filter="url(#bl5)"><path d="M445.0 392.8h0M459.3 409.0h0" stroke="#4a4a4a" stroke-width="2.0"/><path d="M510.5 393.8h0M543.7 395.7h0" stroke="#d8d8d8" stroke-width="3.0"/><path d="M524.8 398.5h0M529.5 399.5h0M509.6 408.0h0M516.2 409.9h0M520.0 414.3h0M531.4 414.7h0M541.9 409.0h0M553.2 408.0h0M545.6 424.2h0" stroke="#ffffff" stroke-width="4.0"/><path d="M533.3 409.0h0" stroke="#d8d8d8" stroke-width="4.0"/><path d="M554.2 397.6h0M524.8 421.3h0M536.0 403.0h0" stroke="#a8a8a8" stroke-width="3.0"/><path d="M507.7 418.5h0M538.0 418.5h0M513.4 403.3h0" stroke="#707070" stroke-width="3.0"/><path d="M549.4 422.3h0" stroke="#ffffff" stroke-width="5.0"/><path d="M520.0 394.0h0" stroke="#707070" stroke-width="2.0"/></g>
<path d="M501 392L503 426" stroke="#e3262b" stroke-width="1.1" stroke-dasharray="3 1.8"/>
</g>
<clipPath id="cp3_592"><rect x="428" y="592" width="128" height="34"/></clipPath>
<g clip-path="url(#cp3_592)">
<rect x="428" y="592" width="128" height="34" fill="#161616"/>
<rect x="490" y="592" width="66" height="34" fill="#2c2c2c" filter="url(#bl3)"/>
<g stroke-linecap="round" fill="none" filter="url(#bl5)"><path d="M453.5 610.9h0M463.9 612.8h0M459.2 616.6h0M469.6 606.1h0M479.1 601.4h0M500.9 601.4h0" stroke="#ffffff" stroke-width="4.0"/><path d="M457.3 612.8h0" stroke="#ffffff" stroke-width="5.0"/><path d="M461.1 622.3h0M445.9 598.5h0" stroke="#d8d8d8" stroke-width="4.0"/><path d="M445.9 603.3h0M482.9 604.2h0M508.5 607.0h0M523.7 609.0h0M508.5 620.4h0M527.5 621.3h0M535.1 597.6h0M542.7 597.6h0M550.2 600.4h0" stroke="#a8a8a8" stroke-width="3.0"/><path d="M474.3 611.8h0" stroke="#a8a8a8" stroke-width="2.0"/><path d="M440.2 609.0h0" stroke="#4a4a4a" stroke-width="4.0"/><path d="M511.3 599.5h0" stroke="#d8d8d8" stroke-width="3.0"/><path d="M516.1 606.1h0" stroke="#707070" stroke-width="5.0"/><path d="M552.1 616.6h0" stroke="#707070" stroke-width="4.0"/><path d="M494.8 612.0h0M518.8 616.0h0M538.8 610.0h0M545.8 621.0h0" stroke="#707070" stroke-width="3.0"/><path d="M530.8 604.0h0M502.8 622.0h0M488.8 596.0h0" stroke="#707070" stroke-width="2.0"/></g>
<path d="M483 592Q497 604 503 626" fill="none" stroke="#e3262b" stroke-width="1.1" stroke-dasharray="3 1.8"/>
</g>
<clipPath id="cp4_392"><rect x="557" y="392" width="127" height="34"/></clipPath>
<g clip-path="url(#cp4_392)">
<rect x="557" y="392" width="127" height="34" fill="#121212"/>
<g stroke-linecap="round" fill="none" filter="url(#bl5)"><path d="M577.0 395.7h0" stroke="#ffffff" stroke-width="3.0"/><path d="M586.4 402.3h0M588.5 402.8h0M587.4 413.7h0M638.6 408.0h0M634.8 415.6h0M660.4 409.9h0M671.8 409.0h0" stroke="#ffffff" stroke-width="4.0"/><path d="M570.3 409.9h0M614.0 397.6h0M675.0 419.0h0" stroke="#707070" stroke-width="3.0"/><path d="M579.8 410.9h0M605.4 409.0h0M607.3 418.5h0M651.0 423.0h0" stroke="#707070" stroke-width="2.0"/><path d="M595.9 423.2h0M646.2 409.0h0M661.4 415.6h0M678.4 397.6h0M682.2 409.0h0M669.0 424.2h0M642.4 393.8h0" stroke="#a8a8a8" stroke-width="3.0"/><path d="M627.2 393.8h0" stroke="#d8d8d8" stroke-width="3.0"/><path d="M650.0 414.7h0" stroke="#ffffff" stroke-width="5.0"/><path d="M655.7 398.5h0M663.3 409.0h0" stroke="#d8d8d8" stroke-width="4.0"/><path d="M565.0 400.0h0M619.0 414.0h0" stroke="#4a4a4a" stroke-width="2.0"/><path d="M597.0 404.0h0" stroke="#4a4a4a" stroke-width="3.0"/></g>
<path d="M630 392L632 426" stroke="#e3262b" stroke-width="1.1" stroke-dasharray="3 1.8"/>
</g>
<clipPath id="cp4_592"><rect x="557" y="592" width="127" height="34"/></clipPath>
<g clip-path="url(#cp4_592)">
<rect x="557" y="592" width="127" height="34" fill="#1c1c1c"/>
<g stroke-linecap="round" fill="none" filter="url(#bl5)"><path d="M576.0 599.5h0M569.3 609.0h0M598.7 605.2h0M605.4 594.8h0M608.2 603.3h0M632.0 599.5h0M634.5 600.0h0M638.6 606.1h0M649.5 608.0h0M651.9 596.6h0M665.2 598.5h0M640.5 615.6h0" stroke="#ffffff" stroke-width="4.0"/><path d="M587.4 615.6h0M614.0 621.3h0M622.5 593.8h0M653.8 609.0h0M656.6 592.8h0M661.4 603.3h0M672.7 593.8h0" stroke="#d8d8d8" stroke-width="3.0"/><path d="M614.0 604.2h0M634.8 613.7h0M680.3 600.4h0M678.4 614.7h0" stroke="#a8a8a8" stroke-width="3.0"/><path d="M641.4 599.5h0M656.6 620.4h0" stroke="#d8d8d8" stroke-width="4.0"/><path d="M647.1 607.1h0" stroke="#ffffff" stroke-width="5.0"/><path d="M623.4 612.8h0M591.2 618.5h0M562.0 620.0h0M579.0 622.0h0M667.0 617.0h0M627.0 622.0h0" stroke="#707070" stroke-width="3.0"/></g>
<path d="M612 592Q626 604 632 626" fill="none" stroke="#e3262b" stroke-width="1.1" stroke-dasharray="3 1.8"/>
</g>
<rect x="560" y="417.8" width="16.3" height="4" fill="#fff"/>
<rect x="560" y="618.1" width="20.8" height="3.8" fill="#fff"/>
<g fill="#fff"><rect x="40" y="215" width="1" height="211"/><rect x="40" y="436" width="1" height="190"/><rect x="40" y="235" width="644" height="1"/><rect x="40" y="391" width="644" height="1"/><rect x="40" y="591" width="644" height="1"/></g>
<path d="M170.6 215V426M170.6 436V626" stroke="#d0d0d0" stroke-width="1" stroke-dasharray="3 1.5"/>
<path d="M299.6 215V426M299.6 436V626" stroke="#d0d0d0" stroke-width="1" stroke-dasharray="3 1.5"/>
<path d="M427.6 215V426M427.6 436V626" stroke="#d0d0d0" stroke-width="1" stroke-dasharray="3 1.5"/>
<path d="M556.6 215V426M556.6 436V626" stroke="#d0d0d0" stroke-width="1" stroke-dasharray="3 1.5"/>
<text x="92.20" y="227.90" font-size="9.46" fill="#fff" stroke="#fff" stroke-width="0.12" textLength="26.30" lengthAdjust="spacingAndGlyphs">Merge</text>
<text x="182.10" y="227.90" font-size="9.46" fill="#26d2e4" stroke="#26d2e4" stroke-width="0.12" textLength="103.40" lengthAdjust="spacingAndGlyphs">BODIPY-MC3 (Free lipid)</text>
<text x="307.20" y="227.90" font-size="9.46" fill="#24d824" stroke="#24d824" stroke-width="0.12" textLength="115.60" lengthAdjust="spacingAndGlyphs">BODIPY-MC3 (Dense lipids)</text>
<text x="479.60" y="227.90" font-size="9.46" fill="#f08c38" stroke="#f08c38" stroke-width="0.12" textLength="22.50" lengthAdjust="spacingAndGlyphs">FRET</text>
<text x="609.40" y="227.90" font-size="9.46" fill="#dc20d0" stroke="#dc20d0" stroke-width="0.12" textLength="19.70" lengthAdjust="spacingAndGlyphs">RNA</text>
<text x="34.30" y="335.50" font-size="9.24" fill="#fff" stroke="#fff" stroke-width="0.12" text-anchor="middle" textLength="48.00" lengthAdjust="spacingAndGlyphs" transform="rotate(-90 34.30 335.50)">siRNA-LNP</text>
<text x="34.30" y="535.50" font-size="9.24" fill="#fff" stroke="#fff" stroke-width="0.12" text-anchor="middle" textLength="49.20" lengthAdjust="spacingAndGlyphs" transform="rotate(-90 34.30 535.50)">mRNA-LNP</text>
<text x="50.40" y="668.00" font-size="18.4" fill="#000" font-weight="bold">c</text>
<text x="76.00" y="724.90" font-size="9.02" fill="#222" stroke="#222" stroke-width="0.05" text-anchor="middle" textLength="94.40" lengthAdjust="spacingAndGlyphs" transform="rotate(-90 76.00 724.90)">Mean norm. distance (<tspan font-style="italic">d</tspan>)</text>
<text x="86.00" y="725.00" font-size="9.02" fill="#222" stroke="#222" stroke-width="0.05" text-anchor="middle" textLength="79.30" lengthAdjust="spacingAndGlyphs" transform="rotate(-90 86.00 725.00)">from nucleus per cell</text>
<path d="M111 784.60H114.6" stroke="#999" stroke-width="0.8"/>
<text x="108.90" y="787.80" font-size="9.68" fill="#222" stroke="#222" stroke-width="0.05" text-anchor="end" textLength="13.50" lengthAdjust="spacingAndGlyphs">0.0</text>
<path d="M111 761.20H114.6" stroke="#999" stroke-width="0.8"/>
<text x="108.90" y="764.40" font-size="9.68" fill="#222" stroke="#222" stroke-width="0.05" text-anchor="end" textLength="13.50" lengthAdjust="spacingAndGlyphs">0.2</text>
<path d="M111 737.80H114.6" stroke="#999" stroke-width="0.8"/>
<text x="108.90" y="741.00" font-size="9.68" fill="#222" stroke="#222" stroke-width="0.05" text-anchor="end" textLength="13.50" lengthAdjust="spacingAndGlyphs">0.4</text>
<path d="M111 714.40H114.6" stroke="#999" stroke-width="0.8"/>
<text x="108.90" y="717.60" font-size="9.68" fill="#222" stroke="#222" stroke-width="0.05" text-anchor="end" textLength="13.50" lengthAdjust="spacingAndGlyphs">0.6</text>
<path d="M111 691.00H114.6" stroke="#999" stroke-width="0.8"/>
<text x="108.90" y="694.20" font-size="9.68" fill="#222" stroke="#222" stroke-width="0.05" text-anchor="end" textLength="13.50" lengthAdjust="spacingAndGlyphs">0.8</text>
<path d="M111 667.60H114.6" stroke="#999" stroke-width="0.8"/>
<text x="108.90" y="670.80" font-size="9.68" fill="#222" stroke="#222" stroke-width="0.05" text-anchor="end" textLength="13.50" lengthAdjust="spacingAndGlyphs">1.0</text>
<rect x="114.6" y="667.6" width="318.7" height="117.0" fill="none" stroke="#8a8a8a" stroke-width="0.8"/>
<path d="M272.5 667.6V784.6" stroke="#bbb" stroke-width="0.7" stroke-dasharray="2.2 1.6"/>
<text x="167.40" y="679.00" font-size="9.68" fill="#222" stroke="#222" stroke-width="0.05" textLength="48.10" lengthAdjust="spacingAndGlyphs">siRNA-LNP</text>
<text x="329.60" y="678.60" font-size="9.68" fill="#222" stroke="#222" stroke-width="0.05" textLength="49.10" lengthAdjust="spacingAndGlyphs">mRNA-LNP</text>
<path d="M142.2 768.0h0M131.3 743.7h0M133.2 737.0h0M136.3 774.5h0M128.7 766.7h0M132.3 715.6h0M138.9 771.8h0M139.7 767.9h0M137.2 714.3h0M141.4 735.7h0M138.4 752.2h0M133.4 742.9h0M137.5 733.0h0M133.9 758.4h0M139.3 767.4h0M134.4 724.8h0M132.1 732.5h0M140.3 742.8h0M138.4 722.9h0M139.3 740.4h0M136.4 712.1h0M140.5 763.0h0M135.0 740.1h0M136.5 744.7h0M131.4 753.3h0M136.6 737.6h0M140.6 761.0h0M138.5 723.8h0M139.8 719.6h0M135.7 768.0h0M139.6 745.8h0M131.1 758.3h0M139.9 771.0h0M134.3 717.7h0M131.7 748.2h0M137.6 766.7h0M135.3 732.3h0M134.6 763.2h0M139.5 717.3h0M129.9 762.2h0M137.0 774.2h0M134.4 763.3h0M136.1 753.8h0M135.8 745.7h0M131.9 717.0h0M135.9 730.7h0M139.4 754.2h0M132.5 775.3h0M128.2 765.9h0M131.5 711.1h0M135.4 746.3h0M140.5 731.1h0M131.2 772.8h0M140.7 774.2h0M136.3 721.0h0M130.0 737.9h0M135.0 756.2h0M132.9 755.6h0M138.2 770.6h0M136.5 765.1h0M133.7 774.8h0M132.4 721.4h0M139.5 745.9h0M139.3 768.1h0M135.2 728.0h0M134.2 763.6h0M138.2 772.4h0M142.9 737.2h0M131.1 717.7h0M132.4 774.6h0M134.0 723.7h0M135.9 764.0h0M131.0 770.3h0M131.3 775.2h0M132.8 757.2h0M134.7 728.8h0M138.3 744.1h0M137.3 720.5h0M128.2 762.2h0M131.3 755.8h0M135.2 759.5h0M139.5 712.3h0M139.9 714.8h0M134.5 754.1h0M139.7 747.8h0M140.1 755.8h0M134.9 727.5h0M138.3 773.8h0M134.4 772.0h0M132.3 749.9h0M136.9 760.0h0M130.5 758.8h0M138.1 767.7h0M140.9 764.9h0M142.4 761.9h0M135.1 759.8h0M129.6 762.6h0M142.3 765.3h0M141.9 762.8h0M143.6 763.6h0M137.4 764.0h0M138.6 765.3h0M133.7 762.6h0M130.6 762.8h0M132.3 763.8h0M139.5 764.1h0M133.2 766.5h0M138.9 764.7h0M135.8 760.7h0M135.0 764.0h0M142.6 766.9h0M130.9 760.4h0M135.6 762.3h0M131.5 758.6h0M143.1 763.4h0M135.6 739.1h0M133.6 742.0h0M131.8 733.9h0M136.7 730.3h0M134.3 740.2h0M130.2 739.7h0M129.1 736.1h0M134.2 740.2h0M137.1 738.6h0M136.1 738.8h0M141.8 737.2h0M141.3 734.6h0M142.5 737.7h0M139.8 735.1h0M135.5 739.0h0M136.2 736.8h0M134.7 744.1h0M134.5 742.0h0M129.4 735.5h0M140.3 739.5h0M132.1 736.1h0M129.0 736.2h0M135.4 733.9h0M138.8 735.4h0M134.9 734.8h0M133.7 738.1h0M138.2 739.8h0M130.9 739.9h0M128.4 739.2h0M137.1 741.1h0M136.2 723.9h0M140.9 722.8h0M134.6 722.0h0M139.7 723.4h0M131.0 727.1h0M129.3 722.8h0M137.2 722.1h0M132.1 720.1h0M129.8 721.2h0M131.1 724.1h0M134.2 724.3h0M134.0 717.9h0M136.7 720.8h0M140.4 718.3h0M134.4 717.6h0M131.8 724.5h0M136.9 721.7h0M128.9 721.5h0M134.2 721.3h0M133.3 721.3h0M134.2 722.1h0M129.5 722.2h0M136.3 707.4h0M137.0 709.1h0M138.3 777.0h0M140.4 775.8h0" stroke="#2b87d2" stroke-width="4.4" stroke-linecap="round" stroke-opacity="0.97" fill="none"/>
<path d="M155.1 767.4V761.3M155.1 731.0V719.3M152.9 767.4h4.4M152.9 719.3h4.4" stroke="#333" stroke-width="0.6" fill="none"/>
<rect x="150.7" y="731.0" width="8.8" height="30.3" fill="#5aaae3" stroke="#333" stroke-width="0.6"/>
<path d="M150.7 745.3H159.5" stroke="#222" stroke-width="0.8"/>
<path d="M185.2 762.0h0M181.0 735.7h0M181.6 743.0h0M179.0 728.1h0M180.9 736.0h0M184.7 715.0h0M185.5 725.0h0M187.9 725.4h0M183.4 732.4h0M180.1 734.7h0M178.8 730.9h0M183.4 721.4h0M180.3 729.0h0M185.5 737.8h0M189.6 721.6h0M189.6 732.4h0M180.7 735.1h0M179.7 742.2h0M179.6 739.9h0M184.9 740.6h0M185.5 762.1h0M188.2 724.2h0M179.0 728.6h0M181.7 736.4h0M188.1 723.9h0M187.0 729.9h0M186.1 730.6h0M186.8 759.0h0M179.4 736.6h0M180.7 729.0h0M186.3 718.2h0M186.1 715.9h0M190.2 720.1h0M190.7 745.9h0M186.1 756.2h0M190.0 728.6h0M189.2 734.0h0M180.8 724.7h0M187.5 735.5h0M182.4 732.1h0M184.8 749.2h0M180.0 729.8h0M178.3 738.7h0M191.9 730.8h0M189.5 729.7h0M190.1 735.5h0M182.1 731.1h0M184.4 734.4h0M180.9 726.7h0M187.5 729.3h0M190.8 739.7h0M189.8 740.1h0M188.2 716.9h0M181.7 735.3h0M188.4 724.4h0M179.4 730.4h0M186.3 739.9h0M180.7 741.8h0M186.5 733.1h0M186.5 731.7h0M183.3 728.2h0M184.4 746.9h0M188.8 740.2h0M185.5 735.2h0M185.1 718.3h0M184.7 757.8h0M182.1 729.9h0M190.9 739.7h0M193.9 730.0h0M183.9 739.2h0M192.2 730.7h0M188.5 718.7h0M180.9 730.8h0M181.9 730.0h0M189.2 730.6h0M183.2 741.8h0M193.4 728.9h0M183.6 736.4h0M188.7 742.4h0M189.4 734.7h0M181.1 736.6h0M191.3 726.8h0M182.8 734.7h0M180.0 739.6h0M182.0 719.8h0M185.2 724.4h0M187.2 721.6h0M182.1 728.2h0M191.6 735.4h0M182.2 738.5h0M191.4 737.1h0M179.4 724.8h0M181.6 733.2h0M183.1 749.1h0M184.9 734.7h0M184.6 748.4h0M183.9 732.6h0M189.2 746.3h0M186.5 746.9h0M187.7 733.1h0M183.9 735.1h0M187.8 750.9h0M185.8 726.8h0M186.4 712.7h0M189.1 749.1h0M186.4 716.2h0M184.9 741.1h0M182.2 739.2h0M192.7 736.1h0M187.9 748.7h0M188.9 721.3h0M181.1 729.4h0M185.0 741.8h0M192.0 737.1h0M183.9 749.4h0M190.8 737.8h0M186.3 725.0h0M184.2 751.4h0M183.9 738.6h0M178.3 732.8h0M188.0 723.8h0M188.0 720.8h0M178.6 738.8h0M183.2 741.7h0M190.4 729.8h0M181.0 737.9h0M186.4 737.4h0M189.7 723.5h0M186.2 717.4h0M179.2 731.6h0M192.7 736.2h0M189.8 728.6h0M186.1 753.1h0M182.9 734.5h0M186.7 744.9h0M185.6 710.5h0M179.9 727.1h0M179.2 732.9h0M178.2 736.2h0M185.0 759.4h0M181.8 727.2h0M186.7 718.1h0M186.9 741.6h0M187.2 727.5h0M190.8 727.1h0M182.8 749.7h0M184.3 725.0h0M181.7 720.8h0M184.4 732.0h0M178.5 734.9h0M179.2 726.4h0M182.9 749.6h0M183.9 733.4h0M189.1 723.8h0M183.7 746.7h0M189.0 724.4h0M181.6 738.5h0M185.0 755.0h0M185.3 735.3h0M180.9 744.0h0M184.9 731.1h0M186.7 746.0h0M189.9 723.8h0M179.9 741.7h0M191.0 730.7h0M186.8 740.2h0M187.0 737.5h0M180.6 722.4h0M192.5 732.1h0M182.3 738.2h0M186.3 746.8h0M186.2 722.7h0M192.2 727.0h0M187.4 737.5h0M194.4 731.9h0M182.8 744.6h0M187.7 744.4h0M186.8 742.5h0M186.0 730.8h0M188.0 731.3h0M186.5 741.7h0M183.3 726.9h0M187.9 726.5h0M178.5 732.6h0M185.5 723.9h0M185.0 737.2h0M180.9 735.4h0M187.0 729.6h0M188.7 734.6h0M180.3 726.4h0M183.8 746.8h0M181.8 720.1h0M187.1 742.1h0M178.8 735.9h0M183.4 748.0h0M184.9 728.3h0M185.3 721.6h0M179.9 723.6h0M192.4 726.0h0M184.0 749.8h0M187.3 742.1h0M181.6 738.9h0M186.9 743.6h0M184.0 723.1h0M182.6 732.5h0M185.4 734.5h0M187.3 729.4h0M187.0 743.8h0M188.1 743.3h0M182.9 743.1h0M178.9 729.3h0M181.5 730.9h0M183.0 728.5h0M187.2 723.5h0M185.0 747.8h0M183.1 739.9h0M178.7 732.8h0M186.7 747.7h0M180.0 739.6h0M186.0 724.2h0M188.1 723.3h0M187.4 723.6h0M179.8 733.9h0M183.4 736.4h0M191.4 723.5h0M179.3 738.0h0M188.9 730.9h0M185.2 721.1h0M187.6 738.0h0M184.3 740.4h0M179.3 734.4h0M186.8 728.3h0M177.4 729.5h0M192.2 732.7h0M190.8 728.7h0M184.9 750.2h0M186.3 742.9h0M186.3 732.7h0M191.5 743.5h0M181.8 747.7h0M183.8 746.3h0M184.7 743.4h0M190.6 736.1h0M188.5 744.5h0M184.5 731.9h0M182.8 717.4h0M188.3 735.8h0M184.8 721.6h0M179.1 731.4h0M187.2 745.5h0M184.9 736.8h0M183.6 744.1h0M182.3 726.6h0M186.0 745.8h0M183.4 721.1h0M184.1 728.5h0M187.5 754.4h0M185.5 726.5h0M183.9 718.8h0M186.1 742.2h0M186.6 700.4h0M186.5 705.0h0M186.2 765.9h0M187.0 756.5h0" stroke="#6a3a96" stroke-width="4.4" stroke-linecap="round" stroke-opacity="0.97" fill="none"/>
<path d="M205.3 747.6V739.4M205.3 726.6V718.4M203.2 747.6h4.4M203.2 718.4h4.4" stroke="#333" stroke-width="0.6" fill="none"/>
<rect x="201.0" y="726.6" width="8.7" height="12.8" fill="#9a7cc0" stroke="#333" stroke-width="0.6"/>
<path d="M201.0 734.2H209.7" stroke="#222" stroke-width="0.8"/>
<path d="M240.8 731.2h0M235.6 742.4h0M237.4 722.3h0M242.7 734.1h0M238.5 746.8h0M229.5 733.2h0M237.3 746.9h0M239.0 740.7h0M243.1 731.8h0M235.1 739.9h0M232.3 722.6h0M235.8 744.6h0M233.8 729.6h0M234.3 727.1h0M238.2 719.2h0M237.8 723.9h0M239.1 729.9h0M238.7 731.2h0M229.8 732.4h0M231.5 722.0h0M234.7 737.6h0M241.5 727.4h0M238.6 732.7h0M241.0 729.8h0M238.0 734.1h0M237.0 713.4h0M242.4 737.6h0M239.7 729.7h0M242.3 729.5h0M243.1 726.6h0M239.9 727.9h0M241.2 728.2h0M231.2 723.3h0M232.4 744.9h0M243.4 731.8h0M233.5 742.5h0M232.6 729.8h0M232.4 742.1h0M237.5 740.2h0M227.9 732.4h0M238.3 719.7h0M233.0 726.8h0M240.1 729.3h0M239.2 719.7h0M238.1 740.0h0M235.7 750.0h0M237.9 735.5h0M241.7 734.2h0M238.0 721.1h0M235.2 713.3h0M231.7 743.4h0M236.9 710.4h0M236.8 718.3h0M230.5 724.6h0M236.8 728.6h0M236.2 710.8h0M232.4 731.1h0M241.6 735.9h0M231.4 730.6h0M232.9 743.7h0M232.9 727.7h0M233.2 732.8h0M242.5 729.0h0M238.6 728.7h0M232.0 741.0h0M235.1 720.4h0M231.7 740.6h0M238.6 724.1h0M238.6 745.6h0M229.2 728.6h0M236.0 738.9h0M231.5 731.5h0M233.1 737.5h0M236.9 750.7h0M240.9 741.5h0M232.1 731.2h0M236.6 726.4h0M234.5 744.6h0M234.3 750.2h0M237.2 739.4h0M230.3 733.6h0M238.5 737.3h0M238.9 738.8h0M231.5 724.4h0M237.1 723.4h0M232.0 725.4h0M238.9 739.9h0M232.2 731.2h0M239.1 733.5h0M237.2 744.2h0M236.9 724.2h0M231.0 731.1h0M240.8 736.0h0M234.9 719.5h0M239.6 725.2h0M235.7 724.4h0M235.5 721.4h0M238.9 725.6h0M234.5 742.8h0M240.0 735.2h0M235.4 723.1h0M239.0 738.5h0M239.5 731.5h0M243.4 728.4h0M235.3 719.3h0M234.7 720.6h0M241.9 724.0h0M236.3 733.4h0M235.0 723.9h0M239.1 727.3h0M231.8 733.2h0M239.8 720.1h0M240.0 727.5h0M237.8 738.4h0M234.1 720.9h0M241.0 734.0h0M242.3 726.7h0M238.3 745.1h0M243.2 732.0h0M231.5 740.0h0M238.7 740.3h0M237.9 748.4h0M235.9 713.3h0M228.9 733.2h0M236.7 729.8h0M233.4 722.3h0M228.1 732.9h0M242.8 727.4h0M238.9 743.6h0M238.4 730.2h0M239.7 735.5h0M238.7 727.5h0M235.3 730.3h0M232.7 743.9h0M234.8 747.9h0M236.1 740.7h0M237.1 725.5h0M232.7 728.2h0M229.8 728.4h0M235.3 749.4h0M235.4 755.2h0M241.7 737.3h0M231.7 734.8h0M234.6 737.1h0M236.7 728.8h0M231.8 733.4h0M235.9 742.2h0M236.6 739.5h0M228.1 730.7h0M243.9 731.3h0M236.7 732.6h0M234.9 712.3h0M243.8 734.2h0M230.2 730.9h0M238.4 740.6h0M235.7 735.0h0M232.2 727.4h0M234.1 727.0h0M235.7 733.3h0M233.9 728.5h0M231.5 731.5h0M235.6 748.2h0M235.9 760.3h0M236.6 711.9h0M232.0 724.7h0M228.2 732.4h0M238.0 747.0h0M232.0 743.0h0M237.1 720.2h0M236.1 756.1h0M243.4 734.8h0M232.1 724.4h0M242.8 730.7h0M230.9 725.4h0M230.4 733.1h0M236.4 711.2h0M232.4 740.9h0M236.8 743.8h0M239.0 729.6h0M233.1 719.6h0M241.0 732.4h0M235.2 722.9h0M242.5 736.6h0M231.3 742.2h0M232.7 719.8h0M236.8 718.4h0M234.4 718.7h0M234.5 735.7h0M240.1 742.0h0M234.4 742.1h0M228.6 733.9h0M230.6 726.9h0M236.9 727.5h0M238.3 744.4h0M240.5 730.3h0M235.5 731.8h0M231.4 731.2h0M229.5 732.2h0M231.4 733.7h0M231.5 726.8h0M243.2 730.9h0M234.4 730.0h0M231.1 737.9h0M238.3 728.5h0M235.3 733.0h0M234.2 750.3h0M243.8 727.8h0M243.2 734.2h0M233.2 723.9h0M241.6 733.4h0M235.2 732.8h0M239.0 730.1h0M238.7 732.1h0M239.3 735.8h0M235.7 747.5h0M234.3 716.0h0M238.3 745.6h0M235.1 734.9h0M235.2 726.3h0M240.3 728.7h0M238.9 727.0h0M242.8 725.3h0M235.0 721.0h0M238.3 729.4h0M235.2 706.8h0M231.9 740.7h0M231.7 730.0h0M232.6 735.1h0M235.3 736.7h0M231.3 729.5h0M239.2 719.3h0M235.1 738.1h0M234.5 738.1h0M241.6 725.7h0M240.6 727.2h0M237.1 715.0h0M240.7 723.0h0M240.1 730.0h0M233.0 734.8h0M244.1 730.1h0M228.2 733.5h0M239.5 743.8h0M234.6 731.9h0M233.3 733.5h0M235.6 734.0h0M234.5 735.7h0M238.1 717.3h0M240.4 725.9h0M239.0 723.8h0M232.4 737.2h0M235.4 740.8h0M229.2 734.4h0M240.2 729.8h0M228.9 734.9h0M234.3 733.6h0M231.8 723.6h0M242.1 729.4h0M240.5 740.5h0M232.8 735.7h0M240.8 737.6h0M235.4 698.0h0M236.4 702.7h0M235.5 763.5h0M235.9 758.9h0" stroke="#cab894" stroke-width="4.4" stroke-linecap="round" stroke-opacity="0.97" fill="none"/>
<path d="M255.6 745.5V737.7M255.6 726.3V719.0M253.4 745.5h4.4M253.4 719.0h4.4" stroke="#333" stroke-width="0.6" fill="none"/>
<rect x="251.2" y="726.3" width="8.8" height="11.4" fill="#d8caa9" stroke="#333" stroke-width="0.6"/>
<path d="M251.2 732.1H260.0" stroke="#222" stroke-width="0.8"/>
<path d="M308.2 742.1h0M304.7 761.2h0M299.4 732.6h0M307.8 768.8h0M302.9 759.2h0M299.5 743.3h0M298.4 757.8h0M299.4 716.5h0M300.4 722.5h0M299.9 771.9h0M299.4 747.7h0M308.4 767.4h0M303.1 767.7h0M297.7 768.3h0M300.0 762.2h0M300.9 757.9h0M299.3 725.5h0M301.3 742.4h0M301.9 747.7h0M307.3 750.4h0M300.9 766.9h0M304.4 760.3h0M303.3 735.8h0M297.3 741.9h0M302.8 745.2h0M301.3 770.8h0M296.6 745.4h0M299.3 773.8h0M308.4 768.3h0M296.1 742.0h0M307.0 758.8h0M300.9 729.6h0M298.5 772.3h0M308.4 742.2h0M302.7 722.7h0M301.3 715.4h0M306.5 750.1h0M302.9 713.7h0M300.6 765.5h0M304.8 760.3h0M305.0 741.5h0M297.2 765.9h0M305.2 746.2h0M306.9 739.9h0M304.7 746.7h0M306.0 765.4h0M308.8 749.4h0M303.5 724.5h0M301.4 767.3h0M302.4 737.1h0M305.9 747.2h0M302.7 729.2h0M295.7 742.6h0M297.3 738.5h0M300.2 731.2h0M304.0 729.0h0M297.9 765.8h0M299.5 740.7h0M306.1 750.4h0M296.5 742.5h0M300.6 714.9h0M298.3 749.7h0M296.3 769.5h0M305.0 768.3h0M300.5 732.4h0M300.5 760.4h0M299.6 751.1h0M295.0 745.7h0M307.1 747.3h0M297.5 752.8h0M300.7 713.2h0M304.1 738.2h0M299.7 760.2h0M301.9 764.6h0M299.4 762.1h0M302.2 728.3h0M300.5 730.3h0M301.4 736.8h0M295.4 751.0h0M297.1 737.6h0M301.9 749.5h0M306.0 768.2h0M309.6 745.9h0M306.0 759.6h0M302.1 758.9h0M303.6 768.6h0M303.8 754.9h0M305.0 766.4h0M308.6 767.2h0M299.6 760.2h0M301.1 766.8h0M306.1 744.6h0M297.8 760.5h0M296.4 750.6h0M304.0 718.9h0M294.3 746.5h0M306.9 757.4h0M307.3 741.2h0M297.8 753.1h0M304.8 753.6h0M298.7 749.0h0M299.2 754.4h0M308.4 759.3h0M306.9 758.0h0M305.9 745.1h0M300.9 760.1h0M304.4 721.9h0M302.9 745.8h0M302.8 693.3h0M302.3 695.7h0M300.7 700.4h0M302.4 702.7h0M302.8 709.7h0M303.9 716.7h0" stroke="#2b87d2" stroke-width="4.4" stroke-linecap="round" stroke-opacity="0.97" fill="none"/>
<path d="M321.5 772.2V765.5M321.5 742.4V730.5M319.3 772.2h4.4M319.3 730.5h4.4" stroke="#333" stroke-width="0.6" fill="none"/>
<rect x="317.2" y="742.4" width="8.6" height="23.1" fill="#5aaae3" stroke="#333" stroke-width="0.6"/>
<path d="M317.2 757.3H325.8" stroke="#222" stroke-width="0.8"/>
<path d="M348.8 755.3h0M345.0 743.0h0M351.3 723.8h0M354.3 749.0h0M350.5 753.3h0M355.5 735.9h0M351.5 728.4h0M349.4 731.1h0M352.4 744.0h0M353.6 739.0h0M346.5 737.7h0M352.8 729.6h0M350.9 720.3h0M359.6 741.8h0M352.2 728.4h0M347.3 744.1h0M345.5 735.2h0M348.4 749.7h0M349.5 748.1h0M353.0 736.9h0M353.9 749.4h0M354.5 732.4h0M351.0 746.1h0M354.0 740.1h0M352.8 741.6h0M348.7 744.0h0M347.3 739.6h0M350.8 730.5h0M352.3 711.2h0M348.1 752.1h0M354.0 738.0h0M344.0 742.5h0M348.0 749.5h0M354.6 738.1h0M355.8 749.2h0M356.3 741.6h0M353.7 729.0h0M350.9 760.1h0M359.6 738.5h0M353.4 736.6h0M356.8 749.9h0M358.2 735.8h0M347.9 737.5h0M359.3 744.1h0M347.8 729.3h0M353.3 753.3h0M348.6 734.7h0M345.3 743.0h0M352.7 750.9h0M347.2 742.5h0M356.4 744.2h0M351.4 733.0h0M350.0 755.1h0M343.9 742.7h0M354.8 745.2h0M352.9 725.8h0M355.3 751.5h0M350.6 730.7h0M354.5 757.6h0M344.5 737.6h0M358.8 742.1h0M355.9 737.2h0M346.5 747.6h0M354.2 759.5h0M348.5 755.6h0M354.3 728.4h0M347.8 738.9h0M354.3 749.1h0M356.0 732.3h0M346.8 748.0h0M349.5 748.0h0M356.0 752.5h0M351.7 729.7h0M350.5 722.2h0M346.9 750.1h0M345.9 738.2h0M347.4 731.6h0M351.4 720.8h0M352.5 763.8h0M351.1 739.6h0M346.4 734.8h0M350.7 755.1h0M351.7 737.1h0M351.1 739.1h0M353.8 734.1h0M354.5 746.6h0M355.7 737.0h0M352.4 746.8h0M345.3 735.3h0M356.3 739.5h0M356.2 744.6h0M353.9 754.5h0M351.5 725.3h0M356.0 730.5h0M347.0 732.7h0M355.2 747.4h0M353.4 744.4h0M353.2 725.1h0M346.4 734.0h0M357.9 749.2h0M344.1 740.6h0M346.6 739.7h0M352.2 742.9h0M352.8 750.0h0M348.7 729.1h0M348.9 735.4h0M358.6 742.9h0M350.5 756.0h0M351.1 746.6h0M345.5 741.0h0M352.7 732.7h0M355.1 744.5h0M354.5 730.4h0M347.5 739.6h0M350.2 748.0h0M352.2 767.6h0M357.1 752.1h0M354.1 755.1h0M347.3 742.4h0M345.2 737.7h0M350.4 727.7h0M352.4 741.0h0M349.4 751.9h0M352.6 718.5h0M348.1 737.9h0M345.9 743.4h0M353.5 743.4h0M354.4 753.7h0M347.9 734.8h0M349.4 737.3h0M350.3 725.7h0M346.8 730.3h0M354.1 732.5h0M347.5 728.8h0M353.7 743.5h0M353.9 745.0h0M352.4 741.3h0M347.1 752.7h0M344.2 742.1h0M352.1 743.9h0M351.8 734.4h0M343.9 740.9h0M349.4 758.9h0M356.4 740.4h0M350.4 727.2h0M353.1 758.2h0M347.8 747.9h0M348.0 740.5h0M355.7 753.3h0M347.5 745.9h0M351.7 705.0h0M351.9 709.7h0M352.3 768.2h0" stroke="#6a3a96" stroke-width="4.4" stroke-linecap="round" stroke-opacity="0.97" fill="none"/>
<path d="M371.4 754.3V746.4M371.4 733.5V727.0M369.2 754.3h4.4M369.2 727.0h4.4" stroke="#333" stroke-width="0.6" fill="none"/>
<rect x="367.3" y="733.5" width="8.2" height="12.9" fill="#9a7cc0" stroke="#333" stroke-width="0.6"/>
<path d="M367.3 739.9H375.5" stroke="#222" stroke-width="0.8"/>
<path d="M404.0 728.1h0M399.1 738.8h0M399.5 725.2h0M400.3 749.2h0M402.0 733.7h0M405.7 728.8h0M395.1 728.3h0M402.5 746.2h0M403.9 749.8h0M401.8 717.0h0M399.8 739.6h0M401.3 751.4h0M401.6 747.2h0M403.6 734.2h0M398.3 722.1h0M406.3 734.4h0M401.9 721.9h0M397.9 732.1h0M407.4 729.5h0M400.6 724.2h0M405.6 738.4h0M398.3 731.4h0M402.2 738.5h0M397.5 741.1h0M398.7 727.7h0M399.5 743.1h0M395.6 733.7h0M404.6 742.8h0M400.7 735.5h0M399.4 740.1h0M402.2 723.2h0M397.0 733.8h0M400.5 733.8h0M401.8 717.5h0M402.6 746.4h0M400.2 734.9h0M405.1 730.3h0M406.3 728.2h0M409.0 732.1h0M402.2 744.0h0M403.4 716.7h0M408.6 731.8h0M403.9 737.7h0M398.1 746.7h0M403.7 730.6h0M401.9 740.1h0M404.4 739.7h0M397.7 732.9h0M409.6 732.8h0M399.8 743.6h0M405.3 722.1h0M399.2 745.5h0M401.3 746.8h0M404.4 732.0h0M397.5 733.8h0M400.0 734.4h0M403.8 739.5h0M405.7 734.8h0M406.9 741.1h0M401.8 752.4h0M407.2 727.6h0M399.4 745.8h0M403.2 737.6h0M404.7 727.6h0M394.6 735.0h0M403.5 749.8h0M405.2 743.0h0M402.5 734.3h0M404.5 721.2h0M404.5 737.9h0M400.6 750.2h0M404.0 723.4h0M401.7 744.9h0M404.3 737.4h0M406.7 726.1h0M403.9 742.3h0M405.3 740.0h0M406.2 730.3h0M396.8 737.5h0M393.9 732.4h0M397.2 745.2h0M400.9 736.6h0M405.8 746.7h0M401.2 751.6h0M403.4 717.1h0M398.3 730.7h0M397.7 725.9h0M400.6 745.5h0M407.1 735.7h0M408.6 737.5h0M401.8 750.2h0M399.8 729.7h0M404.9 742.9h0M400.4 737.5h0M400.3 751.2h0M404.0 725.1h0M396.6 727.5h0M405.9 731.3h0M406.3 744.9h0M396.3 741.0h0M403.7 722.7h0M394.4 738.3h0M395.4 732.6h0M398.1 734.0h0M406.0 747.1h0M398.8 719.6h0M401.4 756.1h0M400.5 733.1h0M396.3 736.3h0M404.1 752.2h0M397.3 732.0h0M407.4 730.0h0M402.2 734.9h0M403.8 744.0h0M405.2 730.7h0M403.0 723.8h0M406.6 733.1h0M403.2 717.5h0M397.5 726.5h0M396.7 727.4h0M401.2 721.0h0M396.7 742.3h0M402.7 740.8h0M408.0 730.0h0M401.7 730.0h0M399.5 719.7h0M398.2 723.5h0M402.0 733.6h0M405.5 733.1h0M406.1 738.2h0M405.2 739.2h0M401.0 740.1h0M405.5 725.9h0M402.1 740.2h0M404.2 739.0h0M393.2 733.7h0M401.4 740.6h0M395.2 737.7h0M400.7 758.0h0M398.4 731.4h0M402.6 738.4h0M394.5 733.2h0M404.8 731.3h0M401.0 754.4h0M400.9 710.1h0M409.0 733.4h0M404.2 733.1h0M401.2 705.0h0M400.7 761.2h0M401.5 760.0h0" stroke="#cab894" stroke-width="4.4" stroke-linecap="round" stroke-opacity="0.97" fill="none"/>
<path d="M421.2 749.4V743.1M421.2 727.8V722.0M419.1 749.4h4.4M419.1 722.0h4.4" stroke="#333" stroke-width="0.6" fill="none"/>
<rect x="416.9" y="727.8" width="8.7" height="15.3" fill="#d8caa9" stroke="#333" stroke-width="0.6"/>
<path d="M416.9 735.0H425.6" stroke="#222" stroke-width="0.8"/>
<circle cx="119.9" cy="803.0" r="2.6" fill="#2b87d2"/>
<text x="127.60" y="806.00" font-size="9.79" fill="#222" stroke="#222" stroke-width="0.05" textLength="89.80" lengthAdjust="spacingAndGlyphs">Free BODIPY<tspan dy="-3.2" font-size="6.5">+</tspan><tspan dy="3.2"> vesicles</tspan></text>
<circle cx="119.9" cy="815.2" r="2.6" fill="#6a3a96"/>
<text x="127.60" y="818.25" font-size="9.79" fill="#222" stroke="#222" stroke-width="0.05" textLength="96.80" lengthAdjust="spacingAndGlyphs">Dense BODIPY<tspan dy="-3.2" font-size="6.5">+</tspan><tspan dy="3.2"> vesicles</tspan></text>
<circle cx="119.9" cy="827.5" r="2.6" fill="#cab894"/>
<text x="127.60" y="830.50" font-size="9.79" fill="#222" stroke="#222" stroke-width="0.05" textLength="59.40" lengthAdjust="spacingAndGlyphs">FRET<tspan dy="-3.2" font-size="6.5">+</tspan><tspan dy="3.2"> vesicles</tspan></text>
<clipPath id="dgc"><rect x="460.8" y="666.6" width="167.1" height="117.4"/></clipPath>
<g clip-path="url(#dgc)">
<rect x="460.8" y="666.6" width="167.1" height="117.4" fill="#fff"/>
<path d="M459 691.8C461.7 691.3 463.7 690.5 468.0 689.8C472.3 689.1 480.0 688.3 485.0 687.6C490.0 686.9 494.3 686.4 498.0 685.7C501.7 685.0 504.3 684.2 507.0 683.2C509.7 682.2 511.2 681.2 514.0 679.9C516.8 678.6 520.7 676.8 524.0 675.6C527.3 674.4 530.5 673.3 534.0 672.6C537.5 671.9 542.2 671.5 545.0 671.3C547.8 671.1 547.5 670.7 551.0 671.2C554.5 671.7 561.6 672.9 566.3 674.5C571.0 676.1 575.0 678.4 579.4 681.0C583.8 683.6 588.2 687.1 592.6 690.2C597.0 693.3 601.8 697.0 605.7 699.4C609.6 701.8 612.3 703.5 616.2 704.7C620.1 705.9 625.7 706.3 629.0 706.8 L629 786 L459 786 Z" fill="url(#cellg)"/>
<path d="M459 691.8C461.7 691.3 463.7 690.5 468.0 689.8C472.3 689.1 480.0 688.3 485.0 687.6C490.0 686.9 494.3 686.4 498.0 685.7C501.7 685.0 504.3 684.2 507.0 683.2C509.7 682.2 511.2 681.2 514.0 679.9C516.8 678.6 520.7 676.8 524.0 675.6C527.3 674.4 530.5 673.3 534.0 672.6C537.5 671.9 542.2 671.5 545.0 671.3C547.8 671.1 547.5 670.7 551.0 671.2C554.5 671.7 561.6 672.9 566.3 674.5C571.0 676.1 575.0 678.4 579.4 681.0C583.8 683.6 588.2 687.1 592.6 690.2C597.0 693.3 601.8 697.0 605.7 699.4C609.6 701.8 612.3 703.5 616.2 704.7C620.1 705.9 625.7 706.3 629.0 706.8" fill="none" stroke="#6a30a0" stroke-width="3.9"/>
<path d="M459 691.8C461.7 691.3 463.7 690.5 468.0 689.8C472.3 689.1 480.0 688.3 485.0 687.6C490.0 686.9 494.3 686.4 498.0 685.7C501.7 685.0 504.3 684.2 507.0 683.2C509.7 682.2 511.2 681.2 514.0 679.9C516.8 678.6 520.7 676.8 524.0 675.6C527.3 674.4 530.5 673.3 534.0 672.6C537.5 671.9 542.2 671.5 545.0 671.3C547.8 671.1 547.5 670.7 551.0 671.2C554.5 671.7 561.6 672.9 566.3 674.5C571.0 676.1 575.0 678.4 579.4 681.0C583.8 683.6 588.2 687.1 592.6 690.2C597.0 693.3 601.8 697.0 605.7 699.4C609.6 701.8 612.3 703.5 616.2 704.7C620.1 705.9 625.7 706.3 629.0 706.8" fill="none" stroke="#fff" stroke-width="1.2"/>
<path d="M470.8 786 C472 768 490 761.2 512.8 761.2 C536 761.2 554 768 554.8 786 Z" fill="#e6d8ef" stroke="#7a4aa8" stroke-width="0.9"/>
</g>
<rect x="460.8" y="666.6" width="167.1" height="117.4" fill="none" stroke="#8e8e8e" stroke-width="0.8"/>
<path d="M503.6 761.2 L497.6 697.5" stroke="#111" stroke-width="0.8"/>
<path d="M497.1 692.8 L499.6 699.3 L495.2 699.6 Z" fill="#111"/>
<circle cx="552.2" cy="678.9" r="2.4" fill="#6b3f98"/>
<circle cx="539.6" cy="690.2" r="2.4" fill="#cdbb9b"/>
<circle cx="469.5" cy="698.6" r="2.4" fill="#6b3f98"/>
<circle cx="467.6" cy="711.8" r="2.4" fill="#cdbb9b"/>
<circle cx="481.3" cy="717.3" r="2.4" fill="#6b3f98"/>
<circle cx="470.2" cy="722.3" r="2.4" fill="#1e88d8"/>
<circle cx="552.2" cy="712.5" r="2.4" fill="#6b3f98"/>
<circle cx="600.3" cy="713.3" r="2.4" fill="#cdbb9b"/>
<circle cx="614" cy="717.3" r="2.4" fill="#1e88d8"/>
<circle cx="544.3" cy="727.3" r="2.4" fill="#1e88d8"/>
<circle cx="582.4" cy="727.3" r="2.4" fill="#cdbb9b"/>
<circle cx="595.6" cy="729.6" r="2.4" fill="#6b3f98"/>
<circle cx="471.3" cy="743.6" r="2.4" fill="#cdbb9b"/>
<circle cx="490" cy="748.3" r="2.4" fill="#1e88d8"/>
<circle cx="487.3" cy="755.1" r="2.4" fill="#6b3f98"/>
<circle cx="616.6" cy="753.3" r="2.4" fill="#6b3f98"/>
<circle cx="472.9" cy="763.5" r="2.4" fill="#1e88d8"/>
<circle cx="549.6" cy="763.3" r="2.4" fill="#6b3f98"/>
<circle cx="572.4" cy="762.5" r="2.4" fill="#cdbb9b"/>
<circle cx="565.4" cy="774.6" r="2.4" fill="#1e88d8"/>
<circle cx="598.2" cy="777.4" r="2.4" fill="#1e88d8"/>
<circle cx="619.2" cy="779" r="2.4" fill="#cdbb9b"/>
<text x="506.20" y="703.40" font-size="9.46" fill="#222" stroke="#222" stroke-width="0.05" textLength="92.00" lengthAdjust="spacingAndGlyphs">Peripheral localization</text>
<text x="506.20" y="713.90" font-size="9.46" fill="#222" stroke="#222" stroke-width="0.05" textLength="17.60" lengthAdjust="spacingAndGlyphs"><tspan font-style="italic">d</tspan> = 1</text>
<text x="510.70" y="748.00" font-size="9.46" fill="#222" stroke="#222" stroke-width="0.05" textLength="96.20" lengthAdjust="spacingAndGlyphs">Perinuclear localization</text>
<text x="510.70" y="759.30" font-size="9.46" fill="#222" stroke="#222" stroke-width="0.05" textLength="19.20" lengthAdjust="spacingAndGlyphs"><tspan font-style="italic">d</tspan> = 0</text>
</svg>
</body></html>
